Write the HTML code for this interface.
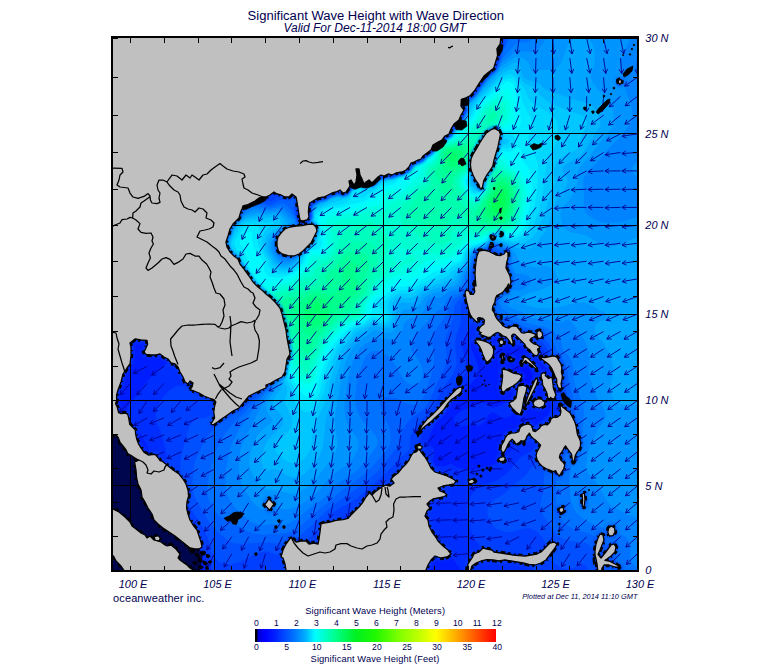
<!DOCTYPE html><html><head><meta charset="utf-8"><title>Significant Wave Height</title>
<style>html,body{margin:0;padding:0;background:#fff;}body{width:775px;height:665px;overflow:hidden;font-family:"Liberation Sans",sans-serif;}svg{display:block}text{font-family:"Liberation Sans",sans-serif;}</style></head><body>
<svg width="775" height="665" viewBox="0 0 775 665">
<rect width="775" height="665" fill="#fff"/>
<defs><clipPath id="mc"><rect x="113" y="38" width="524" height="532"/></clipPath>
<linearGradient id="cb" x1="0" x2="1" y1="0" y2="0">
<stop offset="0" stop-color="#000000"/>
<stop offset="0.008" stop-color="#000000"/>
<stop offset="0.012" stop-color="#0000d0"/>
<stop offset="0.04" stop-color="#0000ff"/>
<stop offset="0.083" stop-color="#0020ff"/>
<stop offset="0.166" stop-color="#0078ff"/>
<stop offset="0.21" stop-color="#00b0ff"/>
<stop offset="0.25" stop-color="#00ffff"/>
<stop offset="0.33" stop-color="#00ff90"/>
<stop offset="0.42" stop-color="#00f020"/>
<stop offset="0.5" stop-color="#20f800"/>
<stop offset="0.6" stop-color="#80ff00"/>
<stop offset="0.69" stop-color="#c8ff00"/>
<stop offset="0.75" stop-color="#ffff00"/>
<stop offset="0.83" stop-color="#ffb000"/>
<stop offset="0.92" stop-color="#ff5000"/>
<stop offset="1" stop-color="#ff0000"/>
</linearGradient><filter id="hb" x="-5%" y="-5%" width="110%" height="110%"><feGaussianBlur stdDeviation="1.4"/></filter></defs>
<g clip-path="url(#mc)">
<rect x="113" y="38" width="524" height="532" fill="#0a5cf0"/>
<rect x="112" y="37" width="526" height="534" fill="rgb(0, 0, 138)"/>
<path d="M108.0 32.0L112.0 32.0L116.0 32.0L120.0 32.0L124.0 32.0L128.0 32.0L132.0 32.0L136.0 32.0L140.0 32.0L144.0 32.0L148.0 32.0L152.0 32.0L156.0 32.0L160.0 32.0L164.0 32.0L168.0 32.0L172.0 32.0L176.0 32.0L180.0 32.0L184.0 32.0L188.0 32.0L192.0 32.0L196.0 32.0L200.0 32.0L204.0 32.0L208.0 32.0L212.0 32.0L216.0 32.0L220.0 32.0L224.0 32.0L228.0 32.0L232.0 32.0L236.0 32.0L240.0 32.0L244.0 32.0L248.0 32.0L252.0 32.0L256.0 32.0L260.0 32.0L264.0 32.0L268.0 32.0L272.0 32.0L276.0 32.0L280.0 32.0L284.0 32.0L288.0 32.0L292.0 32.0L296.0 32.0L300.0 32.0L304.0 32.0L308.0 32.0L312.0 32.0L316.0 32.0L320.0 32.0L324.0 32.0L328.0 32.0L332.0 32.0L336.0 32.0L340.0 32.0L344.0 32.0L348.0 32.0L352.0 32.0L356.0 32.0L360.0 32.0L364.0 32.0L368.0 32.0L372.0 32.0L376.0 32.0L380.0 32.0L384.0 32.0L388.0 32.0L392.0 32.0L396.0 32.0L400.0 32.0L404.0 32.0L408.0 32.0L412.0 32.0L416.0 32.0L420.0 32.0L424.0 32.0L428.0 32.0L432.0 32.0L436.0 32.0L440.0 32.0L444.0 32.0L448.0 32.0L452.0 32.0L456.0 32.0L460.0 32.0L464.0 32.0L468.0 32.0L472.0 32.0L476.0 32.0L480.0 32.0L484.0 32.0L488.0 32.0L492.0 32.0L496.0 32.0L500.0 32.0L504.0 32.0L508.0 32.0L512.0 32.0L516.0 32.0L520.0 32.0L524.0 32.0L528.0 32.0L532.0 32.0L536.0 32.0L540.0 32.0L544.0 32.0L548.0 32.0L552.0 32.0L556.0 32.0L560.0 32.0L564.0 32.0L568.0 32.0L572.0 32.0L576.0 32.0L580.0 32.0L584.0 32.0L588.0 32.0L592.0 32.0L596.0 32.0L600.0 32.0L604.0 32.0L608.0 32.0L612.0 32.0L616.0 32.0L620.0 32.0L624.0 32.0L628.0 32.0L632.0 32.0L636.0 32.0L640.0 32.0L644.0 32.0L644.0 36.0L644.0 40.0L644.0 44.0L644.0 48.0L644.0 52.0L644.0 56.0L644.0 60.0L644.0 64.0L644.0 68.0L644.0 72.0L644.0 76.0L644.0 80.0L644.0 84.0L644.0 88.0L644.0 92.0L644.0 96.0L644.0 100.0L644.0 104.0L644.0 108.0L644.0 112.0L644.0 116.0L644.0 120.0L644.0 124.0L644.0 128.0L644.0 132.0L644.0 136.0L644.0 140.0L644.0 144.0L644.0 148.0L644.0 152.0L644.0 156.0L644.0 160.0L644.0 164.0L644.0 168.0L644.0 172.0L644.0 176.0L644.0 180.0L644.0 184.0L644.0 188.0L644.0 192.0L644.0 196.0L644.0 200.0L644.0 204.0L644.0 208.0L644.0 212.0L644.0 216.0L644.0 220.0L644.0 224.0L644.0 228.0L644.0 232.0L644.0 236.0L644.0 240.0L644.0 244.0L644.0 248.0L644.0 252.0L644.0 256.0L644.0 260.0L644.0 264.0L644.0 268.0L644.0 272.0L644.0 276.0L644.0 280.0L644.0 284.0L644.0 288.0L644.0 292.0L644.0 296.0L644.0 300.0L644.0 304.0L644.0 308.0L644.0 312.0L644.0 316.0L644.0 320.0L644.0 324.0L644.0 328.0L644.0 332.0L644.0 336.0L644.0 340.0L644.0 344.0L644.0 348.0L644.0 352.0L644.0 356.0L644.0 360.0L644.0 364.0L644.0 368.0L644.0 372.0L644.0 376.0L644.0 380.0L644.0 384.0L644.0 388.0L644.0 392.0L644.0 396.0L644.0 400.0L644.0 404.0L644.0 408.0L644.0 412.0L644.0 416.0L644.0 420.0L644.0 424.0L644.0 428.0L644.0 432.0L644.0 436.0L644.0 440.0L644.0 444.0L644.0 448.0L644.0 452.0L644.0 456.0L644.0 460.0L644.0 464.0L644.0 468.0L644.0 472.0L644.0 476.0L644.0 480.0L644.0 484.0L644.0 488.0L644.0 492.0L644.0 496.0L644.0 500.0L644.0 504.0L644.0 508.0L644.0 512.0L644.0 516.0L644.0 520.0L644.0 524.0L644.0 528.0L644.0 532.0L644.0 536.0L644.0 540.0L644.0 544.0L644.0 548.0L644.0 552.0L644.0 556.0L644.0 560.0L644.0 564.0L644.0 568.0L644.0 572.0L644.0 576.0L640.0 576.0L636.0 576.0L632.0 576.0L628.0 576.0L624.0 576.0L620.0 576.0L616.0 576.0L612.0 576.0L608.0 576.0L604.0 576.0L600.0 576.0L596.0 576.0L592.0 576.0L588.0 576.0L584.0 576.0L580.0 576.0L576.0 576.0L572.0 576.0L568.0 576.0L564.0 576.0L560.0 576.0L556.0 576.0L552.0 576.0L548.0 576.0L544.0 576.0L540.0 576.0L536.0 576.0L532.0 576.0L528.0 576.0L524.0 576.0L520.0 576.0L516.0 576.0L512.0 576.0L508.0 576.0L504.0 576.0L500.0 576.0L496.0 576.0L492.0 576.0L488.0 576.0L484.0 576.0L480.0 576.0L476.0 576.0L472.0 576.0L468.0 576.0L464.0 576.0L460.0 576.0L456.0 576.0L452.0 576.0L448.0 576.0L444.0 576.0L440.0 576.0L436.0 576.0L432.0 576.0L428.0 576.0L424.0 576.0L420.0 576.0L416.0 576.0L412.0 576.0L408.0 576.0L404.0 576.0L400.0 576.0L396.0 576.0L392.0 576.0L388.0 576.0L384.0 576.0L380.0 576.0L376.0 576.0L372.0 576.0L368.0 576.0L364.0 576.0L360.0 576.0L356.0 576.0L352.0 576.0L348.0 576.0L344.0 576.0L340.0 576.0L336.0 576.0L332.0 576.0L328.0 576.0L324.0 576.0L320.0 576.0L316.0 576.0L312.0 576.0L308.0 576.0L304.0 576.0L300.0 576.0L296.0 576.0L292.0 576.0L288.0 576.0L284.0 576.0L280.0 576.0L276.0 576.0L272.0 576.0L268.0 576.0L264.0 576.0L260.0 576.0L256.0 576.0L252.0 576.0L248.0 576.0L244.0 576.0L240.0 576.0L236.0 576.0L232.0 576.0L228.0 576.0L224.0 576.0L220.0 576.0L216.0 576.0L212.0 576.0L208.0 576.0L204.0 576.0L200.0 576.0L196.7 576.0L197.2 572.0L197.3 568.0L196.8 564.0L196.0 561.7L195.1 560.0L192.0 556.2L191.8 556.0L188.0 552.7L187.1 552.0L184.0 549.2L182.7 548.0L180.0 545.2L178.8 544.0L176.0 540.9L175.2 540.0L172.0 536.8L171.0 536.0L168.0 533.4L166.3 532.0L164.0 530.0L161.7 528.0L160.0 526.3L157.6 524.0L156.0 522.4L153.7 520.0L152.0 518.2L149.8 516.0L148.0 513.8L146.4 512.0L144.0 508.7L143.5 508.0L140.8 504.0L140.0 502.6L138.4 500.0L136.3 496.0L136.0 495.4L134.2 492.0L132.4 488.0L132.0 486.7L131.0 484.0L129.9 480.0L129.4 476.0L129.0 472.0L128.7 468.0L128.1 464.0L128.0 463.5L126.9 460.0L125.0 456.0L124.0 454.2L122.7 452.0L120.0 448.2L119.8 448.0L116.0 444.3L115.5 444.0L112.0 441.6L108.4 440.0L108.0 439.8L108.0 436.0L108.0 432.0L108.0 428.0L108.0 424.0L108.0 420.0L108.0 416.0L108.0 412.0L108.0 408.0L108.0 404.0L108.0 400.0L108.0 396.0L108.0 392.0L108.0 388.0L108.0 384.0L108.0 380.0L108.0 376.0L108.0 372.0L108.0 368.0L108.0 364.0L108.0 360.0L108.0 356.0L108.0 352.0L108.0 348.0L108.0 344.0L108.0 340.0L108.0 336.0L108.0 332.0L108.0 328.0L108.0 324.0L108.0 320.0L108.0 316.0L108.0 312.0L108.0 308.0L108.0 304.0L108.0 300.0L108.0 296.0L108.0 292.0L108.0 288.0L108.0 284.0L108.0 280.0L108.0 276.0L108.0 272.0L108.0 268.0L108.0 264.0L108.0 260.0L108.0 256.0L108.0 252.0L108.0 248.0L108.0 244.0L108.0 240.0L108.0 236.0L108.0 232.0L108.0 228.0L108.0 224.0L108.0 220.0L108.0 216.0L108.0 212.0L108.0 208.0L108.0 204.0L108.0 200.0L108.0 196.0L108.0 192.0L108.0 188.0L108.0 184.0L108.0 180.0L108.0 176.0L108.0 172.0L108.0 168.0L108.0 164.0L108.0 160.0L108.0 156.0L108.0 152.0L108.0 148.0L108.0 144.0L108.0 140.0L108.0 136.0L108.0 132.0L108.0 128.0L108.0 124.0L108.0 120.0L108.0 116.0L108.0 112.0L108.0 108.0L108.0 104.0L108.0 100.0L108.0 96.0L108.0 92.0L108.0 88.0L108.0 84.0L108.0 80.0L108.0 76.0L108.0 72.0L108.0 68.0L108.0 64.0L108.0 60.0L108.0 56.0L108.0 52.0L108.0 48.0L108.0 44.0L108.0 40.0L108.0 36.0L108.0 32.0Z" fill="rgb(0,15,255)" fill-rule="evenodd"/>
<path d="M108.0 32.0L112.0 32.0L116.0 32.0L120.0 32.0L124.0 32.0L128.0 32.0L132.0 32.0L136.0 32.0L140.0 32.0L144.0 32.0L148.0 32.0L152.0 32.0L156.0 32.0L160.0 32.0L164.0 32.0L168.0 32.0L172.0 32.0L176.0 32.0L180.0 32.0L184.0 32.0L188.0 32.0L192.0 32.0L196.0 32.0L200.0 32.0L204.0 32.0L208.0 32.0L212.0 32.0L216.0 32.0L220.0 32.0L224.0 32.0L228.0 32.0L232.0 32.0L236.0 32.0L240.0 32.0L244.0 32.0L248.0 32.0L252.0 32.0L256.0 32.0L260.0 32.0L264.0 32.0L268.0 32.0L272.0 32.0L276.0 32.0L280.0 32.0L284.0 32.0L288.0 32.0L292.0 32.0L296.0 32.0L300.0 32.0L304.0 32.0L308.0 32.0L312.0 32.0L316.0 32.0L320.0 32.0L324.0 32.0L328.0 32.0L332.0 32.0L336.0 32.0L340.0 32.0L344.0 32.0L348.0 32.0L352.0 32.0L356.0 32.0L360.0 32.0L364.0 32.0L368.0 32.0L372.0 32.0L376.0 32.0L380.0 32.0L384.0 32.0L388.0 32.0L392.0 32.0L396.0 32.0L400.0 32.0L404.0 32.0L408.0 32.0L412.0 32.0L416.0 32.0L420.0 32.0L424.0 32.0L428.0 32.0L432.0 32.0L436.0 32.0L440.0 32.0L444.0 32.0L448.0 32.0L452.0 32.0L456.0 32.0L460.0 32.0L464.0 32.0L468.0 32.0L472.0 32.0L476.0 32.0L480.0 32.0L484.0 32.0L488.0 32.0L492.0 32.0L496.0 32.0L500.0 32.0L504.0 32.0L508.0 32.0L512.0 32.0L516.0 32.0L520.0 32.0L524.0 32.0L528.0 32.0L532.0 32.0L536.0 32.0L540.0 32.0L544.0 32.0L548.0 32.0L552.0 32.0L556.0 32.0L560.0 32.0L564.0 32.0L568.0 32.0L572.0 32.0L576.0 32.0L580.0 32.0L584.0 32.0L588.0 32.0L592.0 32.0L596.0 32.0L600.0 32.0L604.0 32.0L608.0 32.0L612.0 32.0L616.0 32.0L620.0 32.0L624.0 32.0L628.0 32.0L632.0 32.0L636.0 32.0L640.0 32.0L644.0 32.0L644.0 36.0L644.0 40.0L644.0 44.0L644.0 48.0L644.0 52.0L644.0 56.0L644.0 60.0L644.0 64.0L644.0 68.0L644.0 72.0L644.0 76.0L644.0 80.0L644.0 84.0L644.0 88.0L644.0 92.0L644.0 96.0L644.0 100.0L644.0 104.0L644.0 108.0L644.0 112.0L644.0 116.0L644.0 120.0L644.0 124.0L644.0 128.0L644.0 132.0L644.0 136.0L644.0 140.0L644.0 144.0L644.0 148.0L644.0 152.0L644.0 156.0L644.0 160.0L644.0 164.0L644.0 168.0L644.0 172.0L644.0 176.0L644.0 180.0L644.0 184.0L644.0 188.0L644.0 192.0L644.0 196.0L644.0 200.0L644.0 204.0L644.0 208.0L644.0 212.0L644.0 216.0L644.0 220.0L644.0 224.0L644.0 228.0L644.0 232.0L644.0 236.0L644.0 240.0L644.0 244.0L644.0 248.0L644.0 252.0L644.0 256.0L644.0 260.0L644.0 264.0L644.0 268.0L644.0 272.0L644.0 276.0L644.0 280.0L644.0 284.0L644.0 288.0L644.0 292.0L644.0 296.0L644.0 300.0L644.0 304.0L644.0 308.0L644.0 312.0L644.0 316.0L644.0 320.0L644.0 324.0L644.0 328.0L644.0 332.0L644.0 336.0L644.0 340.0L644.0 344.0L644.0 348.0L644.0 352.0L644.0 356.0L644.0 360.0L644.0 364.0L644.0 368.0L644.0 372.0L644.0 376.0L644.0 380.0L644.0 384.0L644.0 388.0L644.0 392.0L644.0 396.0L644.0 400.0L644.0 404.0L644.0 408.0L644.0 412.0L644.0 416.0L644.0 420.0L644.0 424.0L644.0 428.0L644.0 432.0L644.0 436.0L644.0 440.0L644.0 444.0L644.0 448.0L644.0 452.0L644.0 456.0L644.0 460.0L644.0 464.0L644.0 468.0L644.0 472.0L644.0 476.0L644.0 480.0L644.0 484.0L644.0 488.0L644.0 492.0L644.0 496.0L644.0 500.0L644.0 504.0L644.0 508.0L644.0 512.0L644.0 516.0L644.0 520.0L644.0 524.0L644.0 528.0L644.0 532.0L644.0 536.0L644.0 540.0L644.0 544.0L644.0 548.0L644.0 552.0L644.0 556.0L644.0 560.0L644.0 564.0L644.0 568.0L644.0 572.0L644.0 576.0L640.0 576.0L636.0 576.0L632.0 576.0L628.0 576.0L624.0 576.0L620.0 576.0L616.0 576.0L612.0 576.0L608.0 576.0L604.0 576.0L600.0 576.0L596.0 576.0L592.0 576.0L588.0 576.0L584.0 576.0L580.0 576.0L576.0 576.0L572.0 576.0L568.0 576.0L564.0 576.0L560.0 576.0L556.0 576.0L552.0 576.0L548.0 576.0L544.0 576.0L540.0 576.0L536.0 576.0L532.0 576.0L528.0 576.0L524.0 576.0L520.0 576.0L516.0 576.0L512.0 576.0L508.0 576.0L504.0 576.0L500.0 576.0L496.0 576.0L492.0 576.0L488.0 576.0L484.0 576.0L480.0 576.0L476.0 576.0L472.0 576.0L468.0 576.0L464.0 576.0L460.0 576.0L456.0 576.0L452.0 576.0L448.0 576.0L444.0 576.0L440.0 576.0L436.0 576.0L432.0 576.0L428.0 576.0L424.0 576.0L420.0 576.0L416.0 576.0L412.0 576.0L408.0 576.0L404.0 576.0L400.0 576.0L396.0 576.0L392.0 576.0L388.0 576.0L384.0 576.0L380.0 576.0L376.0 576.0L372.0 576.0L368.0 576.0L364.0 576.0L360.0 576.0L356.0 576.0L352.0 576.0L348.0 576.0L344.0 576.0L340.0 576.0L336.0 576.0L332.0 576.0L328.0 576.0L324.0 576.0L320.0 576.0L316.0 576.0L312.0 576.0L308.0 576.0L304.0 576.0L300.0 576.0L296.0 576.0L292.0 576.0L288.0 576.0L284.0 576.0L280.0 576.0L276.0 576.0L272.0 576.0L268.0 576.0L264.0 576.0L260.0 576.0L256.0 576.0L252.0 576.0L248.0 576.0L244.0 576.0L240.0 576.0L236.0 576.0L232.0 576.0L228.0 576.0L224.0 576.0L220.0 576.0L216.0 576.0L212.0 576.0L208.0 576.0L204.0 576.0L201.4 576.0L201.2 572.0L200.9 568.0L200.3 564.0L200.0 563.1L198.9 560.0L196.7 556.0L196.0 554.9L193.5 552.0L192.0 550.1L189.9 548.0L188.0 545.7L186.4 544.0L184.0 541.1L183.0 540.0L180.0 536.5L179.6 536.0L176.0 532.1L175.9 532.0L172.0 528.0L172.0 528.0L168.0 524.0L168.0 524.0L164.3 520.0L164.0 519.6L160.9 516.0L160.0 514.7L157.9 512.0L156.0 508.8L155.5 508.0L152.9 504.0L152.0 502.7L150.2 500.0L148.0 496.1L147.9 496.0L146.0 492.0L144.3 488.0L144.0 487.2L142.8 484.0L141.6 480.0L140.7 476.0L140.0 472.4L139.9 472.0L139.1 468.0L138.1 464.0L136.9 460.0L136.0 457.2L135.6 456.0L133.8 452.0L132.0 448.8L131.5 448.0L128.8 444.0L128.0 443.0L125.6 440.0L124.0 438.1L122.1 436.0L120.0 433.7L118.3 432.0L116.0 429.4L114.6 428.0L112.0 424.9L110.9 424.0L108.0 421.1L108.0 420.0L108.0 416.0L108.0 412.0L108.0 408.0L108.0 404.0L108.0 400.0L108.0 396.0L108.0 392.0L108.0 388.0L108.0 384.0L108.0 380.0L108.0 376.0L108.0 372.0L108.0 368.0L108.0 364.0L108.0 360.0L108.0 356.0L108.0 352.0L108.0 348.0L108.0 344.0L108.0 340.0L108.0 336.0L108.0 332.0L108.0 328.0L108.0 324.0L108.0 320.0L108.0 316.0L108.0 312.0L108.0 308.0L108.0 304.0L108.0 300.0L108.0 296.0L108.0 292.0L108.0 288.0L108.0 284.0L108.0 280.0L108.0 276.0L108.0 272.0L108.0 268.0L108.0 264.0L108.0 260.0L108.0 256.0L108.0 252.0L108.0 248.0L108.0 244.0L108.0 240.0L108.0 236.0L108.0 232.0L108.0 228.0L108.0 224.0L108.0 220.0L108.0 216.0L108.0 212.0L108.0 208.0L108.0 204.0L108.0 200.0L108.0 196.0L108.0 192.0L108.0 188.0L108.0 184.0L108.0 180.0L108.0 176.0L108.0 172.0L108.0 168.0L108.0 164.0L108.0 160.0L108.0 156.0L108.0 152.0L108.0 148.0L108.0 144.0L108.0 140.0L108.0 136.0L108.0 132.0L108.0 128.0L108.0 124.0L108.0 120.0L108.0 116.0L108.0 112.0L108.0 108.0L108.0 104.0L108.0 100.0L108.0 96.0L108.0 92.0L108.0 88.0L108.0 84.0L108.0 80.0L108.0 76.0L108.0 72.0L108.0 68.0L108.0 64.0L108.0 60.0L108.0 56.0L108.0 52.0L108.0 48.0L108.0 44.0L108.0 40.0L108.0 36.0L108.0 32.0ZM520.0 363.3L519.3 364.0L516.0 367.2L514.1 368.0L512.0 369.2L508.0 370.7L505.0 372.0L504.0 372.9L501.4 376.0L500.0 379.4L499.9 380.0L500.0 380.9L501.1 384.0L504.0 386.4L508.0 387.2L512.0 387.7L514.9 388.0L516.0 388.1L520.0 388.5L521.8 388.0L524.0 387.3L528.0 385.0L531.7 384.0L532.0 383.8L532.3 384.0L536.0 384.9L540.0 386.0L542.0 384.0L544.0 380.9L544.2 380.0L544.0 378.7L540.0 378.4L536.0 379.2L532.2 376.0L532.0 375.8L530.2 372.0L528.8 368.0L528.0 364.1L528.0 364.0L524.0 360.8L520.0 363.3Z" fill="rgb(0,29,255)" fill-rule="evenodd"/>
<path d="M108.0 32.0L112.0 32.0L116.0 32.0L120.0 32.0L124.0 32.0L128.0 32.0L128.6 32.0L130.6 36.0L132.0 37.6L134.0 40.0L136.0 42.1L137.8 44.0L140.0 46.3L141.6 48.0L144.0 50.8L144.6 52.0L147.1 56.0L148.0 56.9L150.6 60.0L152.0 61.4L154.5 64.0L156.0 65.6L158.5 68.0L160.0 69.6L162.8 72.0L164.0 73.4L165.5 76.0L168.0 79.2L168.5 80.0L172.0 83.7L172.2 84.0L174.6 88.0L176.0 89.8L177.2 92.0L179.9 96.0L180.0 96.1L182.6 100.0L184.0 101.4L186.2 104.0L188.0 106.5L188.8 108.0L192.0 111.9L192.0 112.0L195.6 116.0L196.0 116.5L198.0 120.0L200.0 122.6L201.0 124.0L203.5 128.0L204.0 128.5L207.3 132.0L208.0 132.7L210.9 136.0L212.0 137.5L214.2 140.0L216.0 141.8L218.4 144.0L220.0 145.7L222.4 148.0L224.0 149.6L226.9 152.0L228.0 153.0L232.0 155.9L232.2 156.0L236.0 157.6L239.4 156.0L240.0 155.5L243.4 156.0L244.0 156.1L247.8 160.0L248.0 160.1L251.8 164.0L252.0 164.2L255.5 168.0L256.0 168.6L259.1 172.0L260.0 172.8L264.0 175.1L264.5 172.0L264.0 168.0L264.0 168.0L263.7 164.0L262.0 160.0L260.5 156.0L260.0 154.8L258.1 152.0L256.0 148.1L255.9 148.0L253.5 144.0L252.1 140.0L252.0 139.6L250.0 136.0L248.7 132.0L248.0 130.1L246.5 128.0L244.9 124.0L244.0 121.4L243.0 120.0L240.9 116.0L240.0 114.6L237.5 112.0L236.0 109.1L235.2 108.0L233.0 104.0L232.0 102.8L229.2 100.0L228.0 98.8L225.5 96.0L224.0 93.3L223.1 92.0L221.1 88.0L220.0 86.5L218.2 84.0L216.0 81.3L214.9 80.0L212.5 76.0L212.0 74.7L210.4 72.0L208.5 68.0L208.0 66.7L206.4 64.0L204.5 60.0L204.0 58.7L202.5 56.0L200.6 52.0L200.0 48.0L200.0 47.8L198.5 44.0L196.5 40.0L196.0 38.6L194.5 36.0L192.7 32.0L196.0 32.0L200.0 32.0L204.0 32.0L208.0 32.0L212.0 32.0L216.0 32.0L220.0 32.0L224.0 32.0L228.0 32.0L232.0 32.0L236.0 32.0L240.0 32.0L244.0 32.0L248.0 32.0L252.0 32.0L256.0 32.0L260.0 32.0L264.0 32.0L268.0 32.0L272.0 32.0L276.0 32.0L280.0 32.0L284.0 32.0L288.0 32.0L292.0 32.0L296.0 32.0L300.0 32.0L304.0 32.0L308.0 32.0L312.0 32.0L316.0 32.0L320.0 32.0L324.0 32.0L328.0 32.0L332.0 32.0L336.0 32.0L340.0 32.0L344.0 32.0L348.0 32.0L352.0 32.0L356.0 32.0L360.0 32.0L364.0 32.0L368.0 32.0L372.0 32.0L376.0 32.0L380.0 32.0L384.0 32.0L388.0 32.0L392.0 32.0L396.0 32.0L400.0 32.0L404.0 32.0L408.0 32.0L412.0 32.0L416.0 32.0L420.0 32.0L424.0 32.0L428.0 32.0L432.0 32.0L436.0 32.0L440.0 32.0L444.0 32.0L448.0 32.0L452.0 32.0L456.0 32.0L460.0 32.0L464.0 32.0L468.0 32.0L472.0 32.0L476.0 32.0L480.0 32.0L484.0 32.0L488.0 32.0L492.0 32.0L496.0 32.0L500.0 32.0L504.0 32.0L508.0 32.0L512.0 32.0L516.0 32.0L520.0 32.0L524.0 32.0L528.0 32.0L532.0 32.0L536.0 32.0L540.0 32.0L544.0 32.0L548.0 32.0L552.0 32.0L556.0 32.0L560.0 32.0L564.0 32.0L568.0 32.0L572.0 32.0L576.0 32.0L580.0 32.0L584.0 32.0L588.0 32.0L592.0 32.0L596.0 32.0L600.0 32.0L604.0 32.0L608.0 32.0L612.0 32.0L616.0 32.0L620.0 32.0L624.0 32.0L628.0 32.0L632.0 32.0L636.0 32.0L640.0 32.0L644.0 32.0L644.0 36.0L644.0 40.0L644.0 44.0L644.0 48.0L644.0 52.0L644.0 56.0L644.0 60.0L644.0 64.0L644.0 68.0L644.0 72.0L644.0 76.0L644.0 80.0L644.0 84.0L644.0 88.0L644.0 92.0L644.0 96.0L644.0 100.0L644.0 104.0L644.0 108.0L644.0 112.0L644.0 116.0L644.0 120.0L644.0 124.0L644.0 128.0L644.0 132.0L644.0 136.0L644.0 140.0L644.0 144.0L644.0 148.0L644.0 152.0L644.0 156.0L644.0 160.0L644.0 164.0L644.0 168.0L644.0 172.0L644.0 176.0L644.0 180.0L644.0 184.0L644.0 188.0L644.0 192.0L644.0 196.0L644.0 200.0L644.0 204.0L644.0 208.0L644.0 212.0L644.0 216.0L644.0 220.0L644.0 224.0L644.0 228.0L644.0 232.0L644.0 236.0L644.0 240.0L644.0 244.0L644.0 248.0L644.0 252.0L644.0 256.0L644.0 260.0L644.0 264.0L644.0 268.0L644.0 272.0L644.0 276.0L644.0 280.0L644.0 284.0L644.0 288.0L644.0 292.0L644.0 296.0L644.0 300.0L644.0 304.0L644.0 308.0L644.0 312.0L644.0 316.0L644.0 320.0L644.0 324.0L644.0 328.0L644.0 332.0L644.0 336.0L644.0 340.0L644.0 344.0L644.0 348.0L644.0 352.0L644.0 356.0L644.0 360.0L644.0 364.0L644.0 368.0L644.0 372.0L644.0 376.0L644.0 380.0L644.0 384.0L644.0 388.0L644.0 392.0L644.0 396.0L644.0 400.0L644.0 404.0L644.0 408.0L644.0 412.0L644.0 416.0L644.0 420.0L644.0 424.0L644.0 428.0L644.0 432.0L644.0 436.0L644.0 440.0L644.0 444.0L644.0 448.0L644.0 452.0L644.0 456.0L644.0 460.0L644.0 464.0L644.0 468.0L644.0 472.0L644.0 476.0L644.0 480.0L644.0 484.0L644.0 488.0L644.0 492.0L644.0 496.0L644.0 500.0L644.0 504.0L644.0 508.0L644.0 512.0L644.0 516.0L644.0 520.0L644.0 524.0L644.0 528.0L644.0 532.0L644.0 536.0L644.0 540.0L644.0 544.0L644.0 548.0L644.0 552.0L644.0 556.0L644.0 560.0L644.0 564.0L644.0 568.0L644.0 572.0L644.0 576.0L640.0 576.0L636.0 576.0L632.0 576.0L628.0 576.0L624.0 576.0L620.0 576.0L616.0 576.0L612.0 576.0L608.0 576.0L604.0 576.0L600.0 576.0L596.0 576.0L592.0 576.0L588.0 576.0L584.0 576.0L580.0 576.0L576.0 576.0L572.0 576.0L568.0 576.0L564.0 576.0L560.0 576.0L556.0 576.0L552.0 576.0L548.0 576.0L544.0 576.0L540.0 576.0L536.0 576.0L532.0 576.0L528.0 576.0L524.0 576.0L520.0 576.0L516.0 576.0L512.0 576.0L508.0 576.0L504.0 576.0L500.0 576.0L496.0 576.0L492.0 576.0L488.0 576.0L484.0 576.0L480.0 576.0L476.0 576.0L472.0 576.0L468.0 576.0L466.6 576.0L464.0 573.0L463.3 572.0L460.0 568.5L459.6 568.0L456.6 564.0L456.0 563.1L453.9 560.0L452.0 557.2L451.2 556.0L448.3 552.0L448.0 551.5L445.2 548.0L444.0 546.5L440.0 544.7L436.0 544.9L432.0 545.9L428.0 547.6L427.3 548.0L424.0 549.9L420.0 551.1L416.0 551.9L415.8 552.0L412.0 555.0L410.8 556.0L408.0 559.8L407.9 560.0L407.0 564.0L407.7 568.0L408.0 569.1L408.8 572.0L409.2 576.0L408.0 576.0L404.0 576.0L400.0 576.0L396.0 576.0L392.0 576.0L388.3 576.0L388.3 572.0L388.6 568.0L389.9 564.0L389.0 560.0L388.0 558.6L385.3 556.0L384.0 554.1L382.4 552.0L381.7 548.0L381.7 544.0L382.2 540.0L382.2 536.0L382.8 532.0L382.5 528.0L380.0 524.6L376.0 525.6L372.0 527.6L370.5 528.0L368.0 528.7L364.0 530.8L362.2 532.0L360.0 533.7L357.1 536.0L356.0 537.4L354.4 540.0L352.4 544.0L352.0 544.6L348.8 548.0L348.0 548.4L344.0 550.9L342.9 552.0L340.8 556.0L340.7 560.0L341.8 564.0L341.9 568.0L340.1 572.0L340.0 572.3L338.4 576.0L336.0 576.0L332.0 576.0L328.0 576.0L324.0 576.0L320.0 576.0L316.0 576.0L312.0 576.0L308.0 576.0L304.0 576.0L300.0 576.0L296.0 576.0L292.0 576.0L288.0 576.0L284.0 576.0L280.0 576.0L276.0 576.0L272.0 576.0L268.0 576.0L264.0 576.0L260.0 576.0L256.0 576.0L252.0 576.0L248.0 576.0L244.0 576.0L240.0 576.0L236.0 576.0L232.0 576.0L228.0 576.0L224.0 576.0L220.0 576.0L216.0 576.0L212.0 576.0L208.0 576.0L207.8 576.0L206.7 572.0L205.7 568.0L204.8 564.0L204.0 561.5L203.6 560.0L201.9 556.0L200.0 552.1L199.9 552.0L197.6 548.0L196.0 545.2L195.1 544.0L192.5 540.0L192.0 539.2L189.7 536.0L188.0 533.6L186.7 532.0L184.0 528.4L183.7 528.0L180.4 524.0L180.0 523.5L177.1 520.0L176.0 518.5L174.0 516.0L172.0 513.1L171.3 512.0L168.7 508.0L168.0 506.6L166.6 504.0L164.7 500.0L164.0 498.7L162.6 496.0L160.6 492.0L160.0 490.7L158.8 488.0L157.6 484.0L156.7 480.0L156.0 476.1L156.0 476.0L155.1 472.0L154.1 468.0L153.0 464.0L152.0 460.4L151.9 460.0L150.7 456.0L149.3 452.0L148.0 448.5L147.8 448.0L146.0 444.0L144.0 440.0L144.0 439.9L141.8 436.0L140.0 433.2L139.1 432.0L136.1 428.0L136.0 427.9L133.1 424.0L132.0 422.5L130.2 420.0L128.1 416.0L128.0 415.8L127.3 412.0L127.7 408.0L128.0 407.2L129.5 404.0L132.0 400.8L132.7 400.0L136.0 396.3L136.3 396.0L139.3 392.0L140.0 391.0L142.2 388.0L144.0 385.5L145.1 384.0L148.0 380.2L148.2 380.0L152.0 376.0L152.0 376.0L156.0 372.6L156.8 372.0L160.0 369.5L161.8 368.0L164.0 365.9L166.0 364.0L168.0 362.1L170.4 360.0L172.0 358.5L175.0 356.0L176.0 355.1L179.9 352.0L180.0 351.9L184.0 348.7L184.9 348.0L188.0 345.3L188.8 344.0L188.4 340.0L188.0 339.5L185.2 336.0L184.0 335.4L180.0 332.4L179.6 332.0L176.0 330.8L172.0 329.7L169.9 328.0L168.0 326.9L165.2 324.0L164.0 322.8L161.5 320.0L160.0 318.4L157.8 316.0L156.0 314.4L152.0 312.5L150.6 312.0L148.0 311.5L144.0 309.6L141.4 308.0L140.0 307.4L136.0 305.4L133.7 304.0L132.0 303.3L128.0 301.2L125.3 300.0L124.0 299.7L120.0 299.0L116.0 296.9L113.7 296.0L112.0 295.6L108.0 295.5L108.0 292.0L108.0 288.0L108.0 284.0L108.0 280.0L108.0 276.0L108.0 272.0L108.0 268.0L108.0 264.0L108.0 260.0L108.0 256.0L108.0 252.0L108.0 248.0L108.0 244.0L108.0 240.0L108.0 236.0L108.0 232.0L108.0 228.0L108.0 224.0L108.0 220.0L108.0 216.0L108.0 212.0L108.0 211.5L112.0 211.5L116.0 211.3L120.0 211.8L121.4 208.0L120.0 205.5L119.3 204.0L116.3 200.0L116.0 199.6L112.9 196.0L112.0 195.0L109.3 192.0L108.0 190.9L108.0 188.0L108.0 184.0L108.0 180.0L108.0 176.0L108.0 172.0L108.0 168.0L108.0 164.0L108.0 160.0L108.0 156.0L108.0 152.0L108.0 148.0L108.0 144.0L108.0 140.0L108.0 136.0L108.0 132.0L108.0 128.0L108.0 124.0L108.0 120.0L108.0 116.0L108.0 112.0L108.0 108.0L108.0 104.0L108.0 100.0L108.0 96.0L108.0 92.0L108.0 88.0L108.0 84.0L108.0 80.0L108.0 76.0L108.0 72.0L108.0 68.0L108.0 64.0L108.0 60.0L108.0 56.0L108.0 52.0L108.0 48.0L108.0 44.0L108.0 40.0L108.0 36.0L108.0 32.0ZM380.0 43.4L378.8 44.0L380.0 44.7L380.9 44.0L380.0 43.4ZM476.0 338.5L473.6 340.0L472.0 341.6L470.8 344.0L470.9 348.0L472.0 350.6L472.7 352.0L474.9 356.0L476.0 358.8L476.5 360.0L477.6 364.0L478.4 368.0L478.8 372.0L477.8 376.0L476.0 377.9L474.6 380.0L472.0 382.8L470.7 384.0L468.0 386.1L465.2 388.0L464.0 388.9L460.2 392.0L460.0 392.2L456.7 396.0L456.0 396.8L453.2 400.0L452.0 401.2L449.9 404.0L448.0 406.9L447.4 408.0L445.7 412.0L444.0 414.9L443.2 416.0L440.0 418.6L438.6 420.0L436.0 422.7L435.0 424.0L432.9 428.0L432.0 430.2L431.3 432.0L429.7 436.0L428.3 440.0L428.6 444.0L432.0 447.3L433.1 448.0L435.0 452.0L433.7 456.0L432.8 460.0L434.2 464.0L436.0 465.9L440.0 466.6L444.0 466.4L448.0 464.7L452.0 464.3L456.0 466.5L460.0 467.9L460.2 468.0L464.0 469.1L468.0 469.7L472.0 469.7L476.0 469.3L480.0 468.3L481.1 468.0L484.0 467.1L488.0 465.9L492.0 465.0L496.0 464.0L496.1 464.0L500.0 462.3L502.9 460.0L504.0 458.8L506.2 456.0L508.0 453.8L509.5 452.0L512.0 449.1L513.0 448.0L516.0 444.6L516.6 444.0L519.7 440.0L520.0 439.2L521.8 436.0L524.0 432.6L524.8 432.0L528.0 429.9L531.3 428.0L532.0 427.7L536.0 425.1L537.3 424.0L540.0 421.8L542.8 420.0L544.0 417.9L546.9 416.0L548.0 414.9L549.5 412.0L550.4 408.0L550.7 404.0L550.5 400.0L550.2 396.0L550.4 392.0L551.0 388.0L551.7 384.0L552.0 382.0L552.2 380.0L552.0 376.6L552.0 376.0L550.2 372.0L548.0 369.0L546.7 368.0L544.0 365.0L543.0 364.0L541.3 360.0L540.7 356.0L540.0 353.3L539.7 352.0L536.9 348.0L536.0 347.3L532.0 345.9L528.0 345.8L524.0 346.2L520.0 346.1L516.0 345.0L514.3 344.0L512.0 342.9L508.0 340.4L507.4 340.0L504.0 338.4L500.0 337.2L496.0 337.1L492.0 337.7L488.0 338.0L484.0 338.0L480.0 338.0L476.0 338.5ZM476.6 404.0L480.0 402.0L484.0 402.2L487.1 404.0L488.0 404.8L492.0 407.4L496.0 406.9L500.0 405.3L502.6 404.0L504.0 403.3L508.0 402.7L511.1 404.0L512.0 405.1L513.9 408.0L513.6 412.0L512.0 414.4L510.6 416.0L508.0 417.5L504.0 417.9L500.0 416.7L499.0 416.0L496.0 413.7L492.0 412.1L488.0 415.4L487.8 416.0L485.6 420.0L484.0 422.4L482.1 424.0L480.0 425.4L476.0 425.4L472.0 424.8L468.0 425.1L464.0 426.2L460.0 426.7L456.0 424.7L455.4 424.0L453.5 420.0L455.2 416.0L456.0 415.4L460.0 412.0L460.0 412.0L464.0 409.6L468.0 408.3L468.7 408.0L472.0 406.7L476.0 404.3L476.6 404.0ZM447.9 452.0L448.0 451.9L448.1 452.0L448.0 452.2L447.9 452.0ZM367.7 560.0L368.0 559.8L372.0 559.5L374.1 560.0L375.5 564.0L375.0 568.0L372.6 572.0L372.0 572.6L371.9 572.0L368.0 568.5L367.7 568.0L366.4 564.0L367.7 560.0Z" fill="rgb(0,46,255)" fill-rule="evenodd"/>
<path d="M195.1 32.0L196.0 32.0L200.0 32.0L204.0 32.0L208.0 32.0L212.0 32.0L216.0 32.0L220.0 32.0L224.0 32.0L228.0 32.0L232.0 32.0L236.0 32.0L240.0 32.0L244.0 32.0L248.0 32.0L252.0 32.0L256.0 32.0L260.0 32.0L264.0 32.0L268.0 32.0L272.0 32.0L276.0 32.0L280.0 32.0L284.0 32.0L288.0 32.0L292.0 32.0L296.0 32.0L300.0 32.0L304.0 32.0L308.0 32.0L312.0 32.0L316.0 32.0L320.0 32.0L324.0 32.0L328.0 32.0L332.0 32.0L336.0 32.0L340.0 32.0L344.0 32.0L348.0 32.0L352.0 32.0L356.0 32.0L360.0 32.0L364.0 32.0L364.5 32.0L367.0 36.0L368.0 37.2L370.1 40.0L372.0 43.6L372.2 44.0L376.0 47.8L376.2 48.0L380.0 51.2L380.9 52.0L384.0 54.4L386.6 56.0L388.0 56.6L392.0 58.9L393.4 60.0L396.0 62.7L397.7 64.0L400.0 66.4L403.7 68.0L404.0 68.2L408.0 68.1L408.1 68.0L409.1 64.0L408.0 62.3L406.5 60.0L404.0 56.0L404.0 55.9L401.6 52.0L400.0 50.3L396.8 48.0L396.0 47.6L392.0 44.9L391.0 44.0L388.0 41.4L385.9 40.0L384.0 39.2L380.0 36.2L379.8 36.0L377.2 32.0L380.0 32.0L384.0 32.0L388.0 32.0L392.0 32.0L396.0 32.0L400.0 32.0L404.0 32.0L406.2 32.0L408.0 32.7L409.0 32.0L412.0 32.0L416.0 32.0L420.0 32.0L424.0 32.0L428.0 32.0L432.0 32.0L436.0 32.0L440.0 32.0L444.0 32.0L448.0 32.0L452.0 32.0L456.0 32.0L460.0 32.0L464.0 32.0L468.0 32.0L472.0 32.0L476.0 32.0L480.0 32.0L484.0 32.0L488.0 32.0L492.0 32.0L496.0 32.0L500.0 32.0L504.0 32.0L508.0 32.0L512.0 32.0L516.0 32.0L520.0 32.0L524.0 32.0L528.0 32.0L532.0 32.0L536.0 32.0L540.0 32.0L544.0 32.0L548.0 32.0L552.0 32.0L556.0 32.0L560.0 32.0L564.0 32.0L568.0 32.0L572.0 32.0L576.0 32.0L580.0 32.0L584.0 32.0L588.0 32.0L592.0 32.0L596.0 32.0L600.0 32.0L604.0 32.0L608.0 32.0L612.0 32.0L616.0 32.0L620.0 32.0L624.0 32.0L628.0 32.0L632.0 32.0L636.0 32.0L640.0 32.0L644.0 32.0L644.0 36.0L644.0 40.0L644.0 44.0L644.0 48.0L644.0 52.0L644.0 56.0L644.0 60.0L644.0 64.0L644.0 68.0L644.0 72.0L644.0 76.0L644.0 80.0L644.0 84.0L644.0 88.0L644.0 92.0L644.0 96.0L644.0 100.0L644.0 104.0L644.0 108.0L644.0 112.0L644.0 116.0L644.0 120.0L644.0 124.0L644.0 128.0L644.0 132.0L644.0 136.0L644.0 140.0L644.0 144.0L644.0 148.0L644.0 152.0L644.0 156.0L644.0 160.0L644.0 164.0L644.0 168.0L644.0 172.0L644.0 176.0L644.0 180.0L644.0 184.0L644.0 188.0L644.0 192.0L644.0 196.0L644.0 200.0L644.0 204.0L644.0 208.0L644.0 212.0L644.0 216.0L644.0 220.0L644.0 224.0L644.0 228.0L644.0 232.0L644.0 236.0L644.0 240.0L644.0 244.0L644.0 248.0L644.0 252.0L644.0 256.0L644.0 260.0L644.0 264.0L644.0 268.0L644.0 272.0L644.0 276.0L644.0 280.0L644.0 284.0L644.0 288.0L644.0 292.0L644.0 296.0L644.0 300.0L644.0 304.0L644.0 308.0L644.0 312.0L644.0 316.0L644.0 320.0L644.0 324.0L644.0 328.0L644.0 332.0L644.0 336.0L644.0 340.0L644.0 344.0L644.0 348.0L644.0 352.0L644.0 356.0L644.0 360.0L644.0 364.0L644.0 368.0L644.0 372.0L644.0 376.0L644.0 380.0L644.0 384.0L644.0 388.0L644.0 392.0L644.0 396.0L644.0 400.0L644.0 404.0L644.0 408.0L644.0 412.0L644.0 416.0L644.0 420.0L644.0 424.0L644.0 428.0L644.0 432.0L644.0 436.0L644.0 440.0L644.0 444.0L644.0 448.0L644.0 452.0L644.0 456.0L644.0 460.0L644.0 464.0L644.0 468.0L644.0 472.0L644.0 476.0L644.0 480.0L644.0 484.0L644.0 488.0L644.0 492.0L644.0 496.0L644.0 500.0L644.0 504.0L644.0 508.0L644.0 512.0L644.0 516.0L644.0 520.0L644.0 524.0L644.0 528.0L644.0 532.0L644.0 536.0L644.0 540.0L644.0 544.0L644.0 548.0L644.0 552.0L644.0 556.0L644.0 560.0L644.0 564.0L644.0 568.0L644.0 572.0L644.0 576.0L640.0 576.0L636.0 576.0L632.0 576.0L628.0 576.0L624.0 576.0L620.0 576.0L616.0 576.0L612.0 576.0L608.0 576.0L604.0 576.0L600.0 576.0L596.0 576.0L592.0 576.0L588.0 576.0L584.0 576.0L580.0 576.0L576.0 576.0L572.0 576.0L568.0 576.0L564.0 576.0L560.0 576.0L556.0 576.0L552.0 576.0L548.0 576.0L544.0 576.0L540.0 576.0L536.0 576.0L535.8 576.0L534.4 572.0L532.5 568.0L532.0 566.8L530.6 564.0L528.2 560.0L528.0 559.6L525.1 556.0L524.0 554.9L520.0 553.0L516.0 552.5L512.0 552.5L508.0 552.3L504.0 552.2L500.0 552.1L498.8 552.0L496.0 551.7L492.0 550.9L488.0 549.7L484.0 548.0L484.0 548.0L480.0 545.5L478.3 544.0L476.0 541.3L475.1 540.0L472.9 536.0L472.0 533.9L471.2 532.0L470.1 528.0L469.1 524.0L468.2 520.0L468.0 519.0L467.4 516.0L467.0 512.0L467.2 508.0L467.9 504.0L468.0 503.8L469.1 500.0L471.0 496.0L472.0 494.5L473.8 492.0L476.0 489.8L478.1 488.0L480.0 486.8L484.0 485.1L487.1 484.0L488.0 483.7L492.0 482.3L496.0 480.5L496.9 480.0L500.0 478.2L502.9 476.0L504.0 475.2L507.8 472.0L508.0 471.8L511.7 468.0L512.0 467.7L515.0 464.0L516.0 462.6L518.1 460.0L520.0 458.1L522.9 456.0L524.0 455.3L528.0 453.3L529.9 452.0L532.0 450.5L534.4 448.0L536.0 446.6L538.3 444.0L540.0 442.2L541.9 440.0L544.0 437.0L544.7 436.0L548.0 432.2L548.2 432.0L552.0 428.8L552.8 428.0L556.0 424.5L556.4 424.0L559.0 420.0L560.0 416.6L560.1 416.0L560.0 412.6L560.0 412.0L559.1 408.0L558.1 404.0L557.3 400.0L556.8 396.0L556.6 392.0L556.6 388.0L556.7 384.0L556.5 380.0L556.0 376.0L556.0 376.0L554.8 372.0L552.8 368.0L552.0 366.7L550.0 364.0L548.0 360.4L547.8 360.0L546.0 356.0L544.5 352.0L544.0 351.1L542.2 348.0L540.0 345.5L538.0 344.0L536.0 342.8L532.0 341.4L528.0 340.6L524.0 340.1L523.5 340.0L520.0 339.3L516.0 338.1L512.0 336.4L511.2 336.0L508.0 334.5L504.0 333.0L500.7 332.0L500.0 331.8L496.0 331.1L492.0 330.5L488.0 329.6L484.0 328.5L482.5 328.0L480.0 326.5L477.2 324.0L476.0 323.0L472.0 322.4L471.3 324.0L469.7 328.0L468.0 331.0L467.6 332.0L465.3 336.0L464.0 338.7L463.5 340.0L462.7 344.0L462.7 348.0L463.5 352.0L464.0 354.1L464.6 356.0L465.6 360.0L466.2 364.0L466.4 368.0L465.8 372.0L464.0 375.7L463.9 376.0L460.3 380.0L460.0 380.2L456.3 384.0L456.0 384.3L452.7 388.0L452.0 388.9L449.5 392.0L448.0 393.9L446.5 396.0L444.0 399.7L443.8 400.0L441.5 404.0L440.0 406.5L439.1 408.0L436.1 412.0L436.0 412.2L432.9 416.0L432.0 417.1L429.7 420.0L428.0 422.5L427.0 424.0L424.5 428.0L424.0 428.8L422.2 432.0L420.3 436.0L420.0 437.0L419.0 440.0L418.6 444.0L418.5 448.0L418.1 452.0L417.0 456.0L416.0 458.5L415.3 460.0L412.9 464.0L412.0 465.3L410.1 468.0L408.0 470.7L406.9 472.0L404.0 475.0L402.6 476.0L400.0 477.4L396.0 479.3L394.7 480.0L392.0 481.8L388.5 484.0L388.0 484.4L384.0 487.6L383.6 488.0L380.0 491.2L379.1 492.0L376.0 494.8L374.8 496.0L372.0 498.7L370.5 500.0L368.0 502.2L365.7 504.0L364.0 505.4L360.2 508.0L360.0 508.2L356.0 510.6L353.2 512.0L352.0 512.6L348.0 514.6L344.3 516.0L344.0 516.2L340.0 518.3L337.8 520.0L336.0 522.1L334.9 524.0L332.6 528.0L332.0 529.0L330.2 532.0L328.0 534.9L327.0 536.0L324.0 539.5L323.5 540.0L320.9 544.0L320.0 545.5L318.2 548.0L316.0 550.8L315.1 552.0L312.0 556.0L312.0 556.0L308.7 560.0L308.0 560.7L304.2 564.0L304.0 564.2L300.5 568.0L300.0 568.9L297.5 572.0L296.0 573.8L292.3 576.0L292.0 576.0L288.0 576.0L284.0 576.0L280.0 576.0L276.0 576.0L272.0 576.0L268.0 576.0L264.0 576.0L260.0 576.0L256.0 576.0L252.0 576.0L248.0 576.0L244.0 576.0L240.0 576.0L236.0 576.0L232.0 576.0L228.0 576.0L224.0 576.0L220.0 576.0L217.4 576.0L216.0 574.7L214.1 572.0L212.0 569.5L211.3 568.0L209.9 564.0L208.5 560.0L208.0 559.0L206.9 556.0L205.2 552.0L204.0 548.7L203.7 548.0L202.1 544.0L200.3 540.0L200.0 539.3L198.3 536.0L196.0 532.0L196.0 532.0L193.5 528.0L192.0 525.7L190.8 524.0L188.0 520.0L188.0 520.0L185.1 516.0L184.0 514.3L182.5 512.0L180.2 508.0L180.0 507.7L178.1 504.0L176.2 500.0L176.0 499.5L174.4 496.0L172.9 492.0L172.0 489.4L171.5 488.0L170.4 484.0L169.6 480.0L169.0 476.0L168.4 472.0L168.0 468.9L167.9 468.0L167.3 464.0L166.9 460.0L166.6 456.0L166.2 452.0L165.5 448.0L164.4 444.0L164.0 442.8L163.1 440.0L161.9 436.0L160.6 432.0L160.0 430.5L159.1 428.0L157.3 424.0L156.1 420.0L156.0 419.4L155.7 416.0L156.0 413.4L156.2 412.0L157.3 408.0L159.2 404.0L160.0 402.5L161.4 400.0L164.0 396.1L164.1 396.0L167.7 392.0L168.0 391.6L172.0 388.4L172.7 388.0L176.0 386.3L180.0 385.5L184.0 386.3L186.5 388.0L188.0 389.1L190.7 392.0L192.0 392.9L196.0 395.2L198.6 396.0L200.0 396.4L204.0 397.1L208.0 397.1L212.0 396.3L215.0 396.0L216.0 395.9L216.4 396.0L220.0 396.6L224.0 397.1L228.0 397.1L232.0 396.7L233.6 396.0L236.0 394.3L238.1 392.0L240.0 388.0L240.0 384.0L238.4 380.0L236.7 376.0L236.0 374.0L234.8 372.0L232.4 368.0L232.0 367.5L228.0 364.8L226.8 364.0L224.0 361.8L222.4 360.0L220.0 356.5L219.0 356.0L216.0 355.0L212.0 355.6L210.9 352.0L210.8 348.0L210.3 344.0L208.0 342.6L204.0 341.1L200.0 340.3L199.2 340.0L196.0 339.4L192.0 336.4L191.7 336.0L188.0 332.8L186.8 332.0L184.0 330.7L180.0 328.1L179.9 328.0L176.0 326.8L172.0 325.7L169.8 324.0L168.0 322.4L165.6 320.0L164.0 318.3L161.9 316.0L160.0 313.9L157.9 312.0L156.0 310.6L152.0 309.5L148.0 308.3L147.6 308.0L144.0 305.8L140.0 304.1L139.8 304.0L136.0 301.6L132.5 300.0L132.0 299.7L128.0 297.3L124.0 296.6L121.6 296.0L120.0 295.3L116.0 293.2L112.0 292.6L108.0 292.6L108.0 292.0L108.0 288.0L108.0 284.0L108.0 280.0L108.0 276.0L108.0 272.0L108.0 268.0L108.0 264.0L108.0 260.0L108.0 256.0L108.0 252.6L112.0 253.7L116.0 253.8L120.0 253.1L122.4 252.0L124.0 251.0L128.0 249.8L132.0 248.4L132.8 248.0L135.0 244.0L135.5 240.0L136.0 236.8L136.1 236.0L137.5 232.0L140.0 229.0L140.2 228.0L140.0 226.5L139.4 224.0L136.8 220.0L136.0 218.9L133.7 216.0L132.0 214.0L130.4 212.0L128.0 209.2L127.0 208.0L124.0 204.5L123.6 204.0L120.2 200.0L120.0 199.8L116.6 196.0L116.0 195.4L112.9 192.0L112.0 191.0L108.5 188.0L108.0 187.6L108.0 184.0L108.0 180.0L108.0 176.0L108.0 172.0L108.0 168.0L108.0 164.0L108.0 160.0L108.0 156.0L108.0 152.0L108.0 148.0L108.0 144.0L108.0 140.0L108.0 136.0L108.0 133.6L112.0 134.8L114.9 136.0L116.0 136.4L120.0 138.0L124.0 139.7L124.8 140.0L128.0 141.2L132.0 142.7L135.0 144.0L136.0 144.4L140.0 145.7L144.0 146.5L148.0 147.4L149.1 148.0L152.0 148.6L154.0 148.0L156.0 147.4L160.0 147.6L161.0 148.0L164.0 149.4L168.0 150.9L171.0 152.0L172.0 152.4L176.0 153.7L180.0 154.7L184.0 155.1L188.0 155.3L189.7 156.0L192.0 156.8L196.0 158.8L198.1 160.0L200.0 161.0L204.0 163.2L205.4 164.0L208.0 165.4L212.0 167.6L212.7 168.0L216.0 169.7L220.0 171.7L220.6 172.0L224.0 173.5L228.0 175.5L228.9 176.0L232.0 177.5L236.0 179.5L237.1 180.0L240.0 181.1L244.0 182.3L248.0 183.3L249.5 184.0L252.0 185.0L256.0 187.4L256.8 188.0L260.0 190.1L262.5 192.0L264.0 193.0L268.0 194.6L272.0 193.0L272.8 192.0L275.0 188.0L275.6 184.0L274.7 180.0L273.9 176.0L272.0 172.7L271.6 172.0L268.5 168.0L268.0 166.1L267.5 164.0L266.3 160.0L264.3 156.0L264.0 155.4L262.2 152.0L260.0 148.9L259.3 148.0L257.1 144.0L256.0 141.5L255.1 140.0L253.3 136.0L252.0 132.0L252.0 131.9L249.7 128.0L248.2 124.0L248.0 123.5L246.0 120.0L244.4 116.0L244.0 115.3L241.5 112.0L240.0 109.9L238.6 108.0L237.0 104.0L236.0 102.6L233.7 100.0L232.0 98.3L229.7 96.0L228.0 94.0L226.5 92.0L224.9 88.0L224.0 86.8L221.8 84.0L220.0 82.1L218.2 80.0L216.0 77.3L215.1 76.0L213.5 72.0L212.0 69.6L211.0 68.0L209.4 64.0L208.0 61.7L207.0 60.0L205.4 56.0L204.0 53.7L203.0 52.0L202.1 48.0L201.3 44.0L200.0 41.8L198.9 40.0L197.4 36.0L196.0 33.6L195.1 32.0ZM472.0 302.8L471.2 304.0L470.7 308.0L472.0 310.0L472.9 308.0L472.9 304.0L472.0 302.8ZM480.0 275.3L479.5 276.0L478.4 280.0L480.0 283.0L482.4 280.0L482.3 276.0L480.0 275.3Z" fill="rgb(0,63,255)" fill-rule="evenodd"/>
<path d="M198.0 32.0L200.0 32.0L204.0 32.0L208.0 32.0L212.0 32.0L216.0 32.0L220.0 32.0L224.0 32.0L228.0 32.0L232.0 32.0L236.0 32.0L240.0 32.0L244.0 32.0L248.0 32.0L252.0 32.0L256.0 32.0L260.0 32.0L264.0 32.0L268.0 32.0L272.0 32.0L276.0 32.0L280.0 32.0L284.0 32.0L288.0 32.0L292.0 32.0L296.0 32.0L300.0 32.0L304.0 32.0L308.0 32.0L312.0 32.0L316.0 32.0L320.0 32.0L324.0 32.0L328.0 32.0L332.0 32.0L336.0 32.0L340.0 32.0L344.0 32.0L348.0 32.0L352.0 32.0L356.0 32.0L360.0 32.0L361.0 32.0L363.4 36.0L364.0 36.6L366.7 40.0L368.0 41.7L369.3 44.0L372.0 47.1L372.8 48.0L376.0 51.0L377.2 52.0L380.0 54.7L381.6 56.0L384.0 57.7L388.0 59.4L388.9 60.0L392.0 62.7L393.3 64.0L395.9 68.0L396.0 68.2L399.1 72.0L400.0 73.6L402.1 76.0L404.0 78.6L405.6 80.0L408.0 82.9L410.4 84.0L412.0 84.6L416.0 84.5L418.3 84.0L419.7 80.0L417.7 76.0L416.1 72.0L416.0 71.7L414.8 68.0L413.9 64.0L412.0 61.2L411.2 60.0L408.0 56.1L407.9 56.0L406.5 52.0L404.0 48.4L403.6 48.0L400.0 45.3L396.8 44.0L396.0 43.6L392.0 40.3L391.7 40.0L388.0 37.3L384.9 36.0L384.0 35.4L380.9 32.0L384.0 32.0L388.0 32.0L392.0 32.0L396.0 32.0L398.8 32.0L400.0 34.0L401.6 36.0L404.0 38.6L405.5 40.0L408.0 42.4L409.8 44.0L412.0 46.0L414.2 48.0L416.0 50.2L417.0 52.0L417.8 56.0L420.0 59.7L420.3 60.0L424.0 63.2L425.3 64.0L428.0 66.3L429.8 68.0L432.0 72.0L432.0 72.0L436.0 73.1L438.6 72.0L440.0 70.2L443.8 68.0L444.0 67.9L448.0 65.8L449.6 64.0L450.0 60.0L450.9 56.0L452.0 55.0L454.7 52.0L456.0 49.3L456.4 48.0L456.0 45.6L455.7 44.0L455.2 40.0L456.0 39.4L460.0 37.2L460.5 36.0L460.2 32.0L464.0 32.0L468.0 32.0L472.0 32.0L476.0 32.0L480.0 32.0L484.0 32.0L488.0 32.0L492.0 32.0L496.0 32.0L500.0 32.0L504.0 32.0L508.0 32.0L512.0 32.0L516.0 32.0L520.0 32.0L524.0 32.0L528.0 32.0L532.0 32.0L536.0 32.0L540.0 32.0L544.0 32.0L548.0 32.0L552.0 32.0L556.0 32.0L560.0 32.0L564.0 32.0L568.0 32.0L572.0 32.0L576.0 32.0L580.0 32.0L584.0 32.0L588.0 32.0L592.0 32.0L596.0 32.0L600.0 32.0L604.0 32.0L608.0 32.0L612.0 32.0L616.0 32.0L620.0 32.0L624.0 32.0L628.0 32.0L632.0 32.0L636.0 32.0L640.0 32.0L644.0 32.0L644.0 36.0L644.0 40.0L644.0 44.0L644.0 48.0L644.0 52.0L644.0 56.0L644.0 60.0L644.0 64.0L644.0 68.0L644.0 72.0L644.0 76.0L644.0 80.0L644.0 84.0L644.0 88.0L644.0 92.0L644.0 96.0L644.0 100.0L644.0 104.0L644.0 108.0L644.0 112.0L644.0 116.0L644.0 120.0L644.0 124.0L644.0 128.0L644.0 132.0L644.0 136.0L644.0 140.0L644.0 144.0L644.0 148.0L644.0 152.0L644.0 156.0L644.0 160.0L644.0 164.0L644.0 168.0L644.0 172.0L644.0 176.0L644.0 180.0L644.0 184.0L644.0 188.0L644.0 192.0L644.0 196.0L644.0 200.0L644.0 204.0L644.0 208.0L644.0 212.0L644.0 216.0L644.0 220.0L644.0 224.0L644.0 228.0L644.0 232.0L644.0 236.0L644.0 240.0L644.0 244.0L644.0 248.0L644.0 252.0L644.0 256.0L644.0 260.0L644.0 264.0L644.0 268.0L644.0 272.0L644.0 276.0L644.0 280.0L644.0 284.0L644.0 288.0L644.0 292.0L644.0 296.0L644.0 300.0L644.0 304.0L644.0 308.0L644.0 312.0L644.0 316.0L644.0 320.0L644.0 324.0L644.0 328.0L644.0 332.0L644.0 336.0L644.0 340.0L644.0 344.0L644.0 348.0L644.0 352.0L644.0 356.0L644.0 360.0L644.0 364.0L644.0 368.0L644.0 372.0L644.0 376.0L644.0 380.0L644.0 384.0L644.0 388.0L644.0 392.0L644.0 396.0L644.0 400.0L644.0 404.0L644.0 408.0L644.0 412.0L644.0 416.0L644.0 420.0L644.0 424.0L644.0 428.0L644.0 432.0L644.0 436.0L644.0 440.0L644.0 444.0L644.0 448.0L644.0 452.0L644.0 456.0L644.0 460.0L644.0 464.0L644.0 468.0L644.0 472.0L644.0 476.0L644.0 480.0L644.0 484.0L644.0 488.0L644.0 492.0L644.0 496.0L644.0 500.0L644.0 504.0L644.0 508.0L644.0 512.0L644.0 516.0L644.0 520.0L644.0 524.0L644.0 528.0L644.0 532.0L644.0 536.0L644.0 540.0L644.0 544.0L644.0 548.0L644.0 552.0L644.0 556.0L644.0 560.0L644.0 564.0L644.0 568.0L644.0 572.0L644.0 576.0L640.0 576.0L636.0 576.0L632.0 576.0L628.0 576.0L624.0 576.0L620.0 576.0L616.0 576.0L612.0 576.0L608.0 576.0L604.0 576.0L600.0 576.0L596.0 576.0L592.0 576.0L588.0 576.0L587.0 576.0L587.9 572.0L587.4 568.0L584.0 564.6L580.0 564.7L576.0 566.7L572.8 568.0L572.0 568.3L568.0 569.0L564.0 568.7L562.1 568.0L560.0 567.2L556.0 564.5L555.5 564.0L552.0 560.2L551.9 560.0L549.3 556.0L548.0 553.4L547.4 552.0L546.4 548.0L545.4 544.0L544.0 540.0L544.0 540.0L541.5 536.0L540.0 534.4L537.2 532.0L536.0 531.1L532.0 529.1L528.0 528.3L524.0 528.6L520.0 529.5L516.0 530.7L512.0 531.9L510.7 532.0L508.0 532.3L506.2 532.0L504.0 531.6L500.0 530.2L496.0 528.2L495.7 528.0L492.0 524.0L492.0 524.0L489.6 520.0L488.0 516.0L488.0 516.0L487.4 512.0L487.8 508.0L488.0 507.5L489.7 504.0L492.0 501.5L493.8 500.0L496.0 498.7L500.0 496.5L500.8 496.0L504.0 494.1L506.3 492.0L508.0 490.3L510.2 488.0L512.0 486.2L514.8 484.0L516.0 483.0L520.0 480.1L520.1 480.0L524.0 477.0L524.9 476.0L528.0 472.2L528.1 472.0L531.0 468.0L532.0 466.9L534.3 464.0L536.0 462.4L538.6 460.0L540.0 458.4L541.9 456.0L544.0 452.5L544.2 452.0L546.5 448.0L548.0 446.0L549.4 444.0L552.0 440.5L552.3 440.0L555.7 436.0L556.0 435.7L559.0 432.0L560.0 430.6L561.4 428.0L563.3 424.0L564.0 421.8L564.5 420.0L564.9 416.0L564.8 412.0L564.2 408.0L564.0 406.4L563.6 404.0L562.8 400.0L562.2 396.0L561.7 392.0L561.3 388.0L561.0 384.0L560.5 380.0L560.0 376.9L559.9 376.0L558.8 372.0L557.2 368.0L556.0 365.7L555.0 364.0L552.6 360.0L552.0 358.8L550.6 356.0L548.8 352.0L548.0 350.3L546.7 348.0L544.0 344.3L543.7 344.0L540.0 340.8L538.7 340.0L536.0 338.6L532.0 337.3L528.0 336.2L527.0 336.0L524.0 335.2L520.0 334.0L516.0 332.5L514.7 332.0L512.0 330.9L508.0 329.3L504.4 328.0L504.0 327.9L500.0 326.5L496.0 325.4L492.2 324.0L492.0 323.9L488.0 321.1L486.7 320.0L484.0 316.9L483.1 316.0L480.1 312.0L480.0 311.6L479.7 308.0L479.5 304.0L479.5 300.0L480.0 297.6L480.4 296.0L482.3 292.0L483.3 288.0L484.0 286.5L485.0 284.0L486.7 280.0L487.1 276.0L486.8 272.0L488.0 268.4L488.1 268.0L488.0 264.0L488.0 264.0L484.0 263.9L483.8 264.0L480.0 266.3L478.9 268.0L476.0 272.0L476.0 272.0L474.3 276.0L473.3 280.0L472.7 284.0L472.2 288.0L472.0 288.8L471.3 292.0L468.5 296.0L468.0 296.5L464.2 300.0L464.0 300.3L461.7 304.0L460.7 308.0L460.6 312.0L460.9 316.0L460.9 320.0L460.1 324.0L460.0 324.4L458.9 328.0L457.5 332.0L456.1 336.0L456.0 336.4L455.3 340.0L455.1 344.0L455.3 348.0L455.8 352.0L456.0 353.8L456.3 356.0L456.6 360.0L456.4 364.0L456.0 366.1L455.6 368.0L454.1 372.0L452.0 375.7L451.9 376.0L449.1 380.0L448.0 381.5L446.2 384.0L444.0 387.0L443.4 388.0L441.0 392.0L440.0 393.7L438.8 396.0L436.7 400.0L436.0 401.2L434.5 404.0L432.0 407.7L431.8 408.0L428.7 412.0L428.0 412.9L425.4 416.0L424.0 417.7L421.9 420.0L420.0 422.4L418.5 424.0L416.0 427.3L415.5 428.0L412.8 432.0L412.0 433.7L410.8 436.0L410.0 440.0L410.2 444.0L409.7 448.0L408.0 451.2L407.4 452.0L404.0 455.1L402.5 456.0L400.0 458.0L397.9 460.0L396.0 462.3L394.9 464.0L392.0 466.8L390.9 468.0L388.0 470.5L386.6 472.0L384.0 474.4L382.4 476.0L380.0 478.2L378.1 480.0L376.0 481.9L373.6 484.0L372.0 485.4L369.1 488.0L368.0 489.0L364.7 492.0L364.0 492.6L360.0 495.8L359.7 496.0L356.0 498.7L354.0 500.0L352.0 501.4L348.0 503.8L347.7 504.0L344.0 506.2L340.5 508.0L340.0 508.2L336.0 510.4L333.7 512.0L332.0 513.4L329.4 516.0L328.0 517.8L326.2 520.0L324.0 522.9L323.1 524.0L320.0 527.3L319.3 528.0L316.0 530.9L314.8 532.0L312.0 534.9L311.0 536.0L308.0 539.7L307.8 540.0L304.3 544.0L304.0 544.3L300.1 548.0L300.0 548.1L296.0 550.7L293.0 552.0L292.0 552.5L288.0 553.8L284.0 554.7L280.0 554.9L276.0 554.4L272.0 553.0L269.3 552.0L268.0 551.6L264.0 551.4L261.1 552.0L260.0 552.3L256.0 554.0L252.0 555.7L251.2 556.0L248.0 557.7L244.0 559.7L243.4 560.0L240.0 561.7L236.0 563.3L232.3 564.0L232.0 564.0L228.0 564.2L225.4 564.0L224.0 563.9L220.0 562.4L217.2 560.0L216.0 559.1L213.9 556.0L212.0 553.3L211.4 552.0L210.4 548.0L209.7 544.0L208.5 540.0L208.0 538.8L206.9 536.0L205.1 532.0L204.0 530.1L202.9 528.0L200.6 524.0L200.0 522.9L198.2 520.0L196.0 516.7L195.5 516.0L192.8 512.0L192.0 510.7L190.3 508.0L188.2 504.0L188.0 503.6L186.3 500.0L184.6 496.0L184.0 494.0L183.3 492.0L182.4 488.0L181.7 484.0L181.3 480.0L181.0 476.0L180.6 472.0L180.4 468.0L180.3 464.0L180.6 460.0L181.4 456.0L182.3 452.0L183.4 448.0L184.0 445.7L184.5 444.0L185.5 440.0L186.6 436.0L187.6 432.0L188.0 430.5L188.8 428.0L191.0 424.0L192.0 423.0L195.5 420.0L196.0 419.7L200.0 418.6L204.0 417.9L208.0 416.6L209.2 416.0L212.0 414.9L216.0 413.1L219.0 412.0L220.0 411.6L224.0 410.2L228.0 409.0L231.9 408.0L232.0 408.0L236.0 406.8L240.0 404.9L241.1 404.0L244.0 401.3L245.6 400.0L248.0 397.6L249.6 396.0L252.0 392.1L252.1 392.0L252.0 390.1L251.9 388.0L249.7 384.0L248.0 381.6L247.2 380.0L244.0 376.2L243.9 376.0L241.2 372.0L240.0 370.3L238.3 368.0L236.0 364.8L235.3 364.0L232.0 360.9L230.8 360.0L228.0 358.2L225.6 356.0L224.0 354.7L221.5 352.0L220.0 350.5L217.4 348.0L216.0 344.9L215.5 344.0L212.0 340.1L211.8 340.0L208.0 339.0L204.0 338.4L200.0 337.9L196.0 336.7L195.1 336.0L192.0 333.2L190.6 332.0L188.0 329.9L184.0 328.0L184.0 328.0L180.0 325.4L176.0 324.3L175.1 324.0L172.0 322.3L169.3 320.0L168.0 318.7L165.5 316.0L164.0 314.3L162.0 312.0L160.0 309.9L156.8 308.0L156.0 307.3L152.0 305.5L148.1 304.0L148.0 303.8L144.0 300.8L142.1 300.0L140.0 296.1L139.9 296.0L140.0 295.7L141.2 292.0L140.0 290.1L138.9 288.0L136.0 284.7L135.4 284.0L132.0 280.4L131.6 280.0L128.1 276.0L128.0 275.9L124.6 272.0L124.0 270.8L122.2 268.0L124.0 267.3L128.0 267.4L131.5 268.0L132.0 268.2L136.0 268.7L140.0 269.2L143.7 268.0L144.0 267.8L148.0 265.0L149.9 264.0L152.0 262.4L153.6 260.0L154.5 256.0L155.2 252.0L156.0 248.2L156.0 248.0L156.0 247.4L155.8 244.0L152.5 240.0L152.0 239.6L149.2 236.0L148.0 234.4L146.4 232.0L144.8 228.0L144.0 225.2L143.5 224.0L140.8 220.0L140.0 219.0L137.4 216.0L136.0 214.4L133.8 212.0L132.0 210.1L130.1 208.0L128.0 205.7L126.5 204.0L124.0 201.2L122.9 200.0L120.0 196.8L119.3 196.0L116.0 192.4L115.6 192.0L112.0 188.1L111.9 188.0L108.0 185.1L108.0 184.0L108.0 180.0L108.0 176.0L108.0 172.0L108.0 169.4L112.0 169.9L116.0 171.6L116.9 172.0L120.0 172.8L124.0 174.1L128.0 175.6L129.7 176.0L132.0 176.5L136.0 177.4L140.0 178.3L144.0 179.1L148.0 179.8L148.8 180.0L152.0 180.6L156.0 181.3L160.0 182.0L164.0 182.7L168.0 183.4L171.1 184.0L172.0 184.2L176.0 184.8L180.0 185.5L184.0 186.2L188.0 186.8L192.0 187.4L195.5 188.0L196.0 188.1L200.0 188.6L204.0 189.1L208.0 189.5L212.0 189.7L216.0 189.6L220.0 189.9L224.0 190.6L228.0 191.4L231.2 192.0L232.0 192.1L236.0 192.5L240.0 192.7L244.0 192.8L248.0 193.0L252.0 193.7L256.0 195.4L257.0 196.0L260.0 197.6L264.0 200.0L264.0 200.0L268.0 201.1L272.0 200.9L273.5 200.0L276.0 197.6L278.4 196.0L280.0 194.3L282.3 192.0L282.0 188.0L281.2 184.0L280.0 181.3L279.5 180.0L278.5 176.0L277.0 172.0L276.0 171.1L272.0 168.2L271.9 168.0L270.4 164.0L269.3 160.0L268.0 157.9L267.0 156.0L265.2 152.0L264.0 150.4L262.2 148.0L260.0 145.0L259.4 144.0L257.7 140.0L256.0 137.1L255.4 136.0L254.1 132.0L252.0 128.2L251.9 128.0L250.2 124.0L248.4 120.0L248.0 119.3L246.6 116.0L244.2 112.0L244.0 111.6L241.7 108.0L240.0 104.6L239.7 104.0L237.3 100.0L236.0 98.3L233.8 96.0L232.0 94.1L230.2 92.0L228.0 88.4L227.8 88.0L225.5 84.0L224.0 82.4L221.8 80.0L220.0 78.1L218.4 76.0L216.0 72.0L216.0 72.0L214.2 68.0L212.0 64.2L211.9 64.0L210.1 60.0L208.0 56.4L207.9 56.0L206.1 52.0L204.5 48.0L204.0 46.2L203.7 44.0L201.9 40.0L200.0 36.7L199.7 36.0L198.0 32.0Z" fill="rgb(0,80,255)" fill-rule="evenodd"/>
<path d="M207.7 32.0L208.0 32.0L212.0 32.0L216.0 32.0L220.0 32.0L224.0 32.0L228.0 32.0L232.0 32.0L236.0 32.0L240.0 32.0L244.0 32.0L248.0 32.0L252.0 32.0L256.0 32.0L260.0 32.0L264.0 32.0L268.0 32.0L272.0 32.0L276.0 32.0L280.0 32.0L284.0 32.0L288.0 32.0L292.0 32.0L296.0 32.0L300.0 32.0L304.0 32.0L308.0 32.0L312.0 32.0L316.0 32.0L320.0 32.0L324.0 32.0L328.0 32.0L332.0 32.0L336.0 32.0L340.0 32.0L344.0 32.0L347.7 32.0L348.0 33.9L352.0 33.7L356.0 35.2L356.5 36.0L360.0 38.5L361.5 40.0L364.0 42.4L365.0 44.0L368.0 47.3L368.5 48.0L372.0 51.3L372.7 52.0L376.0 55.1L376.9 56.0L380.0 58.8L382.2 60.0L384.0 61.3L388.0 63.3L388.8 64.0L391.9 68.0L392.0 68.1L394.4 72.0L396.0 73.9L397.2 76.0L400.0 79.4L400.5 80.0L403.3 84.0L404.0 84.8L407.4 88.0L408.0 88.6L412.0 91.3L413.6 92.0L416.0 93.8L420.0 95.2L424.0 95.3L428.0 93.7L429.0 92.0L429.1 88.0L428.6 84.0L428.0 82.4L426.8 80.0L425.6 76.0L428.0 75.0L429.4 76.0L432.0 77.0L436.0 77.9L440.0 78.3L443.9 80.0L444.0 80.1L447.1 80.0L448.0 80.0L452.0 78.3L456.0 76.9L457.9 76.0L460.0 74.1L461.8 72.0L464.0 68.4L464.2 68.0L465.7 64.0L468.0 61.0L469.5 60.0L472.0 58.3L474.0 56.0L476.0 52.9L476.5 52.0L476.8 48.0L477.1 44.0L480.0 40.7L484.0 40.1L484.9 40.0L488.0 39.7L492.0 36.6L492.3 36.0L493.4 32.0L496.0 32.0L500.0 32.0L504.0 32.0L508.0 32.0L512.0 32.0L516.0 32.0L520.0 32.0L524.0 32.0L528.0 32.0L532.0 32.0L536.0 32.0L540.0 32.0L544.0 32.0L548.0 32.0L552.0 32.0L556.0 32.0L560.0 32.0L564.0 32.0L568.0 32.0L572.0 32.0L576.0 32.0L580.0 32.0L584.0 32.0L588.0 32.0L592.0 32.0L596.0 32.0L600.0 32.0L604.0 32.0L608.0 32.0L612.0 32.0L616.0 32.0L620.0 32.0L624.0 32.0L628.0 32.0L632.0 32.0L636.0 32.0L640.0 32.0L644.0 32.0L644.0 36.0L644.0 40.0L644.0 44.0L644.0 48.0L644.0 52.0L644.0 56.0L644.0 60.0L644.0 64.0L644.0 68.0L644.0 72.0L644.0 76.0L644.0 80.0L644.0 84.0L644.0 88.0L644.0 92.0L644.0 96.0L644.0 100.0L644.0 104.0L644.0 108.0L644.0 112.0L644.0 116.0L644.0 120.0L644.0 124.0L644.0 128.0L644.0 132.0L644.0 136.0L644.0 140.0L644.0 144.0L644.0 148.0L644.0 152.0L644.0 156.0L644.0 160.0L644.0 164.0L644.0 168.0L644.0 172.0L644.0 176.0L644.0 180.0L644.0 184.0L644.0 188.0L644.0 192.0L644.0 196.0L644.0 200.0L644.0 204.0L644.0 208.0L644.0 212.0L644.0 216.0L644.0 220.0L644.0 224.0L644.0 228.0L644.0 232.0L644.0 236.0L644.0 240.0L644.0 244.0L644.0 248.0L644.0 252.0L644.0 256.0L644.0 260.0L644.0 264.0L644.0 268.0L644.0 272.0L644.0 276.0L644.0 280.0L644.0 284.0L644.0 288.0L644.0 292.0L644.0 296.0L644.0 300.0L644.0 304.0L644.0 308.0L644.0 312.0L644.0 316.0L644.0 320.0L644.0 324.0L644.0 328.0L644.0 332.0L644.0 336.0L644.0 340.0L644.0 344.0L644.0 348.0L644.0 352.0L644.0 356.0L644.0 360.0L644.0 364.0L644.0 368.0L644.0 372.0L644.0 376.0L644.0 380.0L644.0 384.0L644.0 388.0L644.0 392.0L644.0 396.0L644.0 400.0L644.0 404.0L644.0 408.0L644.0 412.0L644.0 416.0L644.0 420.0L644.0 424.0L644.0 428.0L644.0 432.0L644.0 436.0L644.0 440.0L644.0 444.0L644.0 448.0L644.0 452.0L644.0 456.0L644.0 460.0L644.0 464.0L644.0 468.0L644.0 472.0L644.0 476.0L644.0 480.0L644.0 484.0L644.0 488.0L644.0 492.0L644.0 496.0L644.0 500.0L644.0 504.0L644.0 508.0L644.0 512.0L644.0 516.0L644.0 520.0L644.0 524.0L644.0 528.0L644.0 532.0L644.0 536.0L644.0 540.0L644.0 544.0L644.0 548.0L644.0 552.0L644.0 556.0L644.0 560.0L644.0 564.0L644.0 568.0L644.0 572.0L644.0 576.0L640.0 576.0L636.0 576.0L632.0 576.0L628.0 576.0L624.0 576.0L620.0 576.0L616.0 576.0L612.0 576.0L608.0 576.0L605.2 576.0L604.7 572.0L604.0 569.2L603.7 568.0L602.5 564.0L600.8 560.0L600.0 558.4L598.6 556.0L596.0 552.2L595.8 552.0L592.4 548.0L592.0 547.7L588.0 544.2L587.7 544.0L584.0 542.5L580.0 541.9L576.0 541.6L572.0 541.1L568.0 540.3L567.0 540.0L564.0 539.3L560.0 537.1L558.9 536.0L556.0 533.2L555.1 532.0L552.1 528.0L552.0 527.9L549.1 524.0L548.0 522.3L546.2 520.0L544.0 516.4L543.7 516.0L541.7 512.0L540.7 508.0L540.4 504.0L541.0 500.0L542.0 496.0L543.2 492.0L543.8 488.0L543.9 484.0L543.8 480.0L543.9 476.0L544.0 475.5L544.5 472.0L546.5 468.0L548.0 466.4L550.3 464.0L552.0 461.7L553.0 460.0L554.9 456.0L556.0 453.3L556.5 452.0L558.2 448.0L560.0 444.3L560.1 444.0L562.5 440.0L564.0 437.8L565.1 436.0L567.0 432.0L568.0 429.3L568.4 428.0L569.3 424.0L569.8 420.0L569.8 416.0L569.5 412.0L569.0 408.0L568.6 404.0L568.0 400.2L568.0 400.0L567.2 396.0L566.5 392.0L565.8 388.0L565.2 384.0L564.5 380.0L564.0 377.0L563.8 376.0L563.0 372.0L561.7 368.0L560.0 364.6L559.7 364.0L557.4 360.0L556.0 357.8L555.0 356.0L553.0 352.0L552.0 349.7L551.2 348.0L548.9 344.0L548.0 342.8L545.5 340.0L544.0 338.7L540.0 336.1L539.7 336.0L536.0 334.5L532.0 333.2L528.0 332.0L527.9 332.0L524.0 330.8L520.0 329.2L517.1 328.0L516.0 327.5L512.0 325.8L508.0 324.2L507.5 324.0L504.0 322.5L500.0 320.9L498.1 320.0L496.0 318.7L493.2 316.0L492.0 314.5L490.0 312.0L488.0 309.3L486.9 308.0L485.0 304.0L484.8 300.0L485.8 296.0L487.0 292.0L488.0 288.0L488.0 287.9L489.0 284.0L489.9 280.0L490.3 276.0L491.1 272.0L492.0 270.3L493.6 268.0L495.5 264.0L495.4 260.0L493.4 256.0L492.0 255.4L489.8 256.0L488.0 256.4L484.0 258.2L480.0 259.9L479.8 260.0L476.0 264.0L476.0 264.0L474.5 268.0L472.6 272.0L472.0 273.2L471.1 276.0L470.1 280.0L469.4 284.0L468.9 288.0L468.0 290.7L467.5 292.0L464.0 295.8L463.7 296.0L460.0 299.3L458.9 300.0L456.0 303.4L455.5 304.0L454.3 308.0L453.6 312.0L453.1 316.0L452.3 320.0L452.0 321.1L451.1 324.0L449.5 328.0L448.0 331.4L447.7 332.0L446.2 336.0L445.3 340.0L445.4 344.0L446.0 348.0L446.5 352.0L446.9 356.0L446.7 360.0L445.8 364.0L444.5 368.0L444.0 369.1L442.8 372.0L440.9 376.0L440.0 377.6L438.7 380.0L436.8 384.0L436.0 385.7L435.1 388.0L433.5 392.0L432.0 395.6L431.8 396.0L430.0 400.0L428.0 403.6L427.7 404.0L424.5 408.0L424.0 408.6L420.0 412.0L420.0 412.0L416.0 414.8L414.1 416.0L412.0 417.8L409.8 420.0L408.0 422.2L406.6 424.0L404.0 427.7L403.8 428.0L401.9 432.0L400.7 436.0L400.0 439.7L399.9 440.0L399.4 444.0L397.1 448.0L396.0 449.0L393.3 452.0L392.0 453.4L389.9 456.0L388.0 458.6L386.9 460.0L384.0 463.9L383.9 464.0L380.8 468.0L380.0 469.0L377.1 472.0L376.0 473.1L372.6 476.0L372.0 476.5L368.0 479.7L367.7 480.0L364.0 483.0L362.7 484.0L360.0 486.2L357.8 488.0L356.0 489.4L352.3 492.0L352.0 492.2L348.0 495.0L346.6 496.0L344.0 497.8L340.9 500.0L340.0 500.6L336.0 503.4L335.3 504.0L332.0 506.4L329.8 508.0L328.0 509.5L325.0 512.0L324.0 513.0L320.9 516.0L320.0 516.9L316.9 520.0L316.0 521.0L312.9 524.0L312.0 524.9L308.6 528.0L308.0 528.5L304.2 532.0L304.0 532.2L300.0 535.5L299.3 536.0L296.0 538.3L292.4 540.0L292.0 540.2L288.0 541.6L284.0 542.6L280.0 543.1L276.0 543.2L272.0 542.9L268.0 542.6L264.0 542.6L260.0 542.7L256.0 542.9L252.0 543.2L248.0 543.5L244.0 543.8L240.0 543.8L236.0 543.5L232.0 542.8L228.0 540.7L227.2 540.0L224.0 537.2L223.0 536.0L220.0 534.0L218.1 532.0L216.0 530.4L214.0 528.0L212.0 526.0L210.6 524.0L208.0 520.2L207.9 520.0L205.6 516.0L204.0 513.2L203.3 512.0L200.9 508.0L200.0 506.5L198.6 504.0L196.4 500.0L196.0 499.1L194.6 496.0L193.2 492.0L192.7 488.0L192.6 484.0L192.8 480.0L193.1 476.0L193.4 472.0L193.7 468.0L194.4 464.0L195.6 460.0L196.0 459.1L197.3 456.0L199.1 452.0L200.0 450.2L201.0 448.0L202.8 444.0L204.0 441.9L205.2 440.0L208.0 436.3L208.2 436.0L211.4 432.0L212.0 431.4L215.1 428.0L216.0 427.2L219.5 424.0L220.0 423.6L224.0 420.6L224.7 420.0L228.0 417.7L230.4 416.0L232.0 415.1L236.0 413.1L237.9 412.0L240.0 410.9L243.5 408.0L244.0 407.6L247.9 404.0L248.0 403.9L252.0 400.6L252.7 400.0L256.0 396.4L256.2 396.0L257.9 392.0L258.7 388.0L258.0 384.0L256.0 381.4L254.8 380.0L252.0 377.7L250.0 376.0L248.0 374.8L245.1 372.0L244.0 371.0L241.7 368.0L240.0 365.9L238.6 364.0L236.0 361.3L234.7 360.0L232.0 357.9L229.5 356.0L228.0 355.0L224.6 352.0L224.0 351.5L220.5 348.0L220.0 347.3L217.8 344.0L216.0 340.2L215.8 340.0L212.0 338.0L208.0 337.0L204.0 336.3L201.9 336.0L200.0 335.5L196.0 333.5L194.3 332.0L192.0 329.7L189.5 328.0L188.0 326.7L184.0 324.4L183.2 324.0L180.0 321.5L176.0 320.1L175.8 320.0L172.0 316.3L171.7 316.0L168.7 312.0L168.0 310.6L166.6 308.0L167.1 304.0L167.8 300.0L166.2 296.0L164.3 292.0L164.0 291.5L162.2 288.0L160.5 284.0L160.0 282.4L159.1 280.0L159.4 276.0L160.0 275.4L164.0 273.3L166.0 272.0L168.0 269.7L168.8 268.0L168.6 264.0L168.0 262.2L167.2 260.0L165.8 256.0L164.7 252.0L164.0 249.8L163.2 248.0L161.9 244.0L160.0 241.1L158.8 240.0L156.0 238.4L153.3 236.0L152.0 234.6L149.9 232.0L148.0 229.1L147.4 228.0L146.3 224.0L144.0 220.2L143.9 220.0L140.7 216.0L140.0 215.2L137.2 212.0L136.0 210.7L133.4 208.0L132.0 206.4L129.9 204.0L128.0 201.7L126.5 200.0L124.0 197.1L123.1 196.0L120.0 192.5L119.6 192.0L116.3 188.0L116.0 187.4L113.6 184.0L116.0 181.8L120.0 182.9L123.1 184.0L124.0 184.4L128.0 186.0L132.0 187.5L133.5 188.0L136.0 189.0L140.0 190.7L144.0 191.9L144.1 192.0L148.0 193.8L152.0 194.9L154.4 196.0L156.0 196.7L160.0 197.8L164.0 199.2L167.1 200.0L168.0 200.2L172.0 200.6L176.0 201.5L180.0 202.3L184.0 203.1L188.0 203.4L192.0 203.5L196.0 203.4L200.0 203.2L204.0 203.0L208.0 202.9L212.0 202.7L216.0 202.5L220.0 202.4L224.0 202.2L228.0 202.1L232.0 202.3L236.0 202.5L240.0 201.9L244.0 200.3L244.7 200.0L248.0 199.0L252.0 198.9L255.5 200.0L256.0 200.1L260.0 201.8L264.0 203.4L265.8 204.0L268.0 204.5L272.0 204.5L273.2 204.0L276.0 202.3L280.0 200.1L281.2 200.0L284.0 199.5L285.9 200.0L288.0 200.6L292.0 200.0L292.0 200.0L292.0 199.9L291.9 196.0L290.7 192.0L288.4 188.0L288.0 187.1L286.8 184.0L284.9 180.0L284.0 178.1L283.2 176.0L281.8 172.0L280.0 169.3L278.6 168.0L276.0 165.8L274.5 164.0L272.8 160.0L272.0 158.8L270.8 156.0L268.2 152.0L268.0 151.8L265.9 148.0L264.0 146.0L262.6 144.0L260.1 140.0L260.0 139.8L258.3 136.0L256.4 132.0L256.0 131.4L254.6 128.0L252.5 124.0L252.0 123.2L250.8 120.0L249.1 116.0L248.0 114.3L246.9 112.0L244.9 108.0L244.0 105.5L243.4 104.0L241.3 100.0L240.0 96.9L239.4 96.0L237.5 92.0L236.0 88.5L235.7 88.0L233.4 84.0L232.0 81.1L231.3 80.0L229.8 76.0L228.4 72.0L228.0 71.1L225.9 68.0L224.9 64.0L224.0 61.3L223.0 60.0L220.8 56.0L220.0 52.0L220.0 51.9L217.0 48.0L216.0 45.1L215.1 44.0L212.7 40.0L212.0 38.6L209.8 36.0L208.0 32.7L207.7 32.0ZM391.5 32.0L392.0 32.0L392.3 32.0L392.0 32.3L391.5 32.0ZM108.0 180.0L108.0 179.6L112.0 180.0L112.1 180.0L112.0 180.2L108.0 180.2L108.0 180.0Z" fill="rgb(0,97,255)" fill-rule="evenodd"/>
<path d="M221.1 32.0L224.0 32.0L228.0 32.0L232.0 32.0L236.0 32.0L240.0 32.0L244.0 32.0L248.0 32.0L252.0 32.0L256.0 32.0L260.0 32.0L264.0 32.0L268.0 32.0L272.0 32.0L276.0 32.0L280.0 32.0L284.0 32.0L288.0 32.0L292.0 32.0L296.0 32.0L300.0 32.0L304.0 32.0L308.0 32.0L312.0 32.0L316.0 32.0L320.0 32.0L324.0 32.0L328.0 32.0L332.0 32.0L336.0 32.0L340.0 32.0L341.8 32.0L343.7 36.0L344.0 36.9L346.0 40.0L348.0 43.7L348.3 44.0L351.0 48.0L352.0 49.9L354.6 52.0L356.0 53.4L359.6 56.0L360.0 56.4L363.9 60.0L364.0 60.1L368.0 62.5L372.0 62.9L375.6 64.0L376.0 64.1L380.0 66.4L381.9 68.0L384.0 70.0L386.2 72.0L388.0 73.5L391.5 76.0L392.0 76.3L396.0 80.0L396.0 80.0L399.6 84.0L400.0 84.5L403.0 88.0L404.0 89.0L407.3 92.0L408.0 92.7L411.0 96.0L412.0 97.1L414.7 100.0L416.0 101.9L418.3 104.0L420.0 105.7L424.0 107.2L428.0 106.8L432.0 105.0L432.5 104.0L433.6 100.0L434.6 96.0L435.6 92.0L435.4 88.0L435.2 84.0L436.0 83.4L437.7 84.0L440.0 85.4L443.0 88.0L444.0 88.8L447.8 92.0L448.0 92.1L448.7 92.0L452.0 89.3L452.3 88.0L455.2 84.0L456.0 83.6L460.0 82.3L464.0 80.8L465.5 80.0L468.0 78.1L470.2 76.0L472.0 73.5L473.3 72.0L476.0 69.6L478.1 68.0L480.0 66.3L481.8 64.0L484.0 61.0L485.0 60.0L488.0 57.6L492.0 56.5L496.0 56.0L496.0 56.0L500.0 54.0L501.9 52.0L504.0 48.8L504.5 48.0L506.9 44.0L508.0 41.8L508.9 40.0L510.4 36.0L511.4 32.0L512.0 32.0L516.0 32.0L520.0 32.0L524.0 32.0L528.0 32.0L532.0 32.0L536.0 32.0L540.0 32.0L544.0 32.0L548.0 32.0L552.0 32.0L556.0 32.0L560.0 32.0L564.0 32.0L568.0 32.0L572.0 32.0L576.0 32.0L580.0 32.0L584.0 32.0L588.0 32.0L592.0 32.0L596.0 32.0L600.0 32.0L604.0 32.0L608.0 32.0L612.0 32.0L616.0 32.0L620.0 32.0L624.0 32.0L628.0 32.0L632.0 32.0L636.0 32.0L640.0 32.0L644.0 32.0L644.0 36.0L644.0 40.0L644.0 44.0L644.0 48.0L644.0 52.0L644.0 56.0L644.0 60.0L644.0 64.0L644.0 68.0L644.0 72.0L644.0 76.0L644.0 80.0L644.0 84.0L644.0 88.0L644.0 92.0L644.0 96.0L644.0 100.0L644.0 104.0L644.0 108.0L644.0 112.0L644.0 116.0L644.0 120.0L644.0 124.0L644.0 128.0L644.0 132.0L644.0 136.0L644.0 140.0L644.0 144.0L644.0 148.0L644.0 152.0L644.0 156.0L644.0 160.0L644.0 164.0L644.0 168.0L644.0 172.0L644.0 176.0L644.0 180.0L644.0 184.0L644.0 188.0L644.0 192.0L644.0 196.0L644.0 200.0L644.0 204.0L644.0 208.0L644.0 212.0L644.0 216.0L644.0 220.0L644.0 224.0L644.0 228.0L644.0 232.0L644.0 236.0L644.0 240.0L644.0 244.0L644.0 248.0L644.0 252.0L644.0 256.0L644.0 260.0L644.0 264.0L644.0 268.0L644.0 272.0L644.0 276.0L644.0 280.0L644.0 284.0L644.0 288.0L644.0 292.0L644.0 296.0L644.0 300.0L644.0 304.0L644.0 308.0L644.0 312.0L644.0 316.0L644.0 320.0L644.0 324.0L644.0 328.0L644.0 332.0L644.0 336.0L644.0 340.0L644.0 344.0L644.0 348.0L644.0 352.0L644.0 356.0L644.0 360.0L644.0 364.0L644.0 368.0L644.0 372.0L644.0 376.0L644.0 380.0L644.0 384.0L644.0 388.0L644.0 392.0L644.0 396.0L644.0 400.0L644.0 404.0L644.0 408.0L644.0 412.0L644.0 416.0L644.0 420.0L644.0 424.0L644.0 428.0L644.0 432.0L644.0 436.0L644.0 440.0L644.0 444.0L644.0 448.0L644.0 452.0L644.0 456.0L644.0 460.0L644.0 464.0L644.0 468.0L644.0 472.0L644.0 476.0L644.0 480.0L644.0 484.0L644.0 488.0L644.0 492.0L644.0 496.0L644.0 500.0L644.0 504.0L644.0 508.0L644.0 512.0L644.0 516.0L644.0 520.0L644.0 524.0L644.0 528.0L644.0 532.0L644.0 536.0L644.0 540.0L644.0 544.0L644.0 548.0L644.0 552.0L644.0 556.0L644.0 560.0L644.0 564.0L644.0 568.0L644.0 572.0L644.0 576.0L640.0 576.0L636.0 576.0L632.0 576.0L628.0 576.0L624.0 576.0L621.4 576.0L620.1 572.0L620.0 571.7L618.6 568.0L617.1 564.0L616.0 560.6L615.8 560.0L614.4 556.0L612.6 552.0L612.0 551.0L610.1 548.0L608.0 545.8L606.3 544.0L604.0 542.2L601.2 540.0L600.0 539.3L596.0 536.9L594.3 536.0L592.0 534.9L588.0 533.3L584.0 532.0L584.0 532.0L580.0 530.9L576.0 529.7L572.0 528.2L571.7 528.0L568.0 525.8L565.6 524.0L564.0 522.4L562.0 520.0L560.0 516.5L559.7 516.0L558.2 512.0L556.9 508.0L556.1 504.0L556.0 502.8L555.8 500.0L555.8 496.0L555.9 492.0L556.0 488.9L556.0 488.0L556.2 484.0L556.4 480.0L556.6 476.0L557.8 472.0L560.0 468.7L560.4 468.0L562.3 464.0L564.0 460.0L564.0 459.9L565.5 456.0L566.8 452.0L567.9 448.0L568.0 447.8L569.5 444.0L571.5 440.0L572.0 438.8L573.2 436.0L574.5 432.0L575.3 428.0L575.7 424.0L575.8 420.0L575.5 416.0L574.9 412.0L574.5 408.0L574.1 404.0L573.5 400.0L572.6 396.0L572.0 394.0L571.5 392.0L570.5 388.0L569.5 384.0L568.7 380.0L568.2 376.0L568.0 374.8L567.6 372.0L566.7 368.0L565.2 364.0L564.0 362.0L562.8 360.0L560.0 356.2L559.9 356.0L557.6 352.0L556.0 348.6L555.8 348.0L554.3 344.0L552.2 340.0L552.0 339.8L548.6 336.0L548.0 335.5L544.0 332.9L541.9 332.0L540.0 331.2L536.0 330.1L532.0 329.1L528.5 328.0L528.0 327.9L524.0 326.2L520.0 324.4L519.1 324.0L516.0 322.4L512.0 320.6L510.6 320.0L508.0 318.8L504.0 316.8L502.6 316.0L500.0 314.2L497.6 312.0L496.0 309.9L494.7 308.0L492.8 304.0L492.0 300.7L491.8 300.0L492.0 296.4L492.0 296.0L492.4 292.0L493.0 288.0L493.6 284.0L493.9 280.0L494.2 276.0L495.7 272.0L496.0 271.6L499.5 268.0L500.0 267.0L501.3 264.0L501.5 260.0L501.3 256.0L500.4 252.0L500.0 251.3L496.5 248.0L496.0 247.8L495.3 248.0L492.0 249.6L488.5 252.0L488.0 252.3L484.0 254.8L481.0 256.0L480.0 256.5L476.0 259.0L475.1 260.0L473.3 264.0L472.0 267.1L471.7 268.0L470.1 272.0L468.5 276.0L468.0 277.8L467.4 280.0L466.6 284.0L466.0 288.0L464.3 292.0L464.0 292.3L460.0 295.8L459.5 296.0L456.0 297.8L452.2 300.0L452.0 300.2L450.1 304.0L448.8 308.0L448.0 310.0L447.0 312.0L444.9 316.0L444.0 317.9L442.6 320.0L440.0 324.0L440.0 324.0L437.3 328.0L436.0 330.2L434.9 332.0L433.3 336.0L432.5 340.0L432.5 344.0L433.0 348.0L433.7 352.0L434.0 356.0L434.0 360.0L433.6 364.0L433.0 368.0L432.1 372.0L432.0 372.3L431.0 376.0L429.6 380.0L428.3 384.0L428.0 384.8L426.8 388.0L425.4 392.0L424.1 396.0L424.0 396.1L421.9 400.0L420.0 402.3L416.7 404.0L416.0 404.3L412.0 404.6L408.0 404.0L407.9 404.0L404.0 402.3L400.3 400.0L400.0 399.8L396.0 398.2L392.0 397.7L388.0 397.3L384.0 397.1L380.0 399.6L379.8 400.0L379.8 404.0L380.0 404.7L380.9 408.0L382.5 412.0L384.0 415.1L384.4 416.0L386.1 420.0L387.9 424.0L388.0 424.3L389.3 428.0L390.1 432.0L390.5 436.0L390.7 440.0L390.2 444.0L388.4 448.0L388.0 448.5L385.0 452.0L384.0 453.2L381.3 456.0L380.0 457.6L378.0 460.0L376.0 462.5L374.8 464.0L372.0 467.0L371.0 468.0L368.0 470.7L366.6 472.0L364.0 474.2L361.8 476.0L360.0 477.4L356.6 480.0L356.0 480.5L352.0 483.4L351.2 484.0L348.0 486.2L345.4 488.0L344.0 489.0L340.0 492.0L340.0 492.0L336.0 495.5L335.5 496.0L332.0 499.3L331.2 500.0L328.0 502.7L326.3 504.0L324.0 505.7L320.9 508.0L320.0 508.7L316.0 511.9L315.9 512.0L312.0 515.5L311.5 516.0L308.0 519.4L307.3 520.0L304.0 522.9L302.7 524.0L300.0 526.1L297.2 528.0L296.0 528.8L292.0 530.9L289.1 532.0L288.0 532.4L284.0 533.3L280.0 533.6L276.0 533.5L272.0 533.7L268.0 534.4L264.0 534.7L260.0 534.5L256.0 533.8L252.0 532.9L249.4 532.0L248.0 531.5L244.0 529.6L241.4 528.0L240.0 527.1L236.0 524.4L235.4 524.0L232.0 521.9L228.0 520.1L227.8 520.0L224.0 518.4L220.0 516.3L219.6 516.0L216.0 512.1L215.9 512.0L213.4 508.0L212.0 506.1L210.8 504.0L208.7 500.0L208.0 497.4L207.6 496.0L207.2 492.0L207.2 488.0L207.4 484.0L208.0 480.4L208.1 480.0L209.0 476.0L209.8 472.0L210.5 468.0L211.2 464.0L212.0 461.4L212.4 460.0L213.7 456.0L215.2 452.0L216.0 450.4L217.1 448.0L219.1 444.0L220.0 442.3L221.2 440.0L223.6 436.0L224.0 435.4L226.3 432.0L228.0 429.9L229.4 428.0L232.0 425.0L232.8 424.0L236.0 420.6L236.5 420.0L240.0 417.2L241.1 416.0L244.0 413.4L245.1 412.0L248.0 408.9L248.8 408.0L252.0 405.2L253.3 404.0L256.0 401.5L257.2 400.0L260.0 396.0L260.0 395.9L261.9 392.0L264.0 388.1L264.1 388.0L264.5 384.0L264.0 383.1L261.8 380.0L260.0 378.7L256.3 376.0L256.0 375.8L252.0 373.1L250.2 372.0L248.0 370.5L245.3 368.0L244.0 366.8L241.8 364.0L240.0 362.0L238.2 360.0L236.0 358.1L233.3 356.0L232.0 355.1L228.0 352.6L227.3 352.0L224.0 349.1L222.9 348.0L220.0 344.4L219.8 344.0L217.9 340.0L216.0 337.8L212.0 336.0L211.9 336.0L208.0 334.4L204.0 333.1L200.5 332.0L200.0 331.6L196.0 328.1L195.9 328.0L193.0 324.0L192.0 322.6L189.9 320.0L188.0 317.5L186.7 316.0L184.3 312.0L184.6 308.0L184.0 304.4L183.9 304.0L182.1 300.0L180.4 296.0L180.0 295.0L178.7 292.0L177.1 288.0L176.0 284.7L175.8 284.0L175.2 280.0L176.0 277.9L176.4 276.0L177.1 272.0L176.6 268.0L176.0 266.8L174.2 264.0L172.0 260.7L171.6 260.0L169.4 256.0L168.0 252.0L168.0 252.0L165.9 248.0L165.0 244.0L164.0 241.8L162.8 240.0L160.0 237.3L157.7 236.0L156.0 234.6L153.6 232.0L152.0 229.7L151.0 228.0L150.2 224.0L149.4 220.0L148.0 216.9L147.6 216.0L145.4 212.0L148.0 210.0L152.0 210.1L156.0 210.3L160.0 210.9L162.4 212.0L161.7 216.0L164.0 216.9L168.0 217.3L172.0 217.1L176.0 217.1L180.0 217.7L184.0 217.6L188.0 217.3L192.0 217.3L196.0 216.9L200.0 216.0L200.1 216.0L204.0 215.0L208.0 214.0L212.0 212.9L215.5 212.0L216.0 211.9L220.0 210.9L224.0 210.0L228.0 209.4L232.0 209.1L236.0 209.1L240.0 209.1L243.1 208.0L244.0 207.5L248.0 204.1L248.3 204.0L252.0 203.0L256.0 203.6L256.9 204.0L260.0 204.9L264.0 206.0L268.0 206.7L272.0 206.6L276.0 205.3L279.3 204.0L280.0 203.6L284.0 203.8L284.3 204.0L288.0 207.1L289.0 208.0L292.0 210.8L296.0 210.5L297.6 208.0L299.2 204.0L299.7 200.0L299.2 196.0L298.0 192.0L296.2 188.0L296.0 187.5L294.5 184.0L293.0 180.0L292.0 177.7L291.1 176.0L288.3 172.0L288.0 171.6L286.3 168.0L284.0 164.0L284.0 164.0L282.0 160.0L280.0 156.1L279.9 156.0L278.2 152.0L276.1 148.0L276.0 147.9L272.0 144.0L272.0 144.0L268.0 140.7L267.3 140.0L264.2 136.0L264.0 135.6L262.1 132.0L260.0 128.2L259.9 128.0L257.6 124.0L256.0 121.8L255.4 120.0L253.5 116.0L252.0 114.0L251.3 112.0L249.6 108.0L248.1 104.0L248.0 103.8L246.6 100.0L244.6 96.0L244.0 94.5L243.4 92.0L242.0 88.0L240.6 84.0L240.0 82.6L239.0 80.0L237.4 76.0L236.0 72.3L235.9 72.0L234.3 68.0L233.0 64.0L232.0 60.5L231.9 60.0L230.0 56.0L228.3 52.0L228.0 50.9L227.4 48.0L225.5 44.0L224.0 40.6L223.8 40.0L223.0 36.0L221.1 32.0Z" fill="rgb(0,114,255)" fill-rule="evenodd"/>
<path d="M244.7 32.0L248.0 32.0L252.0 32.0L256.0 32.0L260.0 32.0L264.0 32.0L268.0 32.0L272.0 32.0L276.0 32.0L280.0 32.0L284.0 32.0L288.0 32.0L292.0 32.0L296.0 32.0L300.0 32.0L304.0 32.0L308.0 32.0L312.0 32.0L316.0 32.0L320.0 32.0L324.0 32.0L328.0 32.0L332.0 32.0L336.0 32.0L339.0 32.0L340.0 33.6L341.5 36.0L343.2 40.0L344.0 41.8L345.4 44.0L347.7 48.0L348.0 48.8L349.9 52.0L352.0 55.2L352.8 56.0L356.0 59.9L356.1 60.0L359.7 64.0L360.0 64.3L363.4 68.0L364.0 68.8L368.0 71.6L372.0 69.7L376.0 69.7L379.1 72.0L380.0 72.7L383.4 76.0L384.0 76.5L388.0 79.5L388.9 80.0L392.0 82.4L393.5 84.0L396.0 86.6L397.4 88.0L400.0 90.5L401.5 92.0L404.0 94.6L405.4 96.0L408.0 97.9L409.9 100.0L412.0 102.4L413.2 104.0L416.0 107.3L416.7 108.0L420.0 112.0L420.0 112.0L424.0 113.9L428.0 114.2L432.0 114.3L436.0 113.2L437.2 112.0L438.0 108.0L438.6 104.0L440.0 100.8L441.6 100.0L444.0 99.2L448.0 99.9L448.3 100.0L452.0 101.4L456.0 100.6L456.6 100.0L458.9 96.0L460.0 93.2L460.7 92.0L464.0 88.0L464.0 88.0L468.0 85.6L470.3 84.0L472.0 83.0L475.7 80.0L476.0 79.7L480.0 76.2L480.3 76.0L484.0 72.5L484.4 72.0L487.0 68.0L488.0 66.7L490.7 64.0L492.0 63.1L496.0 61.3L498.8 60.0L500.0 59.5L504.0 56.6L504.7 56.0L508.0 52.3L508.3 52.0L511.9 48.0L512.0 47.9L515.7 44.0L516.0 43.6L520.0 42.0L524.0 42.3L528.0 42.8L531.9 40.0L532.0 39.9L533.4 36.0L534.3 32.0L536.0 32.0L540.0 32.0L544.0 32.0L548.0 32.0L552.0 32.0L556.0 32.0L560.0 32.0L564.0 32.0L568.0 32.0L572.0 32.0L576.0 32.0L580.0 32.0L584.0 32.0L588.0 32.0L592.0 32.0L596.0 32.0L600.0 32.0L604.0 32.0L608.0 32.0L612.0 32.0L616.0 32.0L620.0 32.0L624.0 32.0L628.0 32.0L632.0 32.0L636.0 32.0L640.0 32.0L644.0 32.0L644.0 36.0L644.0 40.0L644.0 44.0L644.0 48.0L644.0 52.0L644.0 56.0L644.0 60.0L644.0 64.0L644.0 68.0L644.0 72.0L644.0 76.0L644.0 80.0L644.0 84.0L644.0 88.0L644.0 92.0L644.0 96.0L644.0 100.0L644.0 104.0L644.0 108.0L644.0 112.0L644.0 116.0L644.0 120.0L644.0 124.0L644.0 128.0L644.0 132.0L644.0 136.0L644.0 140.0L644.0 144.0L644.0 148.0L644.0 152.0L644.0 156.0L644.0 160.0L644.0 164.0L644.0 168.0L644.0 172.0L644.0 176.0L644.0 180.0L644.0 184.0L644.0 188.0L644.0 192.0L644.0 196.0L644.0 200.0L644.0 204.0L644.0 208.0L644.0 212.0L644.0 216.0L644.0 220.0L644.0 224.0L644.0 228.0L644.0 232.0L644.0 236.0L644.0 240.0L644.0 244.0L644.0 248.0L644.0 252.0L644.0 256.0L644.0 260.0L644.0 264.0L644.0 268.0L644.0 272.0L644.0 276.0L644.0 280.0L644.0 284.0L644.0 288.0L644.0 292.0L644.0 296.0L644.0 300.0L644.0 304.0L644.0 308.0L644.0 312.0L644.0 316.0L644.0 320.0L644.0 324.0L644.0 328.0L644.0 332.0L644.0 336.0L644.0 340.0L644.0 344.0L644.0 348.0L644.0 352.0L644.0 356.0L644.0 360.0L644.0 364.0L644.0 368.0L644.0 372.0L644.0 376.0L644.0 380.0L644.0 384.0L644.0 388.0L644.0 392.0L644.0 396.0L644.0 400.0L644.0 404.0L644.0 408.0L644.0 412.0L644.0 416.0L644.0 420.0L644.0 424.0L644.0 428.0L644.0 432.0L644.0 436.0L644.0 440.0L644.0 444.0L644.0 448.0L644.0 452.0L644.0 456.0L644.0 460.0L644.0 464.0L644.0 468.0L644.0 472.0L644.0 476.0L644.0 480.0L644.0 484.0L644.0 488.0L644.0 492.0L644.0 496.0L644.0 500.0L644.0 504.0L644.0 508.0L644.0 512.0L644.0 516.0L644.0 520.0L644.0 524.0L644.0 528.0L644.0 532.0L644.0 536.0L644.0 540.0L644.0 544.0L644.0 548.0L644.0 552.0L644.0 556.0L644.0 560.0L644.0 564.0L644.0 568.0L644.0 571.6L640.0 569.7L637.7 568.0L636.0 566.9L633.0 564.0L632.0 562.7L630.7 560.0L630.1 556.0L630.3 552.0L630.4 548.0L630.0 544.0L628.4 540.0L628.0 539.5L624.1 536.0L624.0 536.0L620.0 534.1L616.0 532.4L615.0 532.0L612.0 530.8L608.0 529.2L604.1 528.0L604.0 528.0L600.0 526.8L596.0 525.6L592.0 524.0L591.9 524.0L588.0 521.6L585.1 520.0L584.0 519.1L580.0 516.2L579.8 516.0L576.1 512.0L576.0 511.8L573.8 508.0L572.0 504.1L571.9 504.0L570.7 500.0L570.1 496.0L569.9 492.0L569.7 488.0L569.5 484.0L569.4 480.0L569.5 476.0L570.0 472.0L571.5 468.0L572.0 467.1L573.3 464.0L574.6 460.0L575.7 456.0L576.0 454.8L576.7 452.0L577.7 448.0L579.0 444.0L580.0 441.1L580.4 440.0L581.7 436.0L582.6 432.0L583.1 428.0L583.3 424.0L583.5 420.0L583.8 416.0L584.0 412.0L583.5 408.0L582.7 404.0L581.6 400.0L580.0 396.4L579.9 396.0L578.2 392.0L576.4 388.0L576.0 387.1L574.9 384.0L573.9 380.0L573.6 376.0L573.6 372.0L573.4 368.0L572.7 364.0L572.0 361.9L571.3 360.0L568.7 356.0L568.0 355.3L564.6 352.0L564.0 351.4L562.3 348.0L561.6 344.0L560.7 340.0L560.0 338.8L558.5 336.0L556.0 333.6L554.2 332.0L552.0 330.5L548.0 328.3L547.3 328.0L544.0 326.7L540.0 325.8L536.0 325.2L532.0 324.6L530.2 324.0L528.0 323.1L524.0 320.9L522.2 320.0L520.0 318.7L516.0 316.7L514.4 316.0L512.0 314.9L508.0 312.8L506.7 312.0L504.0 309.9L502.1 308.0L500.0 305.0L499.4 304.0L498.0 300.0L497.7 296.0L498.0 292.0L498.8 288.0L499.7 284.0L500.0 281.8L500.4 280.0L501.1 276.0L504.0 272.3L504.2 272.0L505.7 268.0L506.4 264.0L506.6 260.0L506.0 256.0L504.8 252.0L504.0 251.0L502.0 248.0L500.0 246.7L496.0 245.6L492.0 246.7L489.9 248.0L488.0 249.5L484.2 252.0L484.0 252.1L480.0 254.2L476.0 255.8L475.6 256.0L472.2 260.0L472.0 260.6L471.2 264.0L469.8 268.0L468.0 271.6L467.8 272.0L466.1 276.0L464.9 280.0L464.0 284.0L464.0 284.1L463.0 288.0L460.5 292.0L460.0 292.4L456.0 293.9L452.0 294.9L450.2 296.0L448.0 298.2L446.8 300.0L445.2 304.0L444.0 306.3L442.1 308.0L440.0 309.8L436.0 311.8L435.8 312.0L432.2 316.0L432.0 316.3L429.0 320.0L428.0 321.1L425.3 324.0L424.0 325.6L421.6 328.0L420.0 330.1L418.1 332.0L416.0 334.8L415.2 336.0L413.5 340.0L412.4 344.0L412.0 345.3L411.1 348.0L411.5 352.0L412.0 352.4L416.0 355.9L416.0 356.0L418.3 360.0L420.0 362.5L420.6 364.0L422.2 368.0L422.9 372.0L422.7 376.0L421.0 380.0L420.0 381.5L416.6 384.0L416.0 384.5L412.0 385.1L409.0 384.0L408.0 383.6L404.0 380.0L404.0 380.0L401.5 376.0L400.0 373.0L399.3 372.0L397.0 368.0L396.0 366.3L394.3 364.0L392.0 360.7L391.6 360.0L388.0 356.3L387.7 356.0L384.0 353.4L381.8 352.0L380.0 351.2L376.0 350.8L372.0 351.6L371.1 352.0L368.0 353.9L366.4 356.0L364.2 360.0L364.0 360.4L362.6 364.0L360.8 368.0L360.0 369.6L359.1 372.0L357.7 376.0L356.9 380.0L356.6 384.0L356.3 388.0L356.0 390.5L355.9 392.0L355.4 396.0L355.1 400.0L355.3 404.0L356.0 407.3L356.2 408.0L357.8 412.0L359.8 416.0L360.0 416.4L362.2 420.0L364.0 422.5L365.3 424.0L368.0 426.8L369.1 428.0L372.0 431.2L372.8 432.0L375.8 436.0L376.0 436.4L377.4 440.0L377.5 444.0L376.0 447.0L375.5 448.0L372.7 452.0L372.0 452.9L369.6 456.0L368.0 458.0L366.4 460.0L364.0 462.7L362.9 464.0L360.0 467.4L359.5 468.0L356.0 471.2L355.0 472.0L352.0 474.1L349.1 476.0L348.0 476.7L344.0 479.4L343.1 480.0L340.0 482.1L337.6 484.0L336.0 485.2L333.1 488.0L332.0 489.2L329.5 492.0L328.0 493.7L325.9 496.0L324.0 497.7L321.1 500.0L320.0 500.8L316.0 503.5L315.3 504.0L312.0 506.4L309.9 508.0L308.0 509.6L304.9 512.0L304.0 512.8L300.0 516.0L300.0 516.0L296.0 519.1L294.7 520.0L292.0 521.7L288.0 524.0L287.8 524.0L284.0 524.8L280.0 524.6L276.0 524.2L272.0 524.2L268.0 524.8L264.0 525.2L260.0 524.8L256.6 524.0L256.0 523.8L252.0 522.3L248.1 520.0L248.0 519.9L244.0 516.3L243.7 516.0L240.0 512.4L239.6 512.0L236.0 508.4L235.6 508.0L232.3 504.0L232.0 503.6L229.8 500.0L228.0 496.4L227.8 496.0L226.3 492.0L225.6 488.0L225.5 484.0L225.6 480.0L225.8 476.0L226.0 472.0L226.3 468.0L226.8 464.0L227.6 460.0L228.0 458.1L228.4 456.0L229.1 452.0L230.1 448.0L231.5 444.0L232.0 443.1L233.6 440.0L235.8 436.0L236.0 435.6L237.7 432.0L240.0 428.2L240.1 428.0L242.8 424.0L244.0 422.4L245.5 420.0L248.0 416.0L248.0 416.0L250.7 412.0L252.0 410.6L254.4 408.0L256.0 406.6L258.0 404.0L260.0 401.4L260.8 400.0L263.0 396.0L264.0 394.3L265.8 392.0L268.0 389.4L269.1 388.0L269.7 384.0L268.0 381.1L267.3 380.0L264.0 377.0L262.6 376.0L260.0 374.0L257.3 372.0L256.0 371.0L252.0 368.3L251.5 368.0L248.0 365.5L246.3 364.0L244.0 362.1L242.2 360.0L240.0 357.9L237.7 356.0L236.0 354.9L232.0 352.4L231.4 352.0L228.0 350.0L225.7 348.0L224.0 346.5L222.1 344.0L220.0 340.4L219.8 340.0L216.6 336.0L216.0 335.5L212.0 333.3L209.2 332.0L208.0 330.6L205.5 328.0L204.0 325.4L202.9 324.0L200.8 320.0L200.0 317.8L199.0 316.0L197.4 312.0L196.4 308.0L196.0 307.1L194.7 304.0L192.8 300.0L192.0 298.4L190.7 296.0L188.5 292.0L188.0 289.3L187.7 288.0L186.3 284.0L184.5 280.0L184.0 279.1L182.1 276.0L180.8 272.0L180.0 268.6L179.8 268.0L177.5 264.0L176.0 261.8L174.6 260.0L172.0 256.0L172.0 255.9L170.6 252.0L168.4 248.0L168.0 246.8L167.4 244.0L167.0 240.0L166.3 236.0L168.0 233.8L172.0 232.6L174.5 232.0L176.0 231.6L180.0 230.6L184.0 229.7L188.0 228.7L190.7 228.0L192.0 227.7L196.0 227.0L200.0 226.4L204.0 225.6L208.0 224.4L209.1 224.0L212.0 222.8L216.0 220.8L217.3 220.0L220.0 218.6L224.0 216.6L225.2 216.0L228.0 214.9L232.0 213.7L236.0 213.1L240.0 212.8L243.9 212.0L244.0 211.9L248.0 208.9L249.7 208.0L252.0 206.8L256.0 206.9L260.0 207.7L261.5 208.0L264.0 208.4L268.0 208.8L272.0 208.7L275.0 208.0L276.0 207.7L280.0 206.6L284.0 207.7L284.4 208.0L288.0 211.8L288.2 212.0L292.0 215.6L295.6 216.0L296.0 216.0L296.1 216.0L299.7 212.0L300.0 211.6L301.8 208.0L303.8 204.0L304.0 203.3L305.3 200.0L305.2 196.0L304.3 192.0L304.0 190.8L303.0 188.0L301.6 184.0L300.2 180.0L300.0 179.6L298.7 176.0L297.4 172.0L296.2 168.0L296.0 166.9L295.1 164.0L293.9 160.0L292.0 156.1L291.9 156.0L289.1 152.0L288.0 150.2L286.8 148.0L284.8 144.0L284.0 141.6L283.2 140.0L280.3 136.0L280.0 135.7L276.0 133.0L275.2 132.0L273.3 128.0L272.0 124.6L271.8 124.0L270.2 120.0L268.3 116.0L268.0 115.4L266.8 112.0L265.5 108.0L264.1 104.0L264.0 103.7L262.3 100.0L260.6 96.0L260.0 93.9L259.6 92.0L259.2 88.0L258.7 84.0L258.2 80.0L257.6 76.0L256.0 73.0L255.3 72.0L252.4 68.0L252.0 66.0L251.3 64.0L250.8 60.0L250.3 56.0L249.7 52.0L248.5 48.0L248.0 46.8L246.2 44.0L245.4 40.0L245.0 36.0L244.7 32.0ZM640.0 150.7L639.0 152.0L640.0 152.4L641.7 152.0L640.0 150.7ZM284.0 251.7L283.4 252.0L283.6 256.0L284.0 256.4L285.5 256.0L284.5 252.0L284.0 251.7Z" fill="rgb(0,131,255)" fill-rule="evenodd"/>
<path d="M252.6 32.0L256.0 32.0L260.0 32.0L264.0 32.0L268.0 32.0L272.0 32.0L276.0 32.0L280.0 32.0L284.0 32.0L288.0 32.0L292.0 32.0L296.0 32.0L300.0 32.0L304.0 32.0L308.0 32.0L312.0 32.0L316.0 32.0L320.0 32.0L324.0 32.0L328.0 32.0L332.0 32.0L336.0 32.0L336.9 32.0L339.3 36.0L340.0 37.1L341.4 40.0L343.1 44.0L344.0 45.4L345.7 48.0L347.3 52.0L348.0 53.3L349.9 56.0L352.0 59.3L352.6 60.0L355.8 64.0L356.0 64.3L359.1 68.0L360.0 69.6L361.8 72.0L363.4 76.0L364.0 77.7L365.7 80.0L367.8 84.0L368.0 84.2L371.3 88.0L372.0 89.3L374.4 92.0L376.0 93.9L377.6 96.0L380.0 98.0L382.2 100.0L384.0 101.8L386.9 104.0L388.0 104.6L392.0 105.5L396.0 104.9L400.0 104.4L402.9 104.0L404.0 103.8L404.5 104.0L408.0 105.5L410.3 108.0L412.0 109.7L413.6 112.0L416.0 114.5L417.3 116.0L420.0 118.1L423.4 120.0L424.0 120.4L428.0 121.4L432.0 121.3L436.0 120.5L437.3 120.0L440.0 118.7L442.3 116.0L444.0 112.5L444.6 112.0L448.0 109.5L452.0 109.4L456.0 108.5L456.5 108.0L460.0 105.0L460.6 104.0L463.3 100.0L464.0 98.8L466.4 96.0L468.0 94.2L469.8 92.0L472.0 89.6L473.4 88.0L476.0 85.8L478.3 84.0L480.0 82.6L483.8 80.0L484.0 79.9L487.6 76.0L488.0 75.5L490.1 72.0L492.0 69.4L493.2 68.0L496.0 65.9L498.8 64.0L500.0 63.3L504.0 60.8L505.0 60.0L508.0 57.4L509.9 56.0L512.0 54.2L516.0 52.0L516.1 52.0L520.0 51.0L524.0 51.2L528.0 51.8L532.0 51.9L536.0 51.0L539.8 48.0L540.0 47.8L542.7 44.0L544.0 41.8L545.4 40.0L548.0 36.2L548.2 36.0L550.6 32.0L552.0 32.0L556.0 32.0L560.0 32.0L564.0 32.0L568.0 32.0L572.0 32.0L576.0 32.0L580.0 32.0L584.0 32.0L588.0 32.0L592.0 32.0L596.0 32.0L600.0 32.0L604.0 32.0L608.0 32.0L612.0 32.0L616.0 32.0L620.0 32.0L624.0 32.0L628.0 32.0L632.0 32.0L632.5 32.0L632.0 33.4L631.2 36.0L629.5 40.0L628.0 43.1L627.6 44.0L625.9 48.0L624.0 51.8L623.9 52.0L622.3 56.0L621.0 60.0L620.5 64.0L620.9 68.0L621.6 72.0L622.4 76.0L623.2 80.0L624.0 83.5L624.1 84.0L625.2 88.0L626.3 92.0L627.7 96.0L628.0 96.8L629.4 100.0L630.7 104.0L631.5 108.0L632.0 112.0L631.9 116.0L631.3 120.0L629.7 124.0L628.0 126.3L627.1 128.0L624.0 132.0L624.0 132.0L620.8 136.0L620.0 136.8L617.3 140.0L616.0 141.2L613.2 144.0L612.0 145.1L608.9 148.0L608.0 148.9L605.3 152.0L604.0 153.7L602.3 156.0L600.0 158.9L599.1 160.0L596.0 163.5L595.6 164.0L592.0 167.3L591.3 168.0L588.0 170.9L587.1 172.0L584.3 176.0L584.0 176.7L583.3 180.0L583.2 184.0L583.6 188.0L583.8 192.0L584.0 195.8L584.0 196.0L584.0 196.3L583.9 200.0L583.6 204.0L583.9 208.0L584.0 208.2L585.5 212.0L588.0 215.0L588.9 216.0L592.0 218.1L595.8 220.0L596.0 220.1L600.0 221.5L604.0 222.5L608.0 223.0L612.0 222.9L616.0 222.6L620.0 222.1L624.0 221.2L627.7 220.0L628.0 219.9L632.0 218.7L636.0 217.7L640.0 216.8L644.0 216.1L644.0 220.0L644.0 224.0L644.0 228.0L644.0 232.0L644.0 236.0L644.0 240.0L644.0 244.0L644.0 248.0L644.0 252.0L644.0 256.0L644.0 260.0L644.0 264.0L644.0 268.0L644.0 272.0L644.0 276.0L644.0 280.0L644.0 284.0L644.0 288.0L644.0 292.0L644.0 296.0L644.0 300.0L644.0 304.0L644.0 308.0L644.0 312.0L644.0 316.0L644.0 320.0L644.0 324.0L644.0 328.0L644.0 332.0L644.0 336.0L644.0 340.0L644.0 344.0L644.0 348.0L644.0 352.0L644.0 356.0L644.0 360.0L644.0 364.0L644.0 368.0L644.0 372.0L644.0 376.0L644.0 380.0L644.0 384.0L644.0 388.0L644.0 392.0L644.0 396.0L644.0 400.0L644.0 404.0L644.0 408.0L644.0 412.0L644.0 416.0L644.0 420.0L644.0 424.0L644.0 428.0L644.0 432.0L644.0 436.0L644.0 440.0L644.0 444.0L644.0 448.0L644.0 452.0L644.0 456.0L644.0 460.0L644.0 464.0L644.0 468.0L644.0 472.0L644.0 476.0L644.0 480.0L644.0 484.0L644.0 488.0L644.0 492.0L644.0 496.0L644.0 500.0L644.0 504.0L644.0 508.0L644.0 512.0L644.0 516.0L644.0 520.0L644.0 520.8L641.6 520.0L640.0 519.4L636.0 517.7L632.0 516.3L631.2 516.0L628.0 514.7L624.0 512.6L622.8 512.0L620.0 510.4L616.0 508.4L615.1 508.0L612.0 506.1L609.3 504.0L608.0 502.4L606.4 500.0L604.2 496.0L604.0 495.7L602.0 492.0L600.0 488.6L599.7 488.0L597.2 484.0L596.0 482.4L594.1 480.0L592.0 477.8L590.3 476.0L588.0 473.3L587.3 472.0L586.1 468.0L586.0 464.0L586.7 460.0L587.5 456.0L588.0 453.1L588.2 452.0L589.3 448.0L590.9 444.0L592.0 441.5L592.8 440.0L594.7 436.0L596.0 432.7L596.4 432.0L598.5 428.0L600.0 425.9L601.7 424.0L604.0 420.7L604.5 420.0L605.7 416.0L605.0 412.0L604.0 409.7L603.4 408.0L600.9 404.0L600.0 402.6L598.1 400.0L596.3 396.0L596.0 395.0L594.9 392.0L593.4 388.0L592.3 384.0L592.0 382.8L590.9 380.0L589.2 376.0L588.2 372.0L589.1 368.0L589.5 364.0L589.5 360.0L589.3 356.0L588.7 352.0L588.0 349.0L587.8 348.0L586.3 344.0L584.3 340.0L584.0 339.4L581.8 336.0L580.0 332.9L579.2 332.0L576.4 328.0L576.0 327.4L573.1 324.0L572.0 322.4L569.4 320.0L568.0 319.0L565.7 320.0L564.0 321.1L560.0 323.0L556.0 322.1L552.0 320.8L548.3 320.0L548.0 319.9L544.0 319.5L540.0 319.2L536.0 318.8L532.0 317.8L528.6 316.0L528.0 315.7L524.0 313.0L521.6 312.0L520.0 311.4L516.0 310.0L512.0 308.4L511.3 308.0L508.0 305.7L506.4 304.0L504.3 300.0L504.4 296.0L507.1 292.0L508.0 291.0L512.0 289.3L516.0 290.4L520.0 290.8L524.0 289.1L525.8 288.0L528.0 285.8L530.1 284.0L531.3 280.0L528.5 276.0L528.0 275.7L524.0 274.2L520.0 273.7L516.0 273.2L514.7 272.0L512.7 268.0L512.0 264.0L512.0 264.0L511.6 260.0L510.8 256.0L508.9 252.0L508.0 251.1L505.7 248.0L504.0 246.9L500.0 244.4L498.7 244.0L496.0 243.6L494.1 244.0L492.0 244.7L488.0 247.3L486.9 248.0L484.0 250.1L480.0 252.0L480.0 252.0L476.0 253.7L472.0 255.9L471.9 256.0L470.6 260.0L469.5 264.0L468.0 267.6L467.8 268.0L465.5 272.0L464.0 275.3L463.6 276.0L462.3 280.0L461.0 284.0L460.0 286.6L458.7 288.0L456.0 289.7L452.0 290.5L448.1 292.0L448.0 292.0L444.0 295.2L442.5 296.0L440.0 298.3L436.0 297.8L432.0 297.7L428.0 299.8L427.8 300.0L425.8 304.0L424.7 308.0L424.0 310.0L423.0 312.0L420.0 315.3L418.6 316.0L416.0 317.3L412.0 318.0L408.0 319.2L407.0 320.0L404.0 323.7L403.9 324.0L403.0 328.0L401.6 332.0L400.0 334.8L399.0 336.0L396.0 338.6L392.0 339.6L388.0 339.4L384.0 339.0L380.0 338.6L376.0 338.8L372.5 340.0L372.0 340.1L368.0 342.2L365.2 344.0L364.0 344.9L360.6 348.0L360.0 348.8L357.8 352.0L356.0 355.0L355.5 356.0L353.6 360.0L352.0 363.9L352.0 364.0L351.0 368.0L349.8 372.0L348.6 376.0L348.0 378.6L347.7 380.0L347.2 384.0L346.7 388.0L346.1 392.0L345.5 396.0L344.9 400.0L344.5 404.0L344.4 408.0L344.6 412.0L345.0 416.0L345.9 420.0L347.3 424.0L348.0 425.4L349.6 428.0L352.0 431.3L352.6 432.0L355.7 436.0L356.0 436.5L357.9 440.0L358.8 444.0L358.3 448.0L356.8 452.0L356.0 453.5L354.6 456.0L352.0 459.7L351.8 460.0L348.0 463.8L347.8 464.0L344.0 466.9L342.5 468.0L340.0 469.5L336.7 472.0L336.0 472.5L332.0 476.0L332.0 476.0L328.0 480.0L328.0 480.0L324.5 484.0L324.0 484.6L321.3 488.0L320.0 489.4L317.5 492.0L316.0 493.4L312.8 496.0L312.0 496.6L308.0 499.5L307.4 500.0L304.0 502.4L301.7 504.0L300.0 505.1L296.0 507.2L293.3 508.0L292.0 508.5L288.0 509.4L284.0 509.3L280.0 508.3L276.0 508.0L272.0 509.1L268.0 510.1L264.0 509.9L260.0 508.4L259.4 508.0L256.0 505.5L254.7 504.0L252.0 500.9L251.3 500.0L248.5 496.0L248.0 495.3L245.8 492.0L244.0 489.0L243.4 488.0L241.5 484.0L240.4 480.0L240.0 477.4L239.8 476.0L239.4 472.0L239.0 468.0L238.8 464.0L238.9 460.0L239.3 456.0L240.0 452.0L240.0 452.0L241.0 448.0L242.5 444.0L244.0 440.5L244.2 440.0L245.9 436.0L248.0 432.1L248.0 432.0L250.5 428.0L252.0 424.9L252.4 424.0L254.3 420.0L256.0 416.1L256.1 416.0L258.3 412.0L260.0 408.9L260.4 408.0L262.1 404.0L263.9 400.0L264.0 399.9L266.4 396.0L268.0 394.2L269.9 392.0L272.0 389.3L273.0 388.0L274.0 384.0L272.3 380.0L272.0 379.7L268.5 376.0L268.0 375.5L264.0 372.2L263.7 372.0L260.0 368.7L259.1 368.0L256.0 365.8L253.6 364.0L252.0 363.0L248.0 360.4L247.5 360.0L244.0 357.5L242.4 356.0L240.0 354.1L236.8 352.0L236.0 351.4L232.0 348.9L230.1 348.0L228.0 346.9L224.7 344.0L224.0 343.2L222.4 340.0L220.0 336.4L219.7 336.0L216.0 332.6L214.9 332.0L212.0 329.3L210.8 328.0L208.4 324.0L208.0 322.8L206.9 320.0L206.2 316.0L205.0 312.0L204.0 308.9L203.6 308.0L201.3 304.0L200.0 300.6L199.6 300.0L197.6 296.0L196.0 294.2L194.1 292.0L192.0 288.6L191.7 288.0L190.2 284.0L188.0 280.0L188.0 280.0L185.4 276.0L184.0 273.7L183.1 272.0L182.2 268.0L180.5 264.0L180.0 263.0L178.3 260.0L176.0 256.3L175.8 256.0L174.8 252.0L172.0 248.1L171.9 248.0L172.0 244.0L172.0 244.0L176.0 242.5L180.0 240.8L182.2 240.0L184.0 239.5L188.0 238.9L192.0 238.2L196.0 237.0L198.1 236.0L200.0 235.2L204.0 233.9L208.0 232.7L209.8 232.0L212.0 231.2L216.0 229.3L218.4 228.0L220.0 226.9L223.1 224.0L224.0 223.3L228.0 220.1L228.1 220.0L232.0 217.7L236.0 216.2L236.8 216.0L240.0 215.3L244.0 214.3L248.0 212.5L249.2 212.0L252.0 210.4L256.0 209.9L260.0 210.3L264.0 210.7L268.0 210.8L272.0 210.5L276.0 209.9L280.0 209.6L284.0 211.6L284.4 212.0L288.0 215.7L288.3 216.0L292.0 218.9L296.0 219.5L300.0 216.7L300.5 216.0L302.9 212.0L304.0 210.0L305.3 208.0L308.0 204.5L308.7 204.0L311.6 200.0L310.5 196.0L309.0 192.0L308.0 188.5L307.9 188.0L306.9 184.0L305.7 180.0L304.1 176.0L304.0 175.8L302.6 172.0L301.4 168.0L300.7 164.0L300.5 160.0L300.2 156.0L300.0 154.1L299.6 152.0L298.5 148.0L297.6 144.0L296.8 140.0L296.0 137.3L295.3 136.0L292.7 132.0L292.0 130.9L290.3 128.0L289.0 124.0L288.0 121.7L287.1 120.0L285.3 116.0L284.7 112.0L284.0 109.3L283.3 108.0L281.3 104.0L280.8 100.0L280.4 96.0L280.2 92.0L280.0 88.9L279.9 88.0L278.8 84.0L277.3 80.0L276.7 76.0L276.0 72.0L276.0 72.0L272.8 68.0L272.0 66.7L268.0 66.9L264.0 65.4L263.4 64.0L262.6 60.0L260.0 57.4L259.0 56.0L257.7 52.0L256.5 48.0L256.0 47.1L254.7 44.0L253.4 40.0L252.9 36.0L252.6 32.0ZM276.0 243.7L275.8 244.0L274.5 248.0L275.3 252.0L276.0 253.3L277.8 256.0L280.0 258.8L281.3 260.0L284.0 261.4L288.0 261.1L289.8 260.0L292.0 256.8L292.4 256.0L292.2 252.0L292.0 251.3L290.1 248.0L288.0 245.6L285.4 244.0L284.0 243.1L280.0 242.3L276.0 243.7ZM634.3 164.0L636.0 163.1L640.0 162.0L644.0 162.2L644.0 164.0L644.0 168.0L644.0 172.0L644.0 176.0L644.0 179.8L640.0 178.7L636.0 176.6L635.3 176.0L632.5 172.0L632.1 168.0L634.3 164.0Z" fill="rgb(0,148,255)" fill-rule="evenodd"/>
<path d="M261.6 32.0L264.0 32.0L268.0 32.0L272.0 32.0L276.0 32.0L280.0 32.0L284.0 32.0L288.0 32.0L292.0 32.0L296.0 32.0L300.0 32.0L304.0 32.0L308.0 32.0L312.0 32.0L316.0 32.0L320.0 32.0L324.0 32.0L328.0 32.0L332.0 32.0L334.7 32.0L336.0 34.1L337.1 36.0L339.5 40.0L340.0 41.1L341.2 44.0L343.7 48.0L344.0 48.7L345.4 52.0L347.4 56.0L348.0 56.9L350.0 60.0L352.0 63.0L352.8 64.0L355.7 68.0L356.0 68.5L358.4 72.0L359.7 76.0L360.0 76.7L362.0 80.0L363.7 84.0L364.0 84.5L366.7 88.0L368.0 90.4L369.1 92.0L371.2 96.0L372.0 97.7L374.1 100.0L376.0 102.7L377.2 104.0L379.0 108.0L380.0 110.3L384.0 110.6L388.0 111.7L389.0 112.0L392.0 112.8L396.0 112.4L400.0 112.6L404.0 114.2L406.6 116.0L408.0 116.9L412.0 119.4L412.9 120.0L416.0 121.7L419.6 124.0L420.0 124.2L424.0 126.1L428.0 127.5L432.0 127.9L436.0 127.6L440.0 126.7L444.0 124.7L444.9 124.0L448.0 121.1L449.7 120.0L452.0 118.6L456.0 116.9L457.6 116.0L460.0 113.7L460.9 112.0L463.0 108.0L464.0 106.4L465.4 104.0L468.0 101.0L469.0 100.0L472.0 96.8L472.6 96.0L475.5 92.0L476.0 91.4L479.2 88.0L480.0 87.3L484.0 84.4L484.5 84.0L488.0 81.1L489.0 80.0L491.9 76.0L492.0 75.9L494.8 72.0L496.0 70.7L499.0 68.0L500.0 67.3L504.0 64.5L504.8 64.0L508.0 61.6L510.3 60.0L512.0 58.8L516.0 57.1L520.0 57.1L524.0 58.7L526.1 60.0L528.0 62.8L529.0 64.0L530.1 68.0L532.0 71.8L536.0 70.7L540.0 70.2L544.0 70.1L548.0 69.9L552.0 69.2L555.6 68.0L556.0 67.8L560.0 64.6L560.5 64.0L562.3 60.0L563.8 56.0L564.0 55.5L565.3 52.0L566.7 48.0L568.0 45.1L568.5 44.0L571.7 40.0L572.0 39.7L576.0 37.5L580.0 36.9L584.0 37.3L588.0 38.6L589.6 40.0L592.0 43.2L592.5 44.0L593.9 48.0L594.6 52.0L594.9 56.0L594.9 60.0L594.5 64.0L593.3 68.0L592.0 71.2L591.6 72.0L590.6 76.0L591.6 80.0L592.0 80.5L593.8 84.0L596.0 86.5L596.9 88.0L600.0 91.8L600.1 92.0L603.4 96.0L604.0 96.6L606.9 100.0L608.0 101.4L609.7 104.0L611.6 108.0L612.0 109.1L613.0 112.0L613.6 116.0L613.6 120.0L613.0 124.0L612.0 126.8L611.6 128.0L609.1 132.0L608.0 133.3L605.8 136.0L604.0 138.1L602.4 140.0L600.0 142.5L598.7 144.0L596.0 147.2L595.4 148.0L592.7 152.0L592.0 153.0L589.9 156.0L588.0 158.3L586.4 160.0L584.0 162.6L582.5 164.0L580.0 167.1L579.2 168.0L577.7 172.0L577.7 176.0L577.8 180.0L577.2 184.0L576.0 187.5L575.8 188.0L573.8 192.0L572.0 195.6L571.8 196.0L569.0 200.0L568.0 201.2L565.5 204.0L564.0 205.6L562.2 208.0L560.5 212.0L560.4 216.0L561.1 220.0L562.3 224.0L564.0 227.6L564.3 228.0L568.0 231.0L570.7 232.0L572.0 232.4L576.0 233.2L580.0 233.9L584.0 235.0L586.5 236.0L588.0 236.7L592.0 239.0L593.7 240.0L596.0 241.8L599.8 244.0L600.0 244.1L604.0 245.8L608.0 246.6L612.0 246.5L616.0 246.1L620.0 245.1L622.7 244.0L624.0 243.6L628.0 241.6L630.5 240.0L632.0 239.3L636.0 237.4L640.0 236.2L643.6 236.0L644.0 236.0L644.0 236.0L644.0 240.0L644.0 244.0L644.0 248.0L644.0 252.0L644.0 256.0L644.0 260.0L644.0 264.0L644.0 268.0L644.0 272.0L644.0 276.0L644.0 280.0L644.0 284.0L644.0 288.0L644.0 292.0L644.0 296.0L644.0 300.0L644.0 304.0L644.0 308.0L644.0 312.0L644.0 316.0L644.0 320.0L644.0 324.0L644.0 328.0L644.0 332.0L644.0 336.0L644.0 340.0L644.0 344.0L644.0 348.0L644.0 352.0L644.0 356.0L644.0 360.0L644.0 364.0L644.0 368.0L644.0 372.0L644.0 376.0L644.0 380.0L644.0 384.0L644.0 388.0L644.0 392.0L644.0 396.0L644.0 400.0L644.0 404.0L644.0 405.7L640.0 405.0L636.0 404.5L632.0 404.3L628.0 404.4L624.0 404.8L620.0 404.6L618.6 404.0L616.0 402.4L613.9 400.0L612.0 396.0L612.0 396.0L611.1 392.0L610.8 388.0L611.1 384.0L611.7 380.0L612.0 378.4L612.6 376.0L613.3 372.0L613.1 368.0L612.3 364.0L612.0 362.8L611.3 360.0L610.1 356.0L608.6 352.0L608.0 350.8L606.7 348.0L604.0 344.0L604.0 344.0L600.5 340.0L600.0 339.5L597.4 336.0L596.0 333.7L595.2 332.0L594.8 328.0L596.0 324.2L596.2 324.0L600.0 320.9L604.0 320.2L604.6 320.0L608.0 316.1L608.0 316.0L608.0 316.0L604.3 312.0L604.0 311.8L600.0 310.3L596.0 308.1L595.8 308.0L592.0 305.8L588.6 304.0L588.0 303.7L584.0 302.4L580.0 302.2L576.0 302.9L572.0 303.9L571.8 304.0L568.0 304.8L564.0 305.8L560.0 306.8L556.0 307.4L552.0 308.0L552.0 308.0L548.0 308.5L544.0 308.6L540.0 308.2L536.7 308.0L536.0 308.0L532.0 307.1L528.0 305.8L524.0 304.1L523.8 304.0L520.0 300.4L519.5 300.0L520.0 299.7L522.8 296.0L524.0 295.4L528.0 293.5L532.0 292.2L533.0 292.0L536.0 291.2L540.0 289.9L544.0 288.3L544.8 288.0L548.0 286.7L552.0 284.2L552.3 284.0L555.4 280.0L556.0 277.4L556.4 276.0L556.0 274.5L555.2 272.0L552.0 268.5L551.2 268.0L548.0 266.4L544.0 266.0L540.0 266.6L536.0 267.3L532.0 267.0L528.0 265.7L524.0 264.3L523.4 264.0L520.0 261.5L519.1 260.0L517.2 256.0L516.0 254.5L514.5 252.0L512.0 250.1L509.9 248.0L508.0 247.0L504.0 244.4L503.4 244.0L500.0 242.9L496.0 242.5L492.0 243.2L490.2 244.0L488.0 245.5L484.3 248.0L484.0 248.2L480.0 250.3L476.0 251.7L475.1 252.0L472.0 253.6L470.1 256.0L469.0 260.0L468.0 263.5L467.8 264.0L465.8 268.0L464.0 270.9L463.1 272.0L461.0 276.0L460.0 278.8L459.4 280.0L457.0 284.0L456.0 285.0L452.0 286.6L448.0 287.9L447.6 288.0L444.0 289.8L440.0 291.5L438.0 292.0L436.0 292.6L432.0 293.5L428.0 295.2L426.7 296.0L424.0 298.5L422.5 300.0L420.0 303.5L419.5 304.0L416.0 307.7L415.1 308.0L412.0 309.2L408.0 309.1L404.0 309.5L401.7 312.0L400.0 315.2L399.8 316.0L398.7 320.0L397.7 324.0L396.1 328.0L396.0 328.2L392.0 331.9L391.7 332.0L388.0 332.8L384.0 332.5L382.5 332.0L380.0 331.3L376.0 329.8L372.0 331.7L371.6 332.0L368.0 334.7L366.0 336.0L364.0 337.4L360.7 340.0L360.0 340.5L356.4 344.0L356.0 344.5L353.1 348.0L352.0 349.5L350.3 352.0L348.1 356.0L348.0 356.2L346.5 360.0L345.3 364.0L344.4 368.0L344.0 369.1L343.2 372.0L341.9 376.0L341.0 380.0L340.2 384.0L340.0 385.4L339.6 388.0L339.1 392.0L338.5 396.0L337.7 400.0L336.9 404.0L336.1 408.0L336.0 408.8L335.5 412.0L334.9 416.0L334.5 420.0L334.6 424.0L335.1 428.0L335.7 432.0L336.0 433.7L336.5 436.0L337.2 440.0L337.4 444.0L336.8 448.0L336.0 450.6L335.6 452.0L333.6 456.0L332.0 458.2L330.9 460.0L328.0 463.5L327.7 464.0L324.5 468.0L324.0 468.5L321.3 472.0L320.0 473.7L318.1 476.0L316.0 478.5L314.7 480.0L312.0 482.8L310.5 484.0L308.0 486.1L305.3 488.0L304.0 489.0L300.0 491.8L299.6 492.0L296.0 493.7L292.0 494.1L288.0 493.3L284.0 492.1L283.7 492.0L280.0 490.8L276.0 490.2L272.0 490.3L268.0 490.2L264.0 488.6L263.4 488.0L260.0 484.9L259.3 484.0L256.0 480.0L256.0 480.0L253.4 476.0L252.0 473.1L251.5 472.0L250.2 468.0L249.3 464.0L249.2 460.0L249.8 456.0L250.8 452.0L252.0 448.0L252.0 447.9L253.5 444.0L255.1 440.0L256.0 437.9L257.0 436.0L260.0 432.1L260.1 432.0L264.0 428.2L264.3 428.0L268.0 424.9L269.7 424.0L272.0 421.5L272.9 420.0L272.0 418.9L269.7 416.0L268.0 414.0L267.2 412.0L266.3 408.0L266.5 404.0L267.8 400.0L268.0 399.6L270.4 396.0L272.0 394.2L273.7 392.0L276.0 388.9L276.8 388.0L278.0 384.0L276.7 380.0L276.0 379.0L273.6 376.0L272.0 374.2L269.7 372.0L268.0 370.3L265.4 368.0L264.0 366.8L260.4 364.0L260.0 363.8L256.0 361.4L253.9 360.0L252.0 358.8L248.0 356.6L247.2 356.0L244.0 353.3L242.3 352.0L240.0 350.2L237.0 348.0L236.0 347.1L232.0 344.4L231.0 344.0L228.0 342.0L226.3 340.0L224.0 336.7L223.7 336.0L220.2 332.0L220.0 331.8L216.0 328.0L216.0 328.0L213.1 324.0L212.0 321.7L211.3 320.0L210.3 316.0L208.9 312.0L208.0 310.2L206.9 308.0L204.6 304.0L204.0 302.7L202.3 300.0L201.1 296.0L200.0 293.7L198.4 292.0L196.0 290.1L194.3 288.0L192.9 284.0L192.0 282.2L190.7 280.0L188.1 276.0L188.0 275.8L186.2 272.0L185.2 268.0L184.7 264.0L188.0 260.1L188.3 260.0L192.0 257.7L194.5 256.0L196.0 254.1L197.9 252.0L199.7 248.0L200.0 247.8L204.0 244.7L204.9 244.0L208.0 242.3L211.8 240.0L212.0 239.9L216.0 237.6L218.4 236.0L220.0 235.1L224.0 232.2L224.2 232.0L227.1 228.0L228.0 226.9L229.8 224.0L232.0 222.0L234.3 220.0L236.0 219.1L240.0 217.6L244.0 216.6L245.7 216.0L248.0 215.1L252.0 213.5L256.0 212.8L260.0 212.9L264.0 212.9L268.0 212.8L272.0 212.5L276.0 212.2L280.0 212.6L284.0 215.2L284.8 216.0L288.0 219.3L289.0 220.0L292.0 222.5L296.0 222.9L300.0 220.8L300.7 220.0L303.6 216.0L304.0 215.3L305.7 212.0L308.0 208.8L308.9 208.0L312.0 205.5L314.9 204.0L316.0 202.4L317.3 200.0L316.0 197.1L315.5 196.0L313.1 192.0L312.0 189.1L311.6 188.0L310.8 184.0L310.0 180.0L308.8 176.0L308.0 173.7L307.3 172.0L305.8 168.0L305.3 164.0L305.2 160.0L305.4 156.0L305.5 152.0L305.2 148.0L304.4 144.0L304.0 141.7L303.7 140.0L302.4 136.0L301.0 132.0L300.0 129.9L298.7 128.0L296.0 124.0L296.0 124.0L294.1 120.0L292.0 118.4L290.4 116.0L289.4 112.0L288.5 108.0L288.0 107.4L286.1 104.0L285.1 100.0L284.6 96.0L284.0 92.8L283.8 92.0L283.4 88.0L282.9 84.0L281.6 80.0L280.3 76.0L280.0 74.6L279.4 72.0L277.6 68.0L276.0 65.5L275.1 64.0L272.1 60.0L272.0 59.6L271.2 56.0L270.5 52.0L268.0 48.4L267.5 48.0L265.0 44.0L264.0 42.2L262.7 40.0L261.9 36.0L261.6 32.0ZM276.0 237.8L272.9 240.0L272.0 241.2L271.0 244.0L270.8 248.0L271.9 252.0L272.0 252.2L274.4 256.0L276.0 258.3L277.4 260.0L280.0 262.5L283.0 264.0L284.0 264.4L288.0 264.1L288.2 264.0L292.0 261.6L293.8 260.0L295.8 256.0L295.8 252.0L294.8 248.0L292.7 244.0L292.0 243.0L288.9 240.0L288.0 239.3L284.0 237.0L280.0 236.5L276.0 237.8Z" fill="rgb(0,165,255)" fill-rule="evenodd"/>
<path d="M266.7 32.0L268.0 32.0L272.0 32.0L276.0 32.0L280.0 32.0L284.0 32.0L288.0 32.0L292.0 32.0L296.0 32.0L300.0 32.0L304.0 32.0L308.0 32.0L312.0 32.0L316.0 32.0L320.0 32.0L324.0 32.0L328.0 32.0L332.0 32.0L332.5 32.0L334.8 36.0L336.0 37.9L337.2 40.0L339.1 44.0L340.0 45.4L341.6 48.0L343.5 52.0L344.0 53.2L345.3 56.0L347.7 60.0L348.0 60.5L350.3 64.0L352.0 66.5L353.1 68.0L355.8 72.0L356.0 72.4L357.7 76.0L359.5 80.0L360.0 81.2L361.4 84.0L364.0 87.9L364.1 88.0L366.4 92.0L368.0 95.5L368.3 96.0L369.6 100.0L371.7 104.0L371.8 108.0L372.0 109.3L372.5 112.0L374.9 116.0L376.0 117.9L377.8 120.0L380.0 123.0L381.4 124.0L383.5 128.0L384.0 128.8L388.0 128.8L388.3 128.0L388.5 124.0L392.0 120.9L396.0 120.2L400.0 121.8L404.0 123.8L404.7 124.0L408.0 124.7L412.0 126.1L416.0 127.5L417.4 128.0L420.0 128.7L424.0 130.1L428.0 131.8L429.5 132.0L432.0 132.3L436.0 132.2L440.0 132.1L440.6 132.0L444.0 131.0L447.3 128.0L448.0 127.4L451.9 124.0L452.0 123.9L456.0 121.7L459.4 120.0L460.0 119.6L463.0 116.0L464.0 114.3L464.9 112.0L466.8 108.0L468.0 106.2L469.5 104.0L472.0 101.4L473.3 100.0L476.0 96.7L476.5 96.0L479.6 92.0L480.0 91.6L484.0 88.0L484.0 88.0L488.0 84.8L488.9 84.0L492.0 80.6L492.6 80.0L495.6 76.0L496.0 75.5L499.4 72.0L500.0 71.5L504.0 68.5L504.8 68.0L508.0 65.9L511.1 64.0L512.0 63.4L516.0 62.3L519.6 64.0L520.0 64.7L521.0 68.0L521.6 72.0L522.9 76.0L524.0 77.4L527.9 80.0L528.0 80.1L532.0 80.9L536.0 81.9L539.6 84.0L540.0 84.3L543.9 88.0L544.0 88.2L548.0 90.7L551.2 92.0L552.0 92.3L556.0 93.4L560.0 94.6L563.8 96.0L564.0 96.1L568.0 97.4L572.0 98.7L576.0 99.8L576.7 100.0L580.0 100.8L584.0 102.0L588.0 103.4L589.1 104.0L592.0 106.0L594.1 108.0L596.0 110.3L597.2 112.0L599.3 116.0L600.0 118.4L600.4 120.0L600.5 124.0L600.0 125.2L599.0 128.0L596.5 132.0L596.0 132.7L593.9 136.0L592.0 138.6L591.2 140.0L588.7 144.0L588.0 145.2L586.5 148.0L584.0 151.8L583.9 152.0L580.0 156.0L580.0 156.0L576.0 158.9L573.9 160.0L572.0 161.1L568.0 162.9L566.2 164.0L564.0 165.9L562.6 168.0L562.6 172.0L564.0 174.6L565.1 176.0L567.6 180.0L567.3 184.0L565.2 188.0L564.0 189.7L562.5 192.0L560.0 195.4L559.6 196.0L557.2 200.0L556.0 201.9L555.0 204.0L553.2 208.0L552.0 211.4L551.8 212.0L550.9 216.0L549.9 220.0L548.5 224.0L548.0 225.1L546.8 228.0L544.5 232.0L544.0 232.6L541.6 236.0L540.0 238.0L538.5 240.0L536.0 243.2L535.2 244.0L532.0 247.0L530.0 248.0L528.0 249.2L524.0 249.6L520.0 248.9L517.6 248.0L516.0 247.7L512.0 246.2L508.0 244.3L507.6 244.0L504.0 242.6L500.0 241.6L496.0 241.3L492.0 241.9L488.0 243.8L487.6 244.0L484.0 246.6L481.2 248.0L480.0 248.6L476.0 250.0L472.0 251.4L471.2 252.0L468.2 256.0L468.0 257.0L467.5 260.0L466.2 264.0L464.0 267.6L463.6 268.0L460.4 272.0L460.0 272.7L457.9 276.0L456.0 279.9L455.9 280.0L452.0 282.8L448.8 284.0L448.0 284.3L444.0 285.7L440.0 287.2L437.8 288.0L436.0 288.6L432.0 289.9L428.0 291.6L427.2 292.0L424.0 294.0L421.3 296.0L420.0 297.3L416.6 300.0L416.0 300.6L412.0 302.7L408.0 303.0L404.0 302.6L400.0 302.7L397.7 304.0L396.1 308.0L396.1 312.0L396.0 312.7L395.8 316.0L395.0 320.0L393.5 324.0L392.0 326.2L388.8 328.0L388.0 328.3L384.0 328.4L383.1 328.0L380.0 327.0L376.0 325.1L372.0 326.3L369.7 328.0L368.0 329.4L364.0 331.9L363.8 332.0L360.0 334.5L358.1 336.0L356.0 338.0L354.2 340.0L352.0 342.4L350.6 344.0L348.0 347.2L347.4 348.0L344.7 352.0L344.0 353.3L342.7 356.0L341.2 360.0L340.0 363.9L340.0 364.0L338.9 368.0L337.7 372.0L336.4 376.0L336.0 377.3L335.3 380.0L334.5 384.0L334.0 388.0L333.5 392.0L332.7 396.0L332.0 398.5L331.6 400.0L330.3 404.0L329.1 408.0L328.0 411.6L327.9 412.0L326.8 416.0L325.9 420.0L325.5 424.0L325.1 428.0L324.7 432.0L324.1 436.0L324.0 437.0L323.7 440.0L323.3 444.0L322.4 448.0L321.0 452.0L320.0 454.0L319.1 456.0L316.7 460.0L316.0 460.9L313.7 464.0L312.0 466.1L310.4 468.0L308.0 470.6L306.5 472.0L304.0 474.0L300.7 476.0L300.0 476.4L296.0 477.5L292.0 477.3L288.0 476.1L287.9 476.0L284.0 473.8L281.5 472.0L280.0 471.0L276.0 469.3L272.0 469.6L268.0 470.5L264.0 468.6L263.5 468.0L262.1 464.0L261.6 460.0L262.0 456.0L262.8 452.0L264.0 448.2L264.1 448.0L265.6 444.0L268.0 440.0L268.0 440.0L271.7 436.0L272.0 435.7L276.0 432.3L276.3 432.0L280.0 428.4L280.3 428.0L282.6 424.0L283.1 420.0L281.9 416.0L280.0 413.4L278.7 412.0L276.0 409.2L274.9 408.0L273.0 404.0L273.3 400.0L275.0 396.0L276.0 394.7L278.6 392.0L280.0 390.4L281.7 388.0L281.9 384.0L280.4 380.0L280.0 379.3L277.8 376.0L276.0 373.7L274.5 372.0L272.0 369.0L271.0 368.0L268.0 365.1L266.7 364.0L264.0 362.1L260.4 360.0L260.0 359.7L256.0 357.3L253.8 356.0L252.0 354.9L248.0 352.0L247.9 352.0L244.0 348.7L243.1 348.0L240.0 345.1L238.8 344.0L236.0 341.4L234.1 340.0L232.0 338.4L229.7 336.0L228.0 334.1L226.2 332.0L224.0 329.9L221.8 328.0L220.0 326.5L217.9 324.0L216.0 321.3L215.2 320.0L213.3 316.0L212.1 312.0L212.0 311.9L209.4 308.0L208.0 306.1L206.6 304.0L204.5 300.0L204.0 298.0L203.3 296.0L201.5 292.0L200.0 290.1L197.3 288.0L196.0 286.0L195.3 284.0L194.0 280.0L192.3 276.0L192.4 272.0L196.0 268.6L196.7 268.0L200.0 265.4L201.7 264.0L204.0 262.2L206.5 260.0L208.0 258.8L211.0 256.0L212.0 255.0L214.2 252.0L216.0 249.4L216.9 248.0L220.0 244.4L220.2 244.0L224.0 240.0L224.0 240.0L228.0 236.0L228.0 236.0L230.1 232.0L232.0 228.0L232.0 228.0L234.4 224.0L236.0 222.6L239.8 220.0L240.0 219.9L244.0 218.7L248.0 217.4L252.0 216.2L253.2 216.0L256.0 215.6L260.0 215.5L264.0 215.3L268.0 214.9L272.0 214.6L276.0 214.6L280.0 215.8L280.3 216.0L284.0 219.2L284.8 220.0L288.0 224.0L288.0 224.1L292.0 228.0L296.0 227.5L300.0 225.0L300.9 224.0L304.0 220.5L304.3 220.0L306.3 216.0L308.0 212.9L308.5 212.0L312.0 208.6L312.9 208.0L316.0 206.1L319.2 204.0L320.0 202.6L321.8 200.0L320.0 197.1L319.5 196.0L316.8 192.0L316.0 190.2L315.1 188.0L314.2 184.0L313.5 180.0L312.4 176.0L312.0 174.6L311.2 172.0L309.7 168.0L308.9 164.0L309.0 160.0L309.9 156.0L310.4 152.0L310.4 148.0L310.1 144.0L309.8 140.0L309.0 136.0L308.0 132.0L308.7 128.0L309.8 124.0L310.4 120.0L310.9 116.0L311.1 112.0L309.8 108.0L308.0 104.0L307.9 104.0L304.0 103.2L301.8 100.0L300.0 96.9L297.1 96.0L296.0 95.8L295.9 96.0L294.2 100.0L292.0 102.6L288.2 100.0L288.0 99.7L287.5 96.0L286.9 92.0L286.7 88.0L286.4 84.0L285.4 80.0L284.0 77.4L283.4 76.0L282.6 72.0L281.8 68.0L280.3 64.0L280.0 63.6L277.3 60.0L276.0 57.2L275.6 56.0L274.5 52.0L272.5 48.0L272.0 46.9L270.5 44.0L269.4 40.0L268.1 36.0L268.0 35.6L266.7 32.0ZM284.0 231.7L281.6 232.0L280.0 232.1L276.0 233.5L272.0 235.6L271.6 236.0L268.6 240.0L268.0 242.8L267.8 244.0L268.0 246.6L268.1 248.0L269.4 252.0L271.6 256.0L272.0 256.7L274.3 260.0L276.0 262.2L277.9 264.0L280.0 265.5L284.0 266.7L288.0 266.3L292.0 264.5L292.7 264.0L296.0 260.9L296.8 260.0L298.4 256.0L298.6 252.0L298.3 248.0L297.6 244.0L296.1 240.0L296.0 239.8L293.3 236.0L292.0 234.5L288.0 232.6L285.5 232.0L284.0 231.7Z" fill="rgb(0,182,255)" fill-rule="evenodd"/>
<path d="M270.8 32.0L272.0 32.0L276.0 32.0L280.0 32.0L284.0 32.0L288.0 32.0L292.0 32.0L296.0 32.0L300.0 32.0L304.0 32.0L308.0 32.0L312.0 32.0L316.0 32.0L320.0 32.0L324.0 32.0L328.0 32.0L330.1 32.0L332.0 35.6L332.2 36.0L334.9 40.0L336.0 42.3L336.8 44.0L339.4 48.0L340.0 49.2L341.4 52.0L343.1 56.0L344.0 57.4L345.6 60.0L347.9 64.0L348.0 64.1L350.6 68.0L352.0 69.6L353.8 72.0L355.7 76.0L356.0 76.7L357.6 80.0L359.0 84.0L360.0 85.8L361.3 88.0L364.0 91.7L364.2 92.0L365.5 96.0L365.7 100.0L366.9 104.0L367.9 108.0L368.0 108.2L369.0 112.0L371.3 116.0L372.0 116.9L373.9 120.0L376.0 123.1L376.7 124.0L379.2 128.0L380.0 129.0L382.2 132.0L384.0 134.5L386.2 136.0L388.0 136.9L392.0 137.2L395.0 136.0L396.0 135.0L400.0 134.5L404.0 134.1L408.0 132.2L412.0 132.3L416.0 132.7L420.0 133.1L424.0 134.5L428.0 136.0L428.0 136.0L428.1 136.0L432.0 135.8L436.0 135.2L440.0 135.3L444.0 135.2L448.0 132.3L448.3 132.0L451.9 128.0L452.0 127.9L456.0 125.0L457.6 124.0L460.0 122.5L463.2 120.0L464.0 119.1L466.0 116.0L467.9 112.0L468.0 111.8L469.8 108.0L472.0 105.2L472.8 104.0L476.0 100.5L476.4 100.0L479.6 96.0L480.0 95.5L483.3 92.0L484.0 91.4L487.8 88.0L488.0 87.9L492.0 84.1L492.1 84.0L495.7 80.0L496.0 79.6L499.5 76.0L500.0 75.5L504.0 72.4L504.9 72.0L508.0 70.3L512.0 69.3L516.0 71.3L516.4 72.0L518.7 76.0L520.0 77.8L521.7 80.0L524.0 82.5L526.6 84.0L528.0 85.1L532.0 86.6L534.5 88.0L536.0 89.6L537.9 92.0L540.0 94.9L541.1 96.0L544.0 98.5L546.0 100.0L548.0 101.5L552.0 103.6L552.9 104.0L556.0 105.3L560.0 107.0L562.2 108.0L564.0 109.0L568.0 111.0L571.8 112.0L572.0 112.1L576.0 112.9L580.0 114.2L583.5 116.0L584.0 116.5L586.3 120.0L586.4 124.0L585.3 128.0L584.0 131.3L583.7 132.0L581.9 136.0L580.8 140.0L580.0 143.1L579.8 144.0L577.9 148.0L576.0 150.0L572.7 152.0L572.0 152.4L568.0 153.7L564.0 155.6L563.4 156.0L560.0 158.4L558.5 160.0L556.0 163.5L555.7 164.0L554.2 168.0L553.9 172.0L554.3 176.0L554.9 180.0L554.4 184.0L553.1 188.0L552.0 190.9L551.7 192.0L550.2 196.0L548.8 200.0L548.0 202.2L547.4 204.0L546.1 208.0L545.0 212.0L544.0 215.0L543.6 216.0L541.9 220.0L540.1 224.0L540.0 224.2L538.7 228.0L536.7 232.0L536.0 232.9L533.7 236.0L532.0 237.7L528.9 240.0L528.0 240.6L524.0 242.7L520.0 243.8L516.0 243.9L512.0 243.3L508.0 242.2L504.0 241.0L500.0 240.3L496.0 240.1L492.0 240.7L488.0 242.4L485.5 244.0L484.0 245.1L480.0 247.1L477.1 248.0L476.0 248.4L472.0 249.7L468.7 252.0L468.0 252.9L466.8 256.0L466.1 260.0L464.5 264.0L464.0 264.8L460.7 268.0L460.0 268.8L456.6 272.0L456.0 273.0L453.7 276.0L452.0 278.0L449.0 280.0L448.0 280.4L444.0 281.9L440.0 283.4L438.4 284.0L436.0 284.9L432.0 286.4L428.2 288.0L428.0 288.1L424.0 290.1L421.0 292.0L420.0 292.7L416.0 295.5L414.9 296.0L412.0 297.5L408.0 298.2L404.0 297.9L400.0 297.7L396.0 298.6L394.3 300.0L392.1 304.0L392.0 305.3L391.8 308.0L392.0 309.2L392.4 312.0L392.7 316.0L392.0 319.4L391.9 320.0L389.1 324.0L388.0 324.8L384.0 325.6L380.0 324.2L379.7 324.0L376.0 322.4L372.0 323.0L370.5 324.0L368.0 325.9L364.5 328.0L364.0 328.3L360.0 330.3L356.9 332.0L356.0 332.7L352.8 336.0L352.0 336.9L349.4 340.0L348.0 341.6L346.0 344.0L344.0 346.4L342.7 348.0L340.2 352.0L340.0 352.3L338.2 356.0L336.7 360.0L336.0 362.0L335.4 364.0L334.4 368.0L333.0 372.0L332.0 374.7L331.5 376.0L330.3 380.0L329.6 384.0L329.2 388.0L328.6 392.0L328.0 394.3L327.5 396.0L326.0 400.0L324.2 404.0L324.0 404.5L322.3 408.0L320.4 412.0L320.0 412.9L318.4 416.0L316.9 420.0L316.0 422.9L315.6 424.0L314.3 428.0L313.1 432.0L312.2 436.0L312.0 437.6L311.8 440.0L311.6 444.0L310.7 448.0L309.0 452.0L308.0 453.8L306.5 456.0L304.0 458.8L302.5 460.0L300.0 461.9L296.0 463.4L292.0 463.2L288.0 461.7L284.8 460.0L284.0 459.5L280.0 456.6L279.3 456.0L276.0 452.1L276.0 452.0L275.3 448.0L276.0 445.7L276.7 444.0L280.0 440.3L280.3 440.0L284.0 436.4L284.4 436.0L288.0 432.0L288.0 432.0L291.2 428.0L292.0 425.2L292.4 424.0L292.4 420.0L292.0 418.5L291.4 416.0L289.5 412.0L288.0 409.1L287.3 408.0L285.3 404.0L284.7 400.0L286.1 396.0L287.4 392.0L286.7 388.0L285.5 384.0L284.0 380.8L283.6 380.0L281.2 376.0L280.0 374.1L278.5 372.0L276.0 368.6L275.5 368.0L272.1 364.0L272.0 363.9L268.0 360.5L267.3 360.0L264.0 357.5L261.7 356.0L260.0 354.8L256.0 352.5L255.2 352.0L252.0 349.6L250.1 348.0L248.0 346.0L245.6 344.0L244.0 341.7L242.8 340.0L240.0 338.2L236.0 336.0L236.0 336.0L232.0 333.2L230.9 332.0L228.0 329.3L226.7 328.0L224.0 326.0L221.7 324.0L220.0 322.5L217.9 320.0L216.0 316.3L215.9 316.0L214.3 312.0L212.0 308.5L211.7 308.0L208.6 304.0L208.0 303.2L206.0 300.0L205.0 296.0L204.0 292.3L203.9 292.0L201.9 288.0L200.0 284.9L199.5 284.0L200.0 281.0L200.6 280.0L204.0 277.2L205.3 276.0L208.0 273.6L209.2 272.0L212.0 268.8L212.7 268.0L216.0 264.6L216.6 264.0L220.0 260.3L220.2 260.0L223.0 256.0L224.0 253.7L224.6 252.0L225.4 248.0L226.6 244.0L228.0 241.9L228.8 240.0L231.7 236.0L232.0 235.4L233.7 232.0L235.6 228.0L236.0 227.4L238.6 224.0L240.0 223.0L244.0 221.0L246.7 220.0L248.0 219.6L252.0 218.7L256.0 218.4L260.0 218.4L264.0 218.3L268.0 217.6L272.0 217.0L276.0 217.7L280.0 220.0L280.0 220.0L281.8 224.0L280.0 226.6L278.7 228.0L276.0 229.3L272.0 231.4L271.1 232.0L268.0 234.4L266.8 236.0L265.2 240.0L264.9 244.0L265.5 248.0L266.9 252.0L268.0 253.9L269.1 256.0L271.5 260.0L272.0 260.9L274.3 264.0L276.0 265.8L279.4 268.0L280.0 268.3L284.0 269.1L288.0 268.6L289.4 268.0L292.0 266.9L295.9 264.0L296.0 263.9L299.3 260.0L300.0 258.3L300.7 256.0L301.0 252.0L301.4 248.0L302.1 244.0L302.1 240.0L302.2 236.0L301.9 232.0L302.5 228.0L304.0 226.2L305.2 224.0L307.3 220.0L308.0 218.5L309.0 216.0L311.4 212.0L312.0 211.4L316.0 208.7L317.1 208.0L320.0 206.1L323.6 204.0L324.0 203.5L328.0 200.7L329.2 200.0L328.0 199.1L324.0 196.2L323.9 196.0L320.3 192.0L320.0 191.3L318.6 188.0L318.0 184.0L317.7 180.0L317.2 176.0L316.5 172.0L316.0 170.6L315.2 168.0L314.0 164.0L315.2 160.0L316.0 159.0L320.0 158.7L323.4 156.0L324.0 155.0L324.7 152.0L325.1 148.0L324.9 144.0L324.8 140.0L325.3 136.0L326.0 132.0L326.3 128.0L326.6 124.0L326.8 120.0L326.4 116.0L325.6 112.0L324.7 108.0L324.0 106.3L322.4 104.0L321.3 100.0L320.0 96.5L319.1 96.0L316.0 93.7L315.1 92.0L312.0 88.8L311.4 88.0L308.9 84.0L308.0 82.8L306.4 80.0L305.0 76.0L304.0 74.3L302.3 72.0L300.6 68.0L300.0 67.1L296.0 65.3L294.0 68.0L293.3 72.0L292.6 76.0L292.0 77.5L289.4 76.0L288.0 74.9L287.3 72.0L286.4 68.0L285.0 64.0L284.0 62.0L282.9 60.0L280.8 56.0L280.0 53.8L279.4 52.0L277.1 48.0L276.0 46.6L274.6 44.0L273.8 40.0L272.9 36.0L272.0 34.3L270.8 32.0ZM472.0 178.4L470.4 180.0L470.7 184.0L472.0 186.1L476.0 187.6L477.3 184.0L476.9 180.0L476.0 179.0L472.0 178.4ZM319.4 140.0L320.0 138.7L320.4 140.0L320.0 140.7L319.4 140.0Z" fill="rgb(0,199,255)" fill-rule="evenodd"/>
<path d="M280.0 36.0L280.0 35.8L281.7 32.0L284.0 32.0L288.0 32.0L292.0 32.0L296.0 32.0L300.0 32.0L304.0 32.0L308.0 32.0L312.0 32.0L316.0 32.0L320.0 32.0L324.0 32.0L327.6 32.0L328.0 32.7L329.7 36.0L332.0 39.2L332.6 40.0L334.4 44.0L336.0 46.4L337.0 48.0L339.1 52.0L340.0 54.0L340.8 56.0L343.4 60.0L344.0 60.8L345.9 64.0L348.0 67.6L348.3 68.0L351.7 72.0L352.0 72.4L353.9 76.0L355.6 80.0L356.0 81.9L356.5 84.0L357.6 88.0L358.9 92.0L360.0 96.0L360.0 96.1L361.7 100.0L362.8 104.0L363.9 108.0L364.0 108.2L365.8 112.0L367.5 116.0L368.0 116.5L370.6 120.0L372.0 122.1L373.3 124.0L376.0 127.8L376.1 128.0L379.0 132.0L380.0 133.3L381.7 136.0L384.0 138.3L387.7 140.0L388.0 140.2L392.0 141.7L396.0 141.6L400.0 142.5L404.0 144.0L404.0 144.0L404.5 144.0L408.0 143.8L412.0 142.6L416.0 142.6L420.0 143.0L424.0 142.6L428.0 141.3L429.4 140.0L432.0 138.9L436.0 137.5L440.0 137.3L444.0 137.4L447.7 136.0L448.0 135.7L451.6 132.0L452.0 131.6L456.0 128.0L456.0 128.0L460.0 125.2L461.4 124.0L464.0 121.9L465.8 120.0L468.0 116.8L468.5 116.0L470.4 112.0L472.0 109.1L472.5 108.0L475.5 104.0L476.0 103.4L478.9 100.0L480.0 98.7L482.6 96.0L484.0 94.5L486.7 92.0L488.0 90.9L491.0 88.0L492.0 87.1L495.2 84.0L496.0 83.1L499.2 80.0L500.0 79.2L504.0 76.1L504.3 76.0L508.0 74.3L512.0 74.4L514.1 76.0L516.0 77.6L517.8 80.0L520.0 83.0L520.9 84.0L523.8 88.0L524.0 88.7L526.1 92.0L527.2 96.0L528.0 97.6L530.1 100.0L532.0 101.9L534.6 104.0L536.0 105.2L540.0 108.0L540.0 108.0L544.0 110.1L547.3 112.0L548.0 112.5L552.0 115.4L552.9 116.0L556.0 119.6L556.3 120.0L557.7 124.0L557.8 128.0L557.0 132.0L557.4 136.0L557.0 140.0L556.0 142.7L555.6 144.0L553.6 148.0L552.0 150.3L550.9 152.0L548.5 156.0L548.0 157.5L547.4 160.0L546.7 164.0L546.1 168.0L545.4 172.0L544.7 176.0L544.0 180.0L544.0 180.5L543.8 184.0L543.5 188.0L543.0 192.0L542.0 196.0L541.1 200.0L540.5 204.0L540.0 206.8L539.8 208.0L538.6 212.0L536.9 216.0L536.0 218.2L535.3 220.0L534.4 224.0L533.1 228.0L532.0 229.8L530.6 232.0L528.0 234.7L526.6 236.0L524.0 237.8L520.0 239.9L519.6 240.0L516.0 241.0L512.0 241.0L508.0 240.3L506.8 240.0L504.0 239.5L500.0 239.0L496.0 238.9L492.0 239.4L490.5 240.0L488.0 241.0L484.0 243.5L483.1 244.0L480.0 245.6L476.0 246.8L472.2 248.0L472.0 248.1L468.0 250.5L466.8 252.0L465.5 256.0L464.7 260.0L464.0 261.7L461.9 264.0L460.0 265.8L456.0 267.9L455.9 268.0L452.0 271.4L451.4 272.0L448.0 275.5L447.2 276.0L444.0 277.7L440.0 279.3L438.5 280.0L436.0 281.0L432.0 282.7L429.2 284.0L428.0 284.5L424.0 286.4L420.9 288.0L420.0 288.6L416.0 291.1L414.1 292.0L412.0 293.1L408.0 294.0L404.0 294.1L400.0 294.1L396.0 294.9L394.1 296.0L392.0 297.8L390.1 300.0L388.1 304.0L388.0 306.3L387.9 308.0L388.0 308.2L389.1 312.0L389.7 316.0L388.8 320.0L388.0 321.0L384.0 323.0L380.0 321.9L376.0 320.3L372.0 320.6L368.0 323.1L366.7 324.0L364.0 325.8L360.0 327.3L357.6 328.0L356.0 328.8L352.3 332.0L352.0 332.4L348.7 336.0L348.0 336.9L345.2 340.0L344.0 341.4L341.8 344.0L340.0 346.2L338.6 348.0L336.1 352.0L336.0 352.2L334.2 356.0L332.7 360.0L332.0 362.4L331.6 364.0L330.4 368.0L328.7 372.0L328.0 373.6L327.0 376.0L325.9 380.0L325.4 384.0L325.0 388.0L324.1 392.0L324.0 392.4L322.7 396.0L320.7 400.0L320.0 401.2L317.9 404.0L316.0 406.6L314.3 408.0L312.0 410.2L308.0 411.9L304.0 411.7L300.0 409.2L298.9 408.0L296.0 404.5L295.7 404.0L294.0 400.0L293.2 396.0L292.4 392.0L292.0 391.0L290.8 388.0L288.8 384.0L288.0 382.5L286.7 380.0L284.4 376.0L284.0 375.4L281.9 372.0L280.0 369.0L279.3 368.0L276.4 364.0L276.0 363.5L272.6 360.0L272.0 359.4L268.3 356.0L268.0 355.7L264.0 352.4L263.4 352.0L260.0 349.5L257.9 348.0L256.0 346.1L253.9 344.0L252.0 340.3L251.8 340.0L248.0 338.3L244.4 336.0L244.0 335.8L240.0 333.8L236.1 332.0L236.0 332.0L232.0 329.7L230.2 328.0L228.0 326.4L225.0 324.0L224.0 323.3L220.4 320.0L220.0 319.6L217.6 316.0L216.4 312.0L216.0 311.3L213.8 308.0L212.0 306.0L210.4 304.0L208.0 300.7L207.6 300.0L206.6 296.0L206.2 292.0L207.5 288.0L208.0 287.3L212.0 284.3L212.5 284.0L216.0 280.9L217.4 280.0L220.0 276.7L220.6 276.0L222.6 272.0L224.0 270.2L225.8 268.0L228.0 265.6L229.2 264.0L232.0 260.3L232.2 260.0L233.4 256.0L232.6 252.0L232.0 250.7L231.0 248.0L230.7 244.0L232.0 240.3L232.1 240.0L234.6 236.0L236.0 233.4L237.0 232.0L239.3 228.0L240.0 227.1L243.4 224.0L244.0 223.7L248.0 222.2L252.0 221.3L256.0 221.4L260.0 222.1L264.0 222.6L268.0 222.0L272.0 221.5L273.6 224.0L272.0 225.3L268.2 228.0L268.0 228.1L264.6 232.0L264.0 232.9L262.6 236.0L261.8 240.0L261.8 244.0L262.7 248.0L264.0 250.9L264.4 252.0L266.6 256.0L268.0 258.4L268.9 260.0L271.1 264.0L272.0 265.5L274.2 268.0L276.0 269.5L280.0 271.2L284.0 271.5L288.0 270.9L292.0 269.2L293.7 268.0L296.0 266.4L298.5 264.0L300.0 262.3L301.4 260.0L302.5 256.0L303.0 252.0L304.0 248.5L304.2 248.0L307.1 244.0L308.0 242.1L309.7 240.0L309.2 236.0L308.1 232.0L308.0 231.0L307.7 228.0L308.0 227.3L309.0 224.0L310.4 220.0L311.8 216.0L312.0 215.7L314.7 212.0L316.0 211.1L320.0 208.6L321.0 208.0L324.0 206.3L328.0 204.8L330.7 204.0L332.0 203.2L336.0 201.7L340.0 200.9L342.3 200.0L344.0 196.8L344.2 196.0L344.0 195.6L340.0 192.6L336.0 193.1L332.0 194.1L328.0 193.9L324.2 192.0L324.0 191.8L322.6 188.0L322.9 184.0L324.0 180.2L324.1 180.0L325.1 176.0L326.0 172.0L327.1 168.0L328.0 165.1L328.5 164.0L330.4 160.0L332.0 156.2L332.6 156.0L336.0 155.2L340.0 156.0L340.0 156.0L344.0 157.9L348.0 157.9L348.4 156.0L348.1 152.0L348.0 150.8L347.5 148.0L345.7 144.0L344.0 141.2L343.1 140.0L340.4 136.0L340.0 135.2L338.0 132.0L336.5 128.0L336.0 126.7L334.0 124.0L332.0 120.8L331.5 120.0L330.1 116.0L328.7 112.0L328.0 110.1L327.4 108.0L326.1 104.0L324.9 100.0L324.0 98.0L323.1 96.0L320.5 92.0L320.0 89.9L319.3 88.0L317.4 84.0L316.0 83.2L312.0 82.1L310.4 80.0L308.7 76.0L308.0 74.5L306.8 72.0L305.0 68.0L304.0 64.8L303.6 64.0L300.9 60.0L300.0 58.3L296.0 56.9L292.0 57.4L290.5 56.0L288.6 52.0L288.0 51.0L287.3 48.0L285.6 44.0L284.0 40.3L283.4 40.0L280.0 36.3L280.0 36.0ZM296.0 46.9L295.8 48.0L296.0 48.3L296.1 48.0L296.0 46.9ZM368.0 171.3L367.3 172.0L366.3 176.0L366.7 180.0L367.7 184.0L368.0 184.7L372.0 186.5L376.0 184.3L376.3 184.0L378.3 180.0L376.9 176.0L376.0 175.3L372.0 172.3L371.0 172.0L368.0 171.3ZM472.0 176.4L468.3 180.0L468.8 184.0L471.3 188.0L472.0 189.1L476.0 190.9L478.3 188.0L479.6 184.0L479.2 180.0L476.0 176.3L472.0 176.4ZM504.0 138.9L502.9 140.0L503.0 144.0L504.0 144.8L508.0 144.4L508.5 144.0L509.2 140.0L508.0 138.9L504.0 138.9Z" fill="rgb(0,216,255)" fill-rule="evenodd"/>
<path d="M301.9 32.0L304.0 32.0L308.0 32.0L312.0 32.0L316.0 32.0L320.0 32.0L324.0 32.0L324.7 32.0L326.5 36.0L328.0 37.7L329.5 40.0L331.9 44.0L332.0 44.1L334.2 48.0L336.0 50.7L336.6 52.0L338.2 56.0L340.0 58.5L341.0 60.0L343.7 64.0L344.0 64.5L345.7 68.0L348.0 70.7L349.1 72.0L352.0 75.9L352.0 76.0L353.1 80.0L352.8 84.0L352.1 88.0L353.8 92.0L356.0 95.7L356.2 96.0L358.1 100.0L359.9 104.0L360.0 104.4L361.2 108.0L362.5 112.0L362.5 116.0L364.0 117.5L366.2 120.0L368.0 121.7L369.4 124.0L368.0 127.5L366.2 128.0L365.1 132.0L366.4 136.0L367.4 140.0L368.0 141.5L369.9 144.0L372.0 146.4L375.8 148.0L376.0 148.1L380.0 150.0L383.6 152.0L384.0 152.2L387.2 156.0L388.0 156.7L392.0 159.6L396.0 158.1L397.1 156.0L398.6 152.0L400.0 150.8L404.0 150.4L408.0 150.3L412.0 150.4L416.0 151.3L417.9 152.0L420.0 152.6L424.0 153.8L428.0 153.8L429.5 152.0L429.6 148.0L430.4 144.0L432.0 142.5L435.0 140.0L436.0 139.6L440.0 139.1L444.0 139.2L448.0 137.7L450.4 136.0L452.0 134.4L454.8 132.0L456.0 130.9L459.6 128.0L460.0 127.7L464.0 124.3L464.3 124.0L468.0 120.2L468.2 120.0L470.8 116.0L472.0 113.6L472.8 112.0L474.9 108.0L476.0 106.5L477.8 104.0L480.0 101.5L481.5 100.0L484.0 97.5L485.8 96.0L488.0 93.9L490.0 92.0L492.0 90.1L494.2 88.0L496.0 86.3L498.7 84.0L500.0 82.8L503.4 80.0L504.0 79.5L508.0 77.9L512.0 78.5L513.7 80.0L516.0 82.6L517.0 84.0L519.1 88.0L520.0 91.5L520.2 92.0L520.9 96.0L522.0 100.0L523.4 104.0L524.0 105.6L525.4 108.0L527.5 112.0L528.0 113.2L530.0 116.0L532.0 119.9L532.1 120.0L532.9 124.0L532.0 127.4L531.9 128.0L530.2 132.0L528.3 136.0L528.0 140.0L528.0 140.0L528.0 140.0L529.4 144.0L531.5 148.0L532.0 149.0L533.8 152.0L535.2 156.0L536.0 158.1L536.6 160.0L537.8 164.0L538.2 168.0L538.1 172.0L537.8 176.0L537.5 180.0L537.5 184.0L537.5 188.0L537.1 192.0L536.2 196.0L536.0 196.8L535.5 200.0L535.0 204.0L534.1 208.0L532.8 212.0L532.0 213.9L531.3 216.0L530.3 220.0L529.6 224.0L528.1 228.0L528.0 228.1L525.2 232.0L524.0 233.1L520.4 236.0L520.0 236.3L516.0 238.1L512.0 238.7L508.0 238.5L504.0 237.9L500.0 237.7L496.0 237.7L492.0 238.2L488.0 239.6L487.4 240.0L484.0 242.0L480.3 244.0L480.0 244.1L476.0 245.3L472.0 246.4L468.7 248.0L468.0 248.5L465.1 252.0L464.1 256.0L464.0 256.7L462.7 260.0L460.0 263.0L457.5 264.0L456.0 264.7L452.0 266.6L450.2 268.0L448.0 270.2L445.5 272.0L444.0 273.0L440.0 274.7L437.0 276.0L436.0 276.4L432.0 278.5L429.5 280.0L428.0 280.7L424.0 282.6L421.0 284.0L420.0 284.5L416.0 286.8L413.8 288.0L412.0 288.9L408.0 290.1L404.0 290.5L400.0 290.6L396.0 291.3L394.7 292.0L392.0 293.5L389.5 296.0L388.0 297.8L385.4 300.0L384.0 301.5L380.0 301.9L376.8 304.0L379.9 308.0L380.0 308.1L384.0 310.3L385.0 312.0L386.5 316.0L384.6 320.0L384.0 320.3L381.9 320.0L380.0 319.4L376.0 317.2L372.0 317.6L368.8 320.0L368.0 320.5L364.0 323.4L362.7 324.0L360.0 325.2L356.0 326.4L352.9 328.0L352.0 328.8L348.8 332.0L348.0 332.9L344.9 336.0L344.0 337.1L341.3 340.0L340.0 341.5L337.8 344.0L336.0 346.3L334.7 348.0L332.2 352.0L332.0 352.5L330.5 356.0L329.2 360.0L328.1 364.0L328.0 364.4L326.7 368.0L324.8 372.0L324.0 373.7L323.1 376.0L322.2 380.0L321.6 384.0L321.0 388.0L320.0 391.6L319.9 392.0L317.8 396.0L316.0 398.5L314.2 400.0L312.0 401.8L308.0 402.9L304.0 402.1L301.4 400.0L300.0 398.7L298.4 396.0L296.4 392.0L296.0 391.3L294.4 388.0L292.1 384.0L292.0 383.9L289.7 380.0L288.0 377.2L287.3 376.0L285.0 372.0L284.0 370.1L282.7 368.0L280.2 364.0L280.0 363.7L277.1 360.0L276.0 358.6L273.6 356.0L272.0 354.2L269.7 352.0L268.0 350.4L265.0 348.0L264.0 347.3L260.0 344.1L259.9 344.0L257.5 340.0L256.0 337.9L253.6 336.0L252.0 335.2L248.0 333.9L244.1 332.0L244.0 331.9L240.0 330.2L236.0 328.8L234.5 328.0L232.0 327.0L228.1 324.0L228.0 323.9L224.0 321.1L222.7 320.0L220.0 317.0L219.4 316.0L218.2 312.0L216.0 308.2L215.9 308.0L212.4 304.0L212.0 303.6L209.7 300.0L208.3 296.0L209.1 292.0L212.0 289.4L214.2 288.0L216.0 286.8L220.0 285.2L223.1 284.0L224.0 283.4L228.0 280.6L229.1 280.0L232.0 277.6L233.9 276.0L236.0 272.7L236.5 272.0L238.2 268.0L239.3 264.0L240.0 260.0L239.8 256.0L238.6 252.0L236.1 248.0L236.0 247.8L234.5 244.0L235.1 240.0L236.0 238.5L238.0 236.0L240.0 232.9L240.8 232.0L243.8 228.0L244.0 227.8L248.0 225.3L252.0 224.3L256.0 225.4L259.1 228.0L259.2 232.0L258.3 236.0L257.8 240.0L258.1 244.0L259.4 248.0L260.0 249.1L261.2 252.0L263.8 256.0L264.0 256.2L266.0 260.0L267.8 264.0L268.0 264.5L269.6 268.0L272.0 271.2L273.2 272.0L276.0 273.4L280.0 274.2L284.0 274.2L288.0 273.4L291.1 272.0L292.0 271.6L296.0 268.9L297.0 268.0L300.0 265.2L301.0 264.0L303.3 260.0L304.0 257.2L304.3 256.0L305.2 252.0L307.7 248.0L308.0 247.6L312.0 246.0L316.0 245.3L317.4 244.0L317.9 240.0L316.3 236.0L316.0 235.4L313.7 232.0L312.5 228.0L312.8 224.0L313.7 220.0L315.0 216.0L316.0 214.6L318.4 212.0L320.0 211.0L324.0 208.8L326.0 208.0L328.0 207.3L332.0 206.3L336.0 205.4L340.0 204.8L343.3 204.0L344.0 203.7L348.0 201.3L350.1 200.0L350.7 196.0L348.1 192.0L348.0 191.8L345.7 188.0L344.0 184.0L344.0 183.7L343.4 180.0L344.0 179.2L348.0 176.2L352.0 176.8L356.0 177.5L358.9 180.0L360.0 181.1L361.2 184.0L362.1 188.0L360.7 192.0L360.0 192.9L357.3 196.0L360.0 198.1L364.0 196.9L365.5 196.0L368.0 194.1L372.0 192.3L372.5 192.0L376.0 190.0L378.1 188.0L380.0 186.1L383.0 184.0L384.0 183.2L388.0 181.6L391.7 180.0L392.0 179.0L392.6 176.0L392.0 174.6L390.1 172.0L388.0 170.1L384.6 168.0L384.0 167.6L380.0 165.2L378.1 164.0L376.0 162.6L373.2 160.0L372.0 158.6L368.0 157.8L366.0 160.0L364.0 161.4L360.0 160.9L359.1 160.0L356.0 156.8L355.5 156.0L353.0 152.0L352.0 149.6L351.6 148.0L350.3 144.0L348.0 141.3L347.1 140.0L344.0 136.4L343.7 136.0L341.5 132.0L340.0 129.4L339.3 128.0L337.8 124.0L336.0 120.2L335.9 120.0L333.8 116.0L332.0 112.0L332.0 112.0L330.4 108.0L329.3 104.0L328.1 100.0L328.0 99.8L326.3 96.0L324.0 92.5L323.7 92.0L322.6 88.0L322.0 84.0L320.0 80.6L318.3 80.0L316.0 79.3L313.0 76.0L312.0 74.0L311.1 72.0L309.1 68.0L308.6 64.0L308.6 60.0L308.0 57.3L307.5 56.0L305.5 52.0L305.0 48.0L305.0 44.0L304.0 40.4L303.8 40.0L302.0 36.0L301.9 32.0ZM472.0 174.8L470.1 176.0L468.0 178.1L466.9 180.0L467.2 184.0L468.0 185.6L469.6 188.0L472.0 191.6L472.7 192.0L476.0 193.2L477.7 192.0L480.0 189.0L480.5 188.0L481.3 184.0L481.2 180.0L480.0 177.1L479.1 176.0L476.0 174.3L472.0 174.8ZM504.0 135.0L502.4 136.0L500.0 138.3L498.9 140.0L498.9 144.0L500.0 145.7L503.0 148.0L504.0 148.4L508.0 148.4L508.8 148.0L512.0 145.5L513.5 144.0L515.3 140.0L513.8 136.0L512.0 135.2L508.0 134.2L504.0 135.0Z" fill="rgb(0,233,255)" fill-rule="evenodd"/>
<path d="M318.8 40.0L320.0 38.2L324.0 39.8L324.1 40.0L327.7 44.0L328.0 44.2L330.2 48.0L332.0 50.5L332.8 52.0L335.0 56.0L336.0 57.4L337.6 60.0L340.0 63.0L340.6 64.0L342.4 68.0L344.0 70.1L345.4 72.0L348.0 74.9L348.8 76.0L349.5 80.0L348.7 84.0L348.7 88.0L349.3 92.0L352.0 94.1L353.5 96.0L354.4 100.0L356.0 102.3L356.8 104.0L357.4 108.0L356.0 110.3L354.2 108.0L352.9 104.0L352.0 103.5L348.0 100.0L348.0 100.0L344.1 96.0L344.0 95.9L340.1 92.0L340.0 91.8L338.9 92.0L336.7 96.0L338.3 100.0L340.0 102.6L340.5 104.0L343.3 108.0L344.0 108.6L348.0 111.7L348.4 112.0L351.7 116.0L352.0 116.5L353.1 120.0L355.3 124.0L356.0 125.6L356.7 128.0L358.2 132.0L360.0 134.4L360.8 136.0L361.7 140.0L361.9 144.0L360.0 147.0L358.2 144.0L356.0 140.5L355.6 140.0L352.0 136.6L351.1 136.0L348.0 134.0L346.6 132.0L344.0 128.8L343.7 128.0L342.4 124.0L340.9 120.0L340.0 118.4L339.0 116.0L337.3 112.0L336.0 109.9L335.3 108.0L334.2 104.0L333.6 100.0L332.0 97.9L331.3 96.0L328.5 92.0L328.0 91.1L327.3 88.0L327.3 84.0L328.0 82.8L332.0 81.4L332.2 80.0L332.7 76.0L332.0 75.0L328.0 73.2L324.0 73.1L320.0 74.2L316.0 73.2L315.3 72.0L312.3 68.0L312.0 66.4L311.7 64.0L311.8 60.0L311.1 56.0L309.2 52.0L308.8 48.0L312.0 45.4L316.0 44.8L318.5 44.0L318.8 40.0ZM503.3 84.0L504.0 83.4L508.0 81.5L512.0 82.8L513.0 84.0L514.9 88.0L515.9 92.0L516.0 92.7L516.4 96.0L517.3 100.0L518.1 104.0L519.0 108.0L519.7 112.0L520.0 114.6L520.3 116.0L520.9 120.0L520.7 124.0L520.0 125.3L518.0 128.0L516.0 129.1L512.0 129.9L508.0 130.5L504.0 131.8L503.6 132.0L500.0 134.3L498.2 136.0L496.0 139.7L495.8 140.0L495.7 144.0L496.0 144.8L497.7 148.0L500.0 149.8L504.0 151.3L508.0 151.9L512.0 151.3L516.0 148.1L516.6 148.0L520.0 147.6L520.4 148.0L521.9 152.0L521.9 156.0L522.0 160.0L524.0 162.5L525.0 164.0L528.0 167.4L528.4 168.0L530.1 172.0L530.9 176.0L531.4 180.0L531.9 184.0L532.0 184.5L532.4 188.0L532.4 192.0L532.0 194.4L531.8 196.0L531.1 200.0L530.5 204.0L529.5 208.0L528.3 212.0L528.0 213.1L527.4 216.0L526.6 220.0L525.7 224.0L524.0 227.6L523.8 228.0L520.5 232.0L520.0 232.4L516.0 235.2L513.8 236.0L512.0 236.5L508.0 236.6L504.0 236.4L500.0 236.3L496.0 236.5L492.0 236.9L488.0 238.1L484.9 240.0L484.0 240.5L480.0 242.5L476.0 243.7L474.7 244.0L472.0 244.7L468.0 246.4L466.0 248.0L464.0 250.9L463.3 252.0L462.0 256.0L460.1 260.0L460.0 260.2L456.0 261.7L452.0 263.0L450.4 264.0L448.0 265.8L444.8 268.0L444.0 268.6L440.0 270.0L436.0 271.0L433.7 272.0L432.0 272.9L428.1 276.0L428.0 276.0L424.0 278.3L420.4 280.0L420.0 280.2L416.0 282.1L412.7 284.0L412.0 284.4L408.0 285.9L404.0 286.5L400.0 286.4L396.0 287.1L394.3 288.0L392.0 289.1L388.6 292.0L388.0 292.6L384.9 296.0L384.0 296.7L380.0 297.6L376.0 298.8L374.8 300.0L372.5 304.0L372.1 308.0L372.2 312.0L372.0 312.1L369.9 316.0L368.0 317.4L365.7 320.0L364.0 321.3L360.0 323.3L356.9 324.0L356.0 324.2L352.0 326.2L349.5 328.0L348.0 329.4L345.2 332.0L344.0 333.3L341.2 336.0L340.0 337.3L337.5 340.0L336.0 341.7L334.1 344.0L332.0 346.7L331.1 348.0L328.8 352.0L328.0 353.8L327.2 356.0L325.9 360.0L324.7 364.0L324.0 365.9L323.3 368.0L321.6 372.0L320.0 375.9L320.0 376.0L319.1 380.0L318.2 384.0L317.1 388.0L316.0 390.7L315.1 392.0L312.0 395.4L310.0 396.0L308.0 396.5L306.5 396.0L304.0 395.0L301.2 392.0L300.0 390.8L298.2 388.0L296.0 385.0L295.4 384.0L292.8 380.0L292.0 378.9L290.3 376.0L288.1 372.0L288.0 371.9L286.0 368.0L284.0 364.5L283.7 364.0L281.1 360.0L280.0 358.3L278.2 356.0L276.0 353.1L275.0 352.0L272.0 348.8L271.1 348.0L268.0 345.7L265.7 344.0L264.0 342.4L262.0 340.0L260.0 336.7L259.5 336.0L256.0 333.0L253.8 332.0L252.0 331.3L248.0 329.8L244.3 328.0L244.0 327.9L240.0 327.1L236.0 326.4L232.0 324.8L231.0 324.0L228.0 321.4L225.8 320.0L224.0 318.5L221.8 316.0L220.1 312.0L220.0 311.7L219.0 308.0L216.0 304.5L215.6 304.0L212.2 300.0L212.0 299.2L211.7 296.0L212.0 295.4L216.0 292.5L216.9 292.0L220.0 290.8L224.0 289.4L226.5 288.0L228.0 287.3L232.0 285.1L233.8 284.0L236.0 282.8L240.0 280.2L240.3 280.0L244.0 277.7L246.9 276.0L248.0 274.0L249.0 272.0L248.4 268.0L248.0 265.9L247.7 264.0L247.1 260.0L246.4 256.0L245.0 252.0L244.0 250.1L243.0 248.0L240.0 244.2L239.9 244.0L239.9 240.0L240.0 239.9L243.9 236.0L244.0 235.9L247.8 232.0L248.0 231.8L252.0 231.7L252.2 232.0L252.3 236.0L252.2 240.0L252.7 244.0L254.1 248.0L256.0 250.9L256.5 252.0L259.4 256.0L260.0 256.6L262.2 260.0L263.8 264.0L264.0 265.4L264.2 268.0L264.7 272.0L268.0 275.7L268.6 276.0L272.0 276.9L276.0 277.3L280.0 277.4L284.0 277.0L288.0 276.0L288.0 276.0L292.0 274.3L295.2 272.0L296.0 271.4L299.8 268.0L300.0 267.8L303.3 264.0L304.0 262.7L305.2 260.0L306.1 256.0L307.4 252.0L308.0 251.1L312.0 249.3L316.0 249.6L320.0 248.2L320.2 248.0L321.8 244.0L321.7 240.0L320.3 236.0L320.0 235.2L318.3 232.0L317.0 228.0L316.8 224.0L317.2 220.0L318.5 216.0L320.0 214.3L322.7 212.0L324.0 211.3L328.0 209.9L332.0 209.0L336.0 208.4L338.4 208.0L340.0 207.7L344.0 207.0L348.0 205.8L352.0 204.3L353.2 204.0L356.0 203.2L360.0 202.6L364.0 201.3L366.5 200.0L368.0 199.0L372.0 196.9L373.5 196.0L376.0 194.5L378.4 192.0L380.0 190.5L382.5 188.0L384.0 186.8L388.0 185.2L392.0 184.5L393.7 184.0L396.0 182.4L398.2 180.0L398.3 176.0L397.1 172.0L396.8 168.0L399.0 164.0L400.0 162.5L401.3 160.0L403.8 156.0L404.0 155.9L408.0 154.9L412.0 155.7L413.1 156.0L416.0 156.9L420.0 157.8L424.0 158.1L428.0 157.6L431.0 156.0L432.0 154.8L432.7 152.0L432.6 148.0L433.5 144.0L436.0 141.7L440.0 140.6L444.0 140.6L446.6 140.0L448.0 139.5L452.0 136.7L453.1 136.0L456.0 133.5L458.0 132.0L460.0 130.4L462.6 128.0L464.0 126.8L466.8 124.0L468.0 122.8L470.6 120.0L472.0 117.8L473.2 116.0L475.1 112.0L476.0 110.2L477.2 108.0L480.0 104.2L480.2 104.0L484.0 100.2L484.3 100.0L488.0 96.9L489.2 96.0L492.0 93.4L493.5 92.0L496.0 89.6L498.2 88.0L500.0 86.6L503.3 84.0ZM468.0 175.9L467.9 176.0L465.6 180.0L465.8 184.0L467.9 188.0L468.0 188.1L470.6 192.0L472.0 193.8L476.0 194.9L480.0 192.2L480.1 192.0L482.0 188.0L482.9 184.0L482.9 180.0L481.8 176.0L480.0 173.7L476.0 172.4L472.0 173.3L468.0 175.9ZM355.2 188.0L356.0 187.6L356.2 188.0L356.0 188.6L355.2 188.0Z" fill="rgb(0,250,255)" fill-rule="evenodd"/>
<path d="M313.2 52.0L316.0 49.7L320.0 50.0L324.0 50.2L326.8 52.0L328.0 53.0L330.2 56.0L332.0 59.6L332.3 60.0L334.9 64.0L335.0 68.0L332.0 69.7L328.0 70.1L324.0 68.0L323.9 68.0L320.0 66.2L316.1 64.0L316.0 63.9L315.1 60.0L314.5 56.0L313.2 52.0ZM338.3 80.0L340.0 76.8L340.9 80.0L340.0 81.4L338.3 80.0ZM508.0 88.0L508.0 88.0L508.0 88.0L510.2 92.0L511.7 96.0L512.0 96.7L512.9 100.0L513.8 104.0L514.4 108.0L514.7 112.0L514.8 116.0L514.3 120.0L512.0 124.0L512.0 124.0L508.0 126.3L505.1 128.0L504.0 128.5L500.0 131.0L498.8 132.0L496.0 134.6L494.7 136.0L492.6 140.0L492.5 144.0L493.7 148.0L496.0 150.9L497.5 152.0L500.0 153.5L504.0 155.0L506.2 156.0L508.0 159.3L508.3 160.0L509.6 164.0L512.0 166.2L515.2 168.0L516.0 168.3L520.0 170.5L521.6 172.0L524.0 176.0L524.0 176.1L525.8 180.0L527.2 184.0L528.0 187.5L528.1 188.0L528.5 192.0L528.2 196.0L528.0 197.1L527.6 200.0L526.9 204.0L526.1 208.0L525.1 212.0L524.3 216.0L524.0 217.5L523.5 220.0L522.3 224.0L520.0 228.0L520.0 228.0L516.0 232.0L516.0 232.0L512.0 234.0L508.0 234.6L504.0 234.7L500.0 234.8L496.0 235.0L492.0 235.4L490.3 236.0L488.0 236.6L484.0 238.8L481.9 240.0L480.0 240.9L476.0 241.8L472.0 242.6L468.8 244.0L468.0 244.3L464.0 247.4L463.4 248.0L461.1 252.0L460.0 255.5L459.6 256.0L456.0 258.4L452.0 259.9L451.7 260.0L448.0 261.8L444.1 264.0L444.0 264.1L440.0 265.2L436.0 265.6L432.0 266.0L428.0 267.4L426.9 268.0L424.0 270.5L422.5 272.0L420.0 273.9L417.1 276.0L416.0 276.5L412.0 278.8L409.2 280.0L408.0 280.5L404.0 281.0L400.0 280.6L396.0 281.3L392.0 284.0L391.9 284.0L388.0 287.1L387.0 288.0L384.0 291.2L383.2 292.0L380.0 293.9L376.0 295.9L375.9 296.0L372.0 299.8L371.9 300.0L369.5 304.0L368.6 308.0L368.0 312.0L368.0 312.0L366.5 316.0L364.0 318.8L362.9 320.0L360.0 321.7L356.0 322.7L352.0 323.9L351.8 324.0L348.0 326.5L346.0 328.0L344.0 329.9L341.5 332.0L340.0 333.5L337.5 336.0L336.0 337.6L333.9 340.0L332.0 342.2L330.6 344.0L328.0 347.6L327.7 348.0L325.7 352.0L324.1 356.0L324.0 356.4L322.8 360.0L321.5 364.0L320.2 368.0L320.0 368.5L318.7 372.0L317.4 376.0L316.2 380.0L316.0 380.6L314.5 384.0L312.1 388.0L312.0 388.2L308.0 390.0L304.0 388.4L303.6 388.0L300.0 384.9L299.3 384.0L296.1 380.0L296.0 379.9L293.4 376.0L292.0 373.5L291.2 372.0L289.2 368.0L288.0 365.7L287.1 364.0L284.8 360.0L284.0 358.7L282.3 356.0L280.0 352.4L279.7 352.0L276.4 348.0L276.0 347.6L272.0 344.0L272.0 344.0L268.0 340.3L267.7 340.0L265.6 336.0L264.0 334.4L261.3 332.0L260.0 331.4L256.0 329.5L252.6 328.0L252.0 327.7L248.0 325.9L244.0 324.7L240.0 324.6L236.0 324.1L235.7 324.0L232.0 321.4L230.2 320.0L228.0 317.3L226.2 316.0L224.0 313.1L223.7 312.0L224.0 308.7L224.2 308.0L228.0 304.6L228.6 304.0L230.5 300.0L231.8 296.0L232.0 295.8L236.0 292.3L236.3 292.0L240.0 289.7L242.7 288.0L244.0 287.2L248.0 285.6L252.0 284.6L256.0 284.1L260.0 284.1L264.0 284.1L264.5 284.0L268.0 283.4L272.0 282.2L276.0 281.4L280.0 280.7L284.0 280.0L284.0 280.0L288.0 279.0L292.0 277.3L293.7 276.0L296.0 274.3L298.3 272.0L300.0 270.5L302.6 268.0L304.0 266.3L305.7 264.0L307.2 260.0L307.9 256.0L308.0 255.8L311.9 252.0L312.0 251.9L312.5 252.0L316.0 252.5L320.0 252.1L320.2 252.0L324.0 248.0L324.0 247.9L325.0 244.0L324.6 240.0L324.0 238.3L323.3 236.0L321.9 232.0L321.0 228.0L320.7 224.0L321.2 220.0L323.0 216.0L324.0 215.2L328.0 213.0L331.7 212.0L332.0 211.9L336.0 211.4L340.0 210.8L344.0 210.2L348.0 209.5L352.0 208.3L352.8 208.0L356.0 207.0L360.0 206.1L364.0 204.9L366.2 204.0L368.0 203.2L372.0 201.4L375.6 200.0L376.0 199.8L379.9 196.0L380.0 195.9L382.3 192.0L384.0 190.3L387.8 188.0L388.0 187.9L392.0 187.5L396.0 187.4L400.0 186.3L403.0 184.0L404.0 182.2L405.2 180.0L404.0 176.2L404.0 176.0L402.4 172.0L402.5 168.0L404.0 164.7L404.4 164.0L408.0 160.1L412.0 160.2L416.0 161.7L420.0 162.6L424.0 161.6L428.0 160.3L428.5 160.0L432.0 158.0L433.4 156.0L434.4 152.0L434.3 148.0L435.7 144.0L436.0 143.8L440.0 141.9L444.0 141.7L448.0 140.8L449.9 140.0L452.0 138.5L455.9 136.0L456.0 135.9L460.0 133.0L461.3 132.0L464.0 129.6L465.5 128.0L468.0 125.5L469.5 124.0L472.0 121.4L473.1 120.0L475.5 116.0L476.0 114.9L477.4 112.0L479.4 108.0L480.0 107.2L482.9 104.0L484.0 102.9L487.8 100.0L488.0 99.9L492.0 96.8L493.1 96.0L496.0 93.5L498.4 92.0L500.0 91.0L504.0 89.4L508.0 88.0ZM472.0 171.7L471.6 172.0L468.0 174.3L466.3 176.0L464.2 180.0L464.4 184.0L466.4 188.0L468.0 190.5L469.0 192.0L472.0 195.8L472.7 196.0L476.0 196.7L477.2 196.0L480.0 194.1L481.6 192.0L483.5 188.0L484.0 185.9L484.5 184.0L484.6 180.0L484.1 176.0L484.0 175.7L481.7 172.0L480.0 170.7L476.0 170.3L472.0 171.7Z" fill="rgb(0,255,242)" fill-rule="evenodd"/>
<path d="M317.7 56.0L320.0 53.5L324.0 53.7L326.5 56.0L328.0 59.0L328.6 60.0L330.4 64.0L328.0 67.3L324.0 65.5L321.9 64.0L320.0 62.4L317.9 60.0L317.7 56.0ZM499.7 96.0L500.0 95.9L504.0 95.9L504.2 96.0L508.0 99.3L508.4 100.0L509.7 104.0L510.3 108.0L510.4 112.0L510.0 116.0L508.5 120.0L508.0 120.6L505.0 124.0L504.0 124.7L500.0 127.8L499.8 128.0L496.0 131.0L494.9 132.0L492.0 135.0L491.0 136.0L489.2 140.0L489.0 144.0L489.7 148.0L491.4 152.0L492.0 153.0L495.7 156.0L496.0 156.2L500.0 158.4L502.1 160.0L504.0 162.1L504.9 164.0L508.0 167.0L509.1 168.0L512.0 169.5L516.0 171.9L516.2 172.0L519.7 176.0L520.0 176.6L521.8 180.0L523.4 184.0L524.0 186.0L524.7 188.0L525.3 192.0L525.1 196.0L524.6 200.0L524.0 203.7L524.0 204.0L523.2 208.0L522.5 212.0L521.7 216.0L520.7 220.0L520.0 221.8L519.1 224.0L516.3 228.0L516.0 228.3L512.0 231.3L510.0 232.0L508.0 232.5L504.0 232.9L500.0 233.1L496.0 233.3L492.0 233.8L488.0 234.9L485.8 236.0L484.0 236.9L480.0 239.0L476.0 239.9L475.2 240.0L472.0 240.3L468.0 241.4L464.2 244.0L464.0 244.2L460.5 248.0L460.0 249.0L457.5 252.0L456.0 253.9L452.2 256.0L452.0 256.1L448.0 257.6L444.0 259.1L440.0 259.9L436.6 260.0L436.0 260.0L435.1 260.0L432.0 259.9L431.4 260.0L428.0 260.4L424.0 262.1L422.0 264.0L420.0 265.6L417.1 268.0L416.0 269.1L412.0 271.9L411.8 272.0L408.0 273.6L404.0 274.4L400.0 274.6L396.0 275.1L394.1 276.0L392.0 277.3L389.5 280.0L388.0 281.4L385.1 284.0L384.0 285.0L381.0 288.0L380.0 289.0L377.1 292.0L376.0 292.6L372.8 296.0L372.0 296.8L369.4 300.0L368.0 302.2L366.7 304.0L365.7 308.0L365.2 312.0L364.0 315.4L363.8 316.0L360.1 320.0L360.0 320.0L356.0 321.2L352.0 322.1L348.0 323.9L347.8 324.0L344.0 326.7L342.3 328.0L340.0 330.0L337.8 332.0L336.0 333.7L333.8 336.0L332.0 338.1L330.5 340.0L328.0 343.2L327.4 344.0L324.7 348.0L324.0 349.4L322.9 352.0L321.4 356.0L320.0 359.6L319.8 360.0L318.4 364.0L317.2 368.0L316.0 371.9L316.0 372.0L314.7 376.0L313.0 380.0L312.0 381.7L308.1 384.0L308.0 384.1L307.8 384.0L304.0 383.3L300.0 380.1L299.9 380.0L297.0 376.0L296.0 374.4L294.7 372.0L292.6 368.0L292.0 366.7L290.7 364.0L288.6 360.0L288.0 358.8L286.5 356.0L284.3 352.0L284.0 351.6L281.4 348.0L280.0 346.5L277.7 344.0L276.0 342.1L274.0 340.0L272.0 336.1L271.9 336.0L268.3 332.0L268.0 331.8L264.0 329.4L260.3 328.0L260.0 327.9L256.0 326.1L252.0 324.4L251.1 324.0L248.0 321.7L244.0 320.4L240.6 320.0L240.0 318.7L239.4 316.0L240.0 312.9L240.2 312.0L241.4 308.0L244.0 305.0L244.8 304.0L248.0 300.6L248.4 300.0L251.6 296.0L252.0 295.7L256.0 292.4L256.9 292.0L260.0 291.1L264.0 290.1L268.0 288.8L269.7 288.0L272.0 287.0L276.0 285.4L280.0 284.2L280.9 284.0L284.0 283.3L288.0 282.2L292.0 280.5L292.8 280.0L296.0 277.7L297.5 276.0L300.0 273.5L301.5 272.0L304.0 269.6L305.7 268.0L308.0 264.4L308.3 264.0L309.9 260.0L311.3 256.0L312.0 255.3L316.0 255.4L320.0 255.4L324.0 253.4L325.3 252.0L327.5 248.0L328.0 244.8L328.1 244.0L328.0 243.1L327.6 240.0L326.6 236.0L325.6 232.0L325.2 228.0L325.5 224.0L326.9 220.0L328.0 218.7L332.0 216.4L333.2 216.0L336.0 215.4L340.0 214.6L344.0 214.0L348.0 213.4L352.0 212.3L352.8 212.0L356.0 211.0L360.0 209.8L364.0 208.7L366.2 208.0L368.0 207.4L372.0 206.2L376.0 205.7L380.0 205.6L383.9 204.0L384.0 203.7L384.7 200.0L384.6 196.0L386.5 192.0L388.0 191.0L392.0 190.9L395.5 192.0L396.0 192.4L400.0 193.1L401.9 192.0L404.0 190.7L406.7 188.0L408.0 186.8L411.1 184.0L412.0 182.5L414.8 180.0L416.0 177.6L417.6 176.0L420.0 174.8L420.9 172.0L421.9 168.0L424.0 165.8L425.5 164.0L428.0 162.7L432.0 160.4L432.4 160.0L435.2 156.0L436.0 152.0L436.0 150.1L436.0 148.0L438.4 144.0L440.0 143.2L444.0 142.8L448.0 142.0L452.0 140.2L452.5 140.0L456.0 137.8L459.4 136.0L460.0 135.6L464.0 132.7L464.9 132.0L468.0 128.6L468.5 128.0L472.0 124.7L472.6 124.0L475.8 120.0L476.0 119.7L478.0 116.0L479.7 112.0L480.0 111.4L482.1 108.0L484.0 105.9L486.3 104.0L488.0 102.7L492.0 100.2L492.3 100.0L496.0 97.6L499.7 96.0ZM480.0 167.6L477.2 168.0L476.0 168.1L472.0 169.7L469.1 172.0L468.0 172.7L464.7 176.0L464.0 177.4L462.7 180.0L462.9 184.0L464.0 186.2L464.8 188.0L467.3 192.0L468.0 193.3L469.9 196.0L472.0 198.0L476.0 198.4L480.0 196.0L480.0 196.0L483.1 192.0L484.0 190.1L485.0 188.0L485.9 184.0L486.3 180.0L486.1 176.0L485.3 172.0L484.0 169.7L481.0 168.0L480.0 167.6ZM407.5 168.0L408.0 167.2L412.0 166.1L414.4 168.0L415.2 172.0L412.0 175.8L408.0 173.0L407.4 172.0L407.5 168.0Z" fill="rgb(0,255,225)" fill-rule="evenodd"/>
<path d="M321.6 60.0L324.0 57.3L325.2 60.0L324.0 61.8L321.6 60.0ZM491.1 104.0L492.0 103.4L496.0 101.7L500.0 100.9L504.0 102.5L505.0 104.0L506.1 108.0L506.2 112.0L505.6 116.0L504.0 119.3L503.7 120.0L500.2 124.0L500.0 124.2L496.0 127.7L495.7 128.0L492.0 131.0L490.7 132.0L488.0 134.7L486.8 136.0L485.3 140.0L485.2 144.0L485.2 148.0L485.5 152.0L485.9 156.0L487.0 160.0L488.0 162.3L492.0 162.6L496.0 163.3L497.3 164.0L500.0 164.8L504.0 167.3L504.8 168.0L508.0 169.9L511.9 172.0L512.0 172.1L516.0 175.3L516.7 176.0L518.7 180.0L520.0 183.2L520.4 184.0L521.8 188.0L522.4 192.0L522.4 196.0L522.1 200.0L521.6 204.0L520.9 208.0L520.1 212.0L520.0 212.4L519.3 216.0L518.0 220.0L516.0 224.0L516.0 224.0L512.3 228.0L512.0 228.2L508.0 230.1L504.0 230.9L500.0 231.3L496.0 231.7L492.8 232.0L492.0 232.1L488.0 232.9L484.0 234.6L481.1 236.0L480.0 236.5L476.0 237.0L472.0 236.6L468.6 236.0L468.0 235.8L465.5 236.0L464.0 236.3L462.4 240.0L460.0 243.0L459.4 244.0L456.0 247.7L455.6 248.0L452.0 250.4L449.1 252.0L448.0 252.5L444.0 253.8L440.0 254.4L436.0 254.1L432.0 253.2L428.0 252.0L428.0 252.0L424.0 250.7L420.0 249.8L416.0 250.0L412.0 251.5L408.0 251.2L404.0 248.4L402.6 248.0L400.0 247.6L399.3 248.0L396.0 249.8L394.3 252.0L393.1 256.0L393.6 260.0L396.0 262.6L400.0 262.5L404.0 262.4L405.5 260.0L407.9 256.0L408.0 255.7L412.0 253.0L413.7 256.0L416.0 258.7L416.3 260.0L416.0 260.4L412.0 262.2L408.0 262.7L405.8 264.0L404.0 264.6L401.1 268.0L400.0 268.4L396.0 268.5L392.0 268.1L389.0 272.0L388.0 273.1L386.6 276.0L384.0 279.1L383.1 280.0L380.0 282.6L378.6 284.0L376.0 287.6L375.8 288.0L373.2 292.0L372.0 293.3L370.2 296.0L368.0 298.7L366.8 300.0L364.0 303.9L363.9 304.0L362.9 308.0L362.6 312.0L361.4 316.0L360.0 317.5L356.0 319.6L354.3 320.0L352.0 320.4L348.0 321.5L344.0 323.7L343.5 324.0L340.0 326.6L338.4 328.0L336.0 330.1L334.0 332.0L332.0 334.1L330.3 336.0L328.0 338.8L327.1 340.0L324.3 344.0L324.0 344.4L321.9 348.0L320.2 352.0L320.0 352.6L318.5 356.0L316.8 360.0L316.0 362.2L315.2 364.0L314.0 368.0L313.0 372.0L312.0 375.6L311.8 376.0L308.0 379.8L304.0 378.9L301.1 376.0L300.0 374.4L298.6 372.0L296.6 368.0L296.0 366.8L294.7 364.0L292.9 360.0L292.0 358.2L291.0 356.0L289.0 352.0L288.0 350.2L286.6 348.0L284.0 344.7L283.4 344.0L280.0 340.3L279.7 340.0L277.0 336.0L276.0 334.5L274.3 332.0L272.0 330.1L268.9 328.0L268.0 327.3L264.0 324.7L261.7 324.0L260.0 322.8L256.0 320.2L255.7 320.0L254.2 316.0L253.6 312.0L253.9 308.0L255.1 304.0L256.0 302.4L258.2 300.0L260.0 298.6L264.0 296.5L264.7 296.0L268.0 294.2L271.5 292.0L272.0 291.8L276.0 289.6L279.5 288.0L280.0 287.8L284.0 286.6L288.0 285.5L292.0 284.0L292.0 284.0L296.0 281.6L297.8 280.0L300.0 277.4L301.2 276.0L304.0 273.0L305.4 272.0L308.0 269.7L309.8 268.0L312.0 264.1L312.1 264.0L315.7 260.0L316.0 259.9L320.0 259.5L324.0 258.0L326.5 256.0L328.0 254.4L329.8 252.0L331.6 248.0L332.0 245.6L332.3 244.0L332.1 240.0L332.0 239.4L331.5 236.0L331.2 232.0L331.6 228.0L332.0 226.8L333.7 224.0L336.0 222.2L340.0 220.3L340.8 220.0L344.0 219.4L348.0 218.7L352.0 217.8L356.0 216.3L356.7 216.0L360.0 214.9L364.0 213.7L368.0 212.3L369.2 212.0L372.0 211.4L376.0 211.4L380.0 211.6L384.0 210.7L386.9 208.0L388.0 206.8L390.8 204.0L392.0 201.7L396.0 200.4L397.4 200.0L400.0 199.5L404.0 197.2L405.2 196.0L408.0 193.0L408.8 192.0L412.0 188.9L413.1 188.0L416.0 185.9L419.4 184.0L420.0 183.4L422.4 180.0L424.0 176.1L424.0 176.0L424.7 172.0L425.8 168.0L428.0 165.5L429.7 164.0L432.0 162.6L434.6 160.0L436.0 157.8L436.7 156.0L437.3 152.0L437.6 148.0L440.0 144.8L443.0 144.0L444.0 143.9L448.0 143.1L452.0 141.6L455.6 140.0L456.0 139.7L460.0 137.8L464.0 136.0L464.0 136.0L468.0 133.0L469.1 132.0L472.0 128.7L472.6 128.0L476.0 124.2L476.1 124.0L478.8 120.0L480.0 117.4L480.7 116.0L482.6 112.0L484.0 109.6L485.4 108.0L488.0 105.8L491.1 104.0ZM480.0 163.7L479.4 164.0L476.0 164.9L472.0 167.5L471.6 168.0L468.0 170.8L466.8 172.0L464.0 174.9L462.9 176.0L461.1 180.0L461.2 184.0L463.0 188.0L464.0 189.5L465.4 192.0L467.5 196.0L468.0 196.8L471.6 200.0L472.0 200.3L476.0 200.2L476.2 200.0L480.0 197.8L481.6 196.0L484.0 192.8L484.6 192.0L486.4 188.0L487.4 184.0L487.9 180.0L488.0 178.3L488.2 176.0L488.5 172.0L488.3 168.0L488.0 165.9L486.4 164.0L484.0 163.0L480.0 163.7Z" fill="rgb(0,255,208)" fill-rule="evenodd"/>
<path d="M490.2 108.0L492.0 106.9L496.0 105.9L500.0 107.0L500.8 108.0L501.9 112.0L501.3 116.0L500.0 118.7L499.3 120.0L496.0 124.0L496.0 124.0L492.0 127.2L490.6 128.0L488.0 129.7L484.0 132.0L484.0 132.0L480.0 135.7L479.6 136.0L479.6 140.0L480.0 142.1L480.2 144.0L480.4 148.0L480.1 152.0L480.0 152.5L479.2 156.0L477.0 160.0L476.0 160.7L472.1 164.0L472.0 164.1L468.8 168.0L468.0 168.7L464.8 172.0L464.0 172.8L461.0 176.0L460.0 178.5L459.2 180.0L459.2 184.0L460.0 185.8L460.8 188.0L463.3 192.0L464.0 193.5L464.9 196.0L466.8 200.0L468.0 201.4L472.0 203.3L476.0 202.6L479.4 200.0L480.0 199.7L483.3 196.0L484.0 195.0L486.1 192.0L487.9 188.0L488.0 187.4L489.0 184.0L489.6 180.0L490.3 176.0L491.6 172.0L492.0 171.2L496.0 168.6L500.0 168.9L504.0 170.3L507.3 172.0L508.0 172.3L512.0 174.5L513.7 176.0L516.0 179.6L516.2 180.0L517.8 184.0L519.2 188.0L519.9 192.0L519.9 196.0L519.7 200.0L519.3 204.0L518.7 208.0L517.9 212.0L516.9 216.0L516.0 218.5L515.4 220.0L512.8 224.0L512.0 224.9L508.0 227.6L507.0 228.0L504.0 228.8L500.0 229.4L496.0 229.7L492.0 230.0L488.0 230.7L484.0 231.9L483.7 232.0L480.0 233.1L476.0 233.1L473.4 232.0L472.0 231.2L468.0 228.1L467.9 228.0L464.0 225.8L460.0 225.7L456.0 227.9L455.8 228.0L452.2 232.0L452.0 232.6L450.6 236.0L451.1 240.0L448.0 241.8L444.0 243.7L443.3 244.0L440.0 244.9L436.0 244.4L434.8 244.0L432.0 243.1L428.0 241.8L424.0 240.6L422.6 240.0L420.0 236.5L419.6 236.0L416.0 233.0L414.4 232.0L412.0 230.9L408.0 228.9L406.0 228.0L404.0 226.9L402.1 224.0L401.3 220.0L400.7 216.0L400.0 212.7L399.8 212.0L400.0 209.5L400.1 208.0L403.4 204.0L404.0 203.6L407.7 200.0L408.0 199.7L410.8 196.0L412.0 194.5L413.9 192.0L416.0 190.2L419.7 188.0L420.0 187.8L424.0 185.2L425.2 184.0L426.6 180.0L427.0 176.0L427.3 172.0L428.0 169.8L428.8 168.0L432.0 165.2L433.3 164.0L436.0 161.3L436.7 160.0L438.1 156.0L438.6 152.0L439.2 148.0L440.0 146.9L444.0 145.2L448.0 144.3L448.9 144.0L452.0 143.0L456.0 141.4L460.0 140.0L460.1 140.0L464.0 138.8L468.0 137.5L471.8 136.0L472.0 135.8L476.0 133.6L477.5 132.0L478.6 128.0L480.0 124.7L480.2 124.0L482.2 120.0L483.8 116.0L484.0 115.6L486.0 112.0L488.0 109.7L490.2 108.0ZM360.0 224.0L360.0 224.0L364.0 222.7L368.0 221.6L372.0 221.5L374.9 224.0L376.0 224.9L378.9 228.0L380.0 229.1L382.5 232.0L384.0 233.8L386.1 236.0L388.0 238.3L389.1 240.0L388.5 244.0L388.0 245.1L386.9 248.0L385.7 252.0L384.9 256.0L384.1 260.0L384.0 260.7L383.5 264.0L383.0 268.0L382.4 272.0L380.4 276.0L380.0 276.4L376.0 279.6L375.6 280.0L373.2 284.0L372.0 287.1L371.7 288.0L370.0 292.0L368.0 295.4L367.6 296.0L364.0 299.9L363.9 300.0L361.1 304.0L360.2 308.0L360.0 311.3L359.9 312.0L358.3 316.0L356.0 317.4L352.0 318.1L348.0 318.9L345.3 320.0L344.0 320.6L340.0 323.2L339.1 324.0L336.0 326.5L334.4 328.0L332.0 330.3L330.3 332.0L328.0 334.5L326.7 336.0L324.0 339.7L323.8 340.0L321.2 344.0L320.0 346.3L319.2 348.0L317.5 352.0L316.0 355.3L315.6 356.0L313.1 360.0L312.0 362.4L310.7 364.0L309.2 368.0L308.5 372.0L308.0 373.2L304.3 372.0L304.0 371.9L302.5 368.0L300.0 364.2L299.9 364.0L297.8 360.0L296.0 356.8L295.6 356.0L293.8 352.0L292.0 348.4L291.8 348.0L289.2 344.0L288.0 342.3L286.1 340.0L284.0 337.7L282.6 336.0L280.0 332.6L279.6 332.0L276.4 328.0L276.0 327.5L272.0 324.1L271.9 324.0L269.2 320.0L268.0 317.2L267.4 316.0L266.7 312.0L266.2 308.0L266.5 304.0L268.0 302.1L269.2 300.0L272.0 297.5L273.4 296.0L276.0 294.1L279.3 292.0L280.0 291.6L284.0 290.1L288.0 289.0L291.4 288.0L292.0 287.8L296.0 286.1L299.1 284.0L300.0 283.2L303.2 280.0L304.0 278.9L308.0 277.0L312.0 277.6L312.4 276.0L314.0 272.0L316.0 269.4L316.9 268.0L320.0 265.4L322.3 264.0L324.0 263.2L328.0 260.5L328.5 260.0L332.0 256.1L332.0 256.0L334.5 252.0L336.0 248.7L336.4 248.0L338.0 244.0L339.5 240.0L340.0 238.6L341.6 236.0L344.0 232.6L344.7 232.0L348.0 229.5L351.1 228.0L352.0 227.7L356.0 225.9L360.0 224.0Z" fill="rgb(0,255,191)" fill-rule="evenodd"/>
<path d="M491.6 112.0L492.0 111.7L495.4 112.0L496.0 112.6L496.3 116.0L496.0 116.7L493.9 120.0L492.0 122.0L488.0 123.2L487.0 120.0L488.0 116.7L488.4 116.0L491.6 112.0ZM453.1 144.0L456.0 143.1L460.0 142.0L464.0 141.4L468.0 141.5L472.0 142.6L473.4 144.0L475.5 148.0L475.8 152.0L474.4 156.0L472.0 159.7L471.9 160.0L469.1 164.0L468.0 165.4L466.3 168.0L464.0 170.4L462.2 172.0L460.0 174.5L458.4 176.0L456.7 180.0L456.6 184.0L457.7 188.0L459.7 192.0L460.0 193.0L460.7 196.0L460.9 200.0L462.3 204.0L464.0 206.0L467.7 208.0L468.0 208.2L468.8 208.0L472.0 207.8L476.0 205.6L477.4 204.0L480.0 202.2L481.6 200.0L484.0 197.2L484.9 196.0L487.5 192.0L488.0 191.0L489.4 188.0L490.5 184.0L491.2 180.0L492.0 177.2L492.6 176.0L496.0 172.4L500.0 172.0L504.0 173.0L508.0 174.7L510.3 176.0L512.0 177.6L513.7 180.0L515.4 184.0L516.0 185.7L516.8 188.0L517.6 192.0L517.8 196.0L517.6 200.0L517.2 204.0L516.5 208.0L516.0 210.6L515.7 212.0L514.5 216.0L512.7 220.0L512.0 221.0L509.3 224.0L508.0 224.9L504.0 226.6L500.0 227.3L496.0 227.6L492.0 227.9L490.4 228.0L488.0 228.2L484.0 228.7L480.0 228.9L476.7 228.0L476.0 227.7L472.0 224.4L471.6 224.0L468.6 220.0L468.0 218.9L464.1 216.0L464.0 215.9L461.6 216.0L460.0 216.0L456.0 217.1L452.0 219.1L451.0 220.0L448.0 222.4L445.9 224.0L444.0 225.3L440.0 227.0L436.0 227.6L432.0 227.4L428.0 226.2L424.0 224.5L423.1 224.0L420.0 222.2L416.0 220.2L415.6 220.0L412.0 218.3L408.2 216.0L408.0 215.7L407.2 212.0L408.0 210.4L409.5 208.0L412.0 204.7L412.4 204.0L414.6 200.0L416.0 196.8L416.4 196.0L419.9 192.0L420.0 191.9L424.0 190.6L428.0 188.7L428.8 188.0L431.1 184.0L431.1 180.0L430.5 176.0L430.3 172.0L432.0 168.3L432.3 168.0L436.0 164.9L436.6 164.0L438.5 160.0L439.5 156.0L439.9 152.0L440.0 151.5L441.3 148.0L444.0 146.6L448.0 145.6L452.0 144.3L453.1 144.0ZM347.5 244.0L348.0 243.6L352.0 242.2L356.0 241.8L360.0 241.8L364.0 241.8L368.0 242.2L372.0 243.7L372.3 244.0L376.0 247.8L376.1 248.0L377.4 252.0L377.7 256.0L377.4 260.0L377.1 264.0L376.5 268.0L376.0 269.7L375.2 272.0L372.1 276.0L372.0 276.1L369.9 280.0L368.7 284.0L368.0 287.8L368.0 288.0L366.8 292.0L364.4 296.0L364.0 296.5L360.5 300.0L360.0 300.7L357.9 304.0L356.9 308.0L356.4 312.0L356.0 312.8L352.0 315.4L348.0 315.9L347.7 316.0L344.0 316.8L340.0 319.3L339.3 320.0L336.0 322.8L334.8 324.0L332.0 326.6L330.5 328.0L328.0 330.5L326.5 332.0L324.0 334.9L323.1 336.0L320.2 340.0L320.0 340.3L317.9 344.0L316.4 348.0L316.0 348.9L314.5 352.0L312.0 355.8L311.8 356.0L308.0 358.9L304.0 358.5L301.4 356.0L300.0 354.5L298.6 352.0L296.6 348.0L296.0 346.6L294.8 344.0L292.6 340.0L292.0 338.9L289.8 336.0L288.0 333.6L286.6 332.0L284.2 328.0L284.0 327.7L281.6 324.0L280.0 321.8L278.7 320.0L276.6 316.0L276.0 314.5L275.1 312.0L274.2 308.0L274.4 304.0L276.0 300.7L276.3 300.0L279.9 296.0L280.0 296.0L284.0 293.9L288.0 292.8L292.0 292.2L293.5 292.0L296.0 291.5L300.0 289.6L302.9 288.0L304.0 287.3L308.0 286.2L312.0 285.7L316.0 284.3L316.4 284.0L318.9 280.0L319.7 276.0L320.0 275.3L321.5 272.0L324.0 269.3L325.8 268.0L328.0 266.6L331.1 264.0L332.0 263.2L334.5 260.0L336.0 257.8L337.2 256.0L339.6 252.0L340.0 251.3L342.8 248.0L344.0 246.4L347.5 244.0Z" fill="rgb(0,255,174)" fill-rule="evenodd"/>
<path d="M462.8 144.0L464.0 144.0L464.1 144.0L468.0 145.3L471.0 148.0L471.5 152.0L470.3 156.0L468.5 160.0L468.0 160.8L466.4 164.0L464.0 167.7L463.7 168.0L460.0 171.3L459.0 172.0L456.0 174.9L454.7 176.0L452.6 180.0L452.4 184.0L453.0 188.0L453.0 192.0L452.0 193.1L448.0 194.6L444.0 193.7L441.6 192.0L440.6 188.0L440.5 184.0L440.0 183.1L438.9 180.0L436.1 176.0L436.0 175.3L435.7 172.0L436.0 171.5L437.8 168.0L439.5 164.0L440.0 162.2L440.5 160.0L441.2 156.0L441.8 152.0L444.0 148.0L444.0 148.0L448.0 146.9L452.0 145.8L456.0 144.8L460.0 144.0L462.8 144.0ZM495.8 176.0L496.0 175.8L500.0 174.8L504.0 175.6L505.1 176.0L508.0 177.4L510.8 180.0L512.0 181.8L513.0 184.0L514.5 188.0L515.4 192.0L515.6 196.0L515.4 200.0L515.0 204.0L514.3 208.0L513.5 212.0L512.2 216.0L512.0 216.3L509.8 220.0L508.0 222.0L504.8 224.0L504.0 224.4L500.0 225.2L496.0 225.4L492.0 225.4L488.0 225.3L484.0 225.2L480.0 224.2L479.7 224.0L476.0 220.0L476.0 219.9L475.1 216.0L475.9 212.0L476.0 211.9L477.8 208.0L480.0 205.5L480.8 204.0L483.6 200.0L484.0 199.5L486.6 196.0L488.0 193.8L489.2 192.0L491.0 188.0L492.0 184.4L492.1 184.0L493.3 180.0L495.8 176.0ZM431.8 212.0L432.0 210.6L436.0 210.7L436.5 212.0L436.0 212.8L432.0 212.2L431.8 212.0ZM354.6 252.0L356.0 251.9L356.7 252.0L360.0 252.4L364.0 253.8L367.1 256.0L368.0 258.0L368.5 260.0L368.6 264.0L368.3 268.0L368.0 268.7L366.8 272.0L365.2 276.0L364.4 280.0L364.1 284.0L364.0 287.3L364.0 288.0L362.9 292.0L360.0 295.9L359.9 296.0L356.2 300.0L356.0 300.3L353.6 304.0L352.0 308.0L352.0 308.1L348.0 311.0L344.3 312.0L344.0 312.1L340.0 314.2L338.2 316.0L336.0 318.1L334.5 320.0L332.0 322.5L330.6 324.0L328.0 326.5L326.5 328.0L324.0 330.5L322.5 332.0L320.0 334.8L318.7 336.0L316.0 339.6L315.6 340.0L313.9 344.0L312.8 348.0L312.0 349.7L309.5 352.0L308.0 353.0L305.3 352.0L304.0 351.1L302.1 348.0L300.6 344.0L300.0 342.3L299.3 340.0L297.5 336.0L296.0 333.1L295.4 332.0L293.4 328.0L292.0 325.1L291.4 324.0L288.6 320.0L288.0 319.3L285.4 316.0L284.0 314.1L282.7 312.0L280.8 308.0L280.5 304.0L282.2 300.0L284.0 298.5L288.0 297.1L292.0 297.3L296.0 297.3L299.1 296.0L300.0 295.6L304.0 293.3L306.6 292.0L308.0 291.3L312.0 290.1L316.0 289.2L320.0 288.5L323.8 288.0L324.0 287.9L326.8 284.0L325.7 280.0L325.8 276.0L328.0 273.2L329.3 272.0L332.0 270.3L334.4 268.0L336.0 266.3L337.8 264.0L340.0 260.6L340.4 260.0L343.6 256.0L344.0 255.5L348.0 253.1L352.0 252.1L354.6 252.0Z" fill="rgb(0,255,157)" fill-rule="evenodd"/>
<path d="M449.1 148.0L452.0 147.3L456.0 146.7L460.0 146.4L464.0 147.1L465.7 148.0L467.6 152.0L466.9 156.0L465.5 160.0L464.0 163.2L463.6 164.0L460.1 168.0L460.0 168.1L456.0 170.5L452.8 172.0L452.0 172.6L448.0 173.7L445.0 172.0L444.0 170.8L443.1 168.0L442.7 164.0L442.8 160.0L443.0 156.0L443.6 152.0L444.0 151.3L448.0 148.4L449.1 148.0ZM495.7 180.0L496.0 179.5L500.0 177.8L504.0 178.5L506.9 180.0L508.0 180.8L510.2 184.0L512.0 187.6L512.2 188.0L513.2 192.0L513.5 196.0L513.3 200.0L512.8 204.0L512.2 208.0L512.0 208.7L511.2 212.0L509.6 216.0L508.0 218.5L506.6 220.0L504.0 221.9L500.0 223.0L496.0 223.1L492.0 222.6L488.0 222.0L484.0 220.7L482.8 220.0L480.4 216.0L480.6 212.0L481.6 208.0L483.3 204.0L484.0 203.0L485.6 200.0L488.0 196.4L488.3 196.0L491.0 192.0L492.0 189.6L492.8 188.0L494.2 184.0L495.7 180.0ZM347.1 264.0L348.0 263.3L352.0 262.6L356.0 263.4L356.8 264.0L358.0 268.0L356.3 272.0L356.0 273.0L354.9 276.0L355.9 280.0L356.0 280.1L357.3 284.0L357.9 288.0L356.4 292.0L356.0 292.4L352.5 296.0L352.0 296.6L348.7 300.0L348.0 300.9L344.0 304.0L344.0 304.0L340.0 306.3L338.3 308.0L336.0 310.4L335.2 312.0L332.8 316.0L332.0 317.1L330.0 320.0L328.0 322.1L326.2 324.0L324.0 326.1L321.8 328.0L320.0 329.8L316.9 332.0L316.0 332.8L312.0 334.8L308.0 334.8L304.8 332.0L304.0 331.2L301.8 328.0L300.0 324.6L299.7 324.0L297.9 320.0L296.0 316.1L295.9 316.0L293.9 312.0L292.7 308.0L296.0 304.9L296.7 304.0L300.0 302.2L302.3 300.0L304.0 298.8L307.8 296.0L308.0 295.9L312.0 294.0L316.0 293.1L320.0 293.3L324.0 294.2L328.0 295.3L332.0 295.1L336.0 292.7L336.9 292.0L340.0 288.4L340.4 288.0L341.8 284.0L342.2 280.0L342.3 276.0L342.6 272.0L344.0 268.4L344.2 268.0L347.1 264.0Z" fill="rgb(0,255,140)" fill-rule="evenodd"/>
<path d="M446.7 152.0L448.0 151.0L452.0 149.6L456.0 149.1L460.0 149.6L463.2 152.0L463.3 156.0L461.9 160.0L460.0 163.5L459.6 164.0L456.0 166.5L452.0 167.6L448.0 166.2L446.7 164.0L445.6 160.0L445.5 156.0L446.7 152.0ZM496.7 184.0L500.0 181.1L504.0 181.8L506.7 184.0L508.0 185.3L509.5 188.0L510.8 192.0L511.2 196.0L511.0 200.0L510.5 204.0L509.8 208.0L508.7 212.0L508.0 213.6L506.7 216.0L504.0 219.0L501.9 220.0L500.0 220.6L496.0 220.5L493.9 220.0L492.0 219.4L488.0 217.6L486.1 216.0L484.8 212.0L485.0 208.0L485.9 204.0L487.6 200.0L488.0 199.3L490.4 196.0L492.0 193.4L493.0 192.0L494.9 188.0L496.0 184.9L496.7 184.0ZM309.2 300.0L312.0 298.0L316.0 296.7L320.0 297.4L324.0 299.6L324.8 300.0L328.0 303.6L328.3 304.0L329.2 308.0L328.8 312.0L328.0 314.6L327.5 316.0L324.7 320.0L324.0 320.7L320.4 324.0L320.0 324.4L316.0 326.7L312.0 326.7L308.4 324.0L308.0 323.4L306.2 320.0L304.8 316.0L304.0 312.1L304.0 312.0L304.0 311.8L304.5 308.0L306.1 304.0L308.0 301.7L309.2 300.0Z" fill="rgb(0,255,123)" fill-rule="evenodd"/>
<path d="M449.6 156.0L452.0 153.1L456.0 153.7L457.6 156.0L456.6 160.0L456.0 160.7L452.0 161.8L450.3 160.0L449.6 156.0ZM498.0 188.0L500.0 185.6L504.0 186.0L506.0 188.0L508.0 191.1L508.3 192.0L508.8 196.0L508.6 200.0L508.1 204.0L508.0 204.6L507.2 208.0L505.7 212.0L504.0 215.0L502.8 216.0L500.0 217.4L496.0 217.0L493.5 216.0L492.0 215.0L489.4 212.0L488.4 208.0L488.5 204.0L490.1 200.0L492.0 197.0L492.7 196.0L495.3 192.0L496.0 190.5L498.0 188.0ZM313.9 304.0L316.0 302.0L319.4 304.0L320.0 306.3L320.3 308.0L320.0 309.7L318.0 312.0L316.0 312.8L315.4 312.0L313.4 308.0L313.9 304.0Z" fill="rgb(0,255,106)" fill-rule="evenodd"/>
<path d="M499.1 192.0L500.0 190.9L504.0 191.2L504.6 192.0L505.7 196.0L505.8 200.0L505.3 204.0L504.2 208.0L504.0 208.4L500.9 212.0L500.0 212.8L496.0 212.2L495.7 212.0L492.7 208.0L492.0 205.3L491.8 204.0L492.0 203.4L493.1 200.0L495.6 196.0L496.0 195.3L499.1 192.0Z" fill="rgb(0,255,89)" fill-rule="evenodd"/>
<path d="M498.3 200.0L500.0 198.3L501.1 200.0L501.0 204.0L500.0 205.7L496.9 204.0L498.3 200.0Z" fill="rgb(0,255,72)" fill-rule="evenodd"/>
<path d="M476.8 148.2 L473.6 153.3 L471.1 158.5 L470.4 164.8 L471.1 170.0 L473.0 175.1 L475.6 180.2 L478.8 184.6 L480.4 189.1 L481.3 189.1 L482.6 186.6 L483.9 180.2 L486.4 175.7 L489.6 171.2 L492.8 166.1 L494.1 159.7 L496.0 153.3 L497.9 146.9 L499.2 140.6 L500.5 134.2 L499.2 131.0 L494.7 128.4 L490.9 129.7 L486.4 132.9 L483.2 137.4 L480.0 142.5ZM492.6 238.6 L493.9 238.1 L494.1 237.0 L493.9 235.9 L492.7 235.9 L491.6 236.3 L491.9 237.6ZM278.4 251.0 L282.0 254.0 L288.0 255.6 L294.0 256.0 L299.0 254.0 L303.0 251.0 L307.0 247.0 L311.0 243.0 L313.0 239.0 L315.0 235.0 L317.0 231.0 L316.0 227.0 L313.0 224.0 L308.0 224.4 L302.0 225.6 L296.0 226.0 L290.0 227.0 L285.0 229.0 L281.0 233.0 L278.0 237.0 L277.0 241.0 L277.0 246.0ZM491.7 246.1 L492.0 245.2 L491.7 244.3 L490.8 244.2 L489.8 244.6 L490.0 245.7 L490.7 246.6ZM120.1 442.4 L122.6 445.4 L125.7 449.4 L127.7 453.5 L131.2 455.5 L134.2 457.5 L138.3 460.5 L134.6 462.0 L136.0 470.0 L136.6 478.0 L138.0 484.0 L141.0 490.0 L142.0 497.0 L145.0 502.0 L148.0 508.0 L152.0 514.0 L154.0 520.0 L158.0 524.0 L163.0 528.0 L169.0 532.0 L175.0 536.0 L180.0 540.0 L185.0 544.0 L190.0 548.0 L195.0 549.0 L199.0 549.0 L202.0 547.0 L201.0 542.0 L199.0 536.0 L197.0 530.0 L193.0 525.0 L190.0 520.0 L188.0 514.0 L186.6 508.0 L187.0 502.0 L188.6 496.0 L188.0 490.0 L186.0 484.0 L183.0 479.0 L179.0 474.0 L173.0 470.0 L167.0 465.0 L162.0 461.0 L159.9 460.5 L157.9 457.5 L155.4 454.5 L152.4 454.5 L148.3 455.0 L144.3 452.5 L141.3 448.4 L138.8 444.4 L136.8 439.4 L135.7 434.3 L135.2 429.8 L132.7 427.3 L129.7 424.2 L128.7 418.2 L127.7 414.2 L125.2 413.1 L121.1 413.6 L118.6 412.6 L117.1 406.6 L115.6 403.6 L116.6 400.5 L116.6 395.0 L116.6 395.0 L118.0 390.0 L121.0 382.0 L123.0 374.0 L127.0 368.0 L130.0 364.0 L131.0 356.0 L131.0 347.0 L130.0 343.0 L135.0 339.0 L141.0 340.0 L147.0 340.4 L147.6 344.0 L146.0 348.0 L144.0 352.0 L146.0 354.4 L151.0 355.0 L156.0 355.0 L160.0 354.0 L164.0 357.0 L168.0 359.0 L171.0 363.0 L175.0 364.0 L178.0 367.0 L180.0 372.0 L183.0 377.0 L185.0 382.0 L188.0 384.0 L190.0 381.0 L193.0 383.0 L192.0 387.0 L190.0 390.0 L194.0 391.0 L199.0 393.0 L204.0 396.0 L209.0 398.0 L214.0 399.6 L215.8 402.0 L214.6 406.0 L213.8 412.0 L214.6 418.0 L211.0 424.0 L213.0 425.0 L217.0 422.4 L220.0 420.0 L226.0 416.0 L233.0 411.0 L239.0 408.0 L244.0 402.0 L249.0 396.0 L255.0 393.0 L261.0 390.0 L266.0 388.0 L266.0 385.0 L271.0 383.0 L276.0 380.0 L282.0 377.0 L285.0 372.0 L286.0 366.0 L287.0 359.0 L290.0 354.0 L289.0 348.0 L287.0 338.0 L286.0 330.0 L284.0 322.0 L282.0 314.0 L280.0 308.0 L276.0 303.0 L271.0 298.0 L266.0 294.0 L263.0 291.0 L258.0 287.0 L253.0 282.0 L249.0 276.0 L244.0 269.0 L240.0 264.0 L238.0 259.0 L234.0 256.0 L230.0 252.0 L227.0 247.0 L226.0 242.0 L228.0 236.0 L230.0 229.0 L233.0 224.0 L239.0 218.0 L241.0 211.0 L242.0 209.0 L243.0 206.0 L247.0 205.0 L251.0 203.0 L255.0 201.0 L259.0 198.0 L263.0 197.0 L266.0 197.0 L270.0 195.0 L274.0 192.0 L277.0 194.0 L281.0 195.0 L285.0 197.0 L289.0 197.0 L292.0 194.0 L296.0 197.0 L297.0 202.0 L298.0 208.0 L299.0 215.0 L300.0 220.0 L303.0 221.0 L307.0 220.0 L309.0 217.0 L308.4 212.0 L308.8 207.0 L309.6 203.0 L313.0 201.0 L318.0 198.0 L324.0 197.0 L328.0 195.0 L332.0 193.0 L336.0 192.0 L340.0 190.0 L343.0 193.0 L346.0 192.0 L348.0 189.0 L350.0 186.0 L349.0 181.0 L351.0 180.0 L354.0 185.0 L356.0 182.0 L357.0 175.0 L356.0 169.0 L359.0 169.0 L360.0 175.0 L362.0 179.0 L364.0 184.0 L366.0 182.0 L369.0 180.0 L372.0 183.0 L375.0 180.0 L378.0 177.0 L381.0 175.0 L384.0 176.0 L388.0 174.0 L392.0 175.0 L396.0 173.0 L402.0 172.0 L406.0 170.0 L409.0 167.0 L411.0 163.0 L414.0 162.0 L418.0 160.0 L421.0 159.0 L423.0 156.0 L427.0 153.0 L431.0 150.0 L433.0 145.0 L438.0 142.0 L442.0 140.0 L445.0 136.0 L449.0 134.0 L451.0 129.0 L454.0 124.0 L459.0 120.0 L461.0 115.0 L464.0 110.0 L461.0 106.0 L461.3 99.4 L465.9 97.8 L470.4 95.5 L474.9 90.3 L478.8 83.9 L484.0 76.1 L488.5 72.2 L493.7 68.3 L495.6 61.9 L497.6 55.4 L496.9 48.9 L500.2 43.8 L500.8 37.9 L501.0 37.0 L111.0 36.0 L111.0 435.0 L113.3 435.3 L116.1 434.8 L118.1 437.3ZM483.9 357.1 L485.2 360.3 L487.1 362.3 L489.7 360.3 L492.3 357.1 L493.6 353.2 L493.6 349.3 L492.3 346.1 L489.7 343.5 L485.8 341.6 L481.9 340.3 L477.4 339.6 L474.8 340.3 L476.8 342.9 L479.3 346.1 L481.3 350.0 L482.6 353.9ZM430.9 421.9 L435.4 417.4 L439.9 413.5 L443.8 409.6 L447.0 404.5 L450.3 400.6 L455.5 396.7 L459.3 394.1 L461.9 390.9 L461.9 387.6 L460.0 387.0 L456.7 388.9 L452.9 392.8 L447.7 398.0 L442.5 403.8 L437.3 409.6 L432.2 414.8 L427.0 419.3 L421.8 425.8 L417.3 434.9 L417.9 436.8 L419.2 432.9 L422.5 428.4 L426.3 425.2ZM416.6 446.5 L417.9 449.3 L418.7 449.3 L416.0 452.0 L413.0 453.0 L411.0 456.0 L409.0 460.0 L406.0 464.0 L402.0 468.0 L398.0 473.0 L394.0 476.0 L391.0 479.0 L394.0 483.0 L390.0 486.0 L386.0 485.0 L382.0 487.0 L379.0 489.0 L375.0 492.0 L372.0 495.0 L369.0 493.0 L366.0 497.0 L363.0 502.0 L359.0 507.0 L355.0 511.0 L351.0 515.0 L348.0 518.4 L343.0 519.6 L336.0 520.4 L330.0 522.0 L324.0 523.0 L321.0 524.0 L320.0 532.0 L319.0 539.0 L318.0 544.0 L314.0 543.0 L309.0 544.0 L306.0 541.0 L301.0 541.0 L296.0 542.0 L293.0 539.0 L291.0 537.0 L286.0 544.0 L283.0 550.0 L281.0 557.0 L283.0 558.0 L285.0 564.0 L286.0 570.0 L286.0 572.0 L426.0 572.0 L426.0 570.0 L428.0 565.0 L431.0 560.0 L435.0 556.0 L441.0 558.0 L447.0 557.0 L451.0 554.0 L448.0 550.0 L443.0 546.0 L438.0 541.0 L435.0 536.0 L432.0 532.0 L429.0 526.0 L428.0 520.0 L425.0 516.0 L427.0 511.0 L430.0 508.0 L427.0 504.0 L430.0 501.0 L433.0 499.0 L438.0 498.0 L443.0 497.0 L447.0 495.0 L445.0 493.0 L440.0 491.0 L438.0 488.0 L443.0 486.0 L449.0 485.0 L454.0 484.0 L456.0 481.0 L453.0 479.0 L447.0 476.0 L441.0 474.0 L435.0 472.0 L431.0 468.0 L428.0 462.0 L425.0 457.0 L421.0 452.0 L419.2 449.2 L421.2 449.1 L422.5 446.8 L419.9 445.2ZM469.0 483.6 L472.6 483.6 L475.0 481.0 L472.0 479.0 L468.0 481.0ZM269.6 510.2 L273.9 504.0 L269.0 498.7 L264.7 504.9ZM154.0 537.0 L155.3 540.4 L154.0 540.0 L150.0 536.0 L147.0 538.0 L145.0 535.0 L141.0 533.0 L136.0 529.0 L132.0 526.0 L130.0 522.0 L125.0 517.0 L119.0 512.0 L113.0 509.0 L111.0 509.0 L111.0 555.0 L113.5 556.0 L116.0 561.0 L121.0 566.0 L125.0 572.0 L194.0 572.0 L194.0 570.4 L190.0 568.0 L187.0 565.0 L184.0 563.0 L180.0 560.0 L178.1 557.8 L180.0 554.0 L176.0 549.0 L171.0 545.0 L167.2 545.8 L165.0 545.0 L161.0 542.0 L156.5 540.7 L159.0 541.0 L160.4 538.0 L158.0 535.6ZM501.6 234.8 L501.8 234.0 L501.6 233.2 L500.8 233.2 L500.0 233.5 L500.2 234.4 L500.7 235.2ZM475.4 280.0 L476.0 286.0 L474.2 284.0 L474.2 287.9 L474.8 291.8 L473.5 294.3 L470.3 294.3 L469.4 291.8 L468.3 290.5 L466.0 290.5 L465.1 291.8 L465.5 295.6 L466.4 300.8 L467.7 306.0 L469.0 311.2 L470.3 315.0 L472.2 317.6 L474.8 320.2 L477.4 322.8 L478.1 320.9 L477.4 318.3 L479.3 317.6 L482.6 318.3 L484.5 320.2 L483.9 324.1 L481.9 325.4 L480.0 327.3 L478.7 329.3 L479.3 331.9 L481.3 332.5 L479.3 333.8 L481.9 335.1 L485.2 336.4 L488.4 337.7 L491.0 337.0 L492.9 335.1 L495.5 333.2 L498.1 332.5 L500.0 333.5 L500.1 333.6 L503.3 336.2 L505.2 336.6 L505.9 337.0 L507.8 339.0 L509.7 341.6 L511.0 344.2 L511.5 344.2 L512.6 344.5 L512.7 344.2 L513.0 344.2 L513.0 343.0 L513.1 342.5 L513.0 342.0 L513.0 341.6 L512.6 340.5 L512.1 338.8 L511.6 335.7 L513.1 334.2 L515.0 334.5 L515.6 335.1 L517.5 337.0 L520.1 339.6 L522.7 342.2 L524.6 344.1 L526.1 347.1 L528.7 349.2 L529.3 349.3 L529.8 350.0 L531.7 352.6 L534.3 355.2 L535.4 355.4 L535.9 355.9 L536.4 355.7 L536.9 355.8 L537.1 355.4 L538.0 354.9 L538.5 352.3 L537.5 349.2 L539.6 348.2 L539.0 346.1 L537.8 345.4 L537.6 344.8 L536.6 344.6 L536.5 344.5 L533.8 343.8 L531.7 342.2 L530.1 340.6 L529.9 340.1 L531.1 338.3 L533.7 337.0 L535.6 335.7 L535.4 333.8 L534.6 334.0 L531.3 332.6 L527.1 332.1 L524.0 333.1 L521.4 332.6 L519.3 329.5 L516.7 326.4 L512.6 325.9 L509.5 327.4 L509.4 327.8 L509.1 328.0 L505.9 327.3 L503.3 326.0 L500.7 322.8 L497.5 319.6 L495.5 316.3 L494.2 312.5 L492.3 309.9 L492.9 306.0 L494.9 302.1 L495.5 298.2 L496.8 295.6 L500.7 293.7 L503.3 291.8 L505.2 289.2 L507.2 286.6 L508.5 284.0 L507.0 293.0 L509.0 288.0 L511.0 282.0 L510.0 276.0 L508.0 272.0 L506.0 268.0 L506.6 263.0 L508.0 258.0 L508.0 253.0 L506.0 251.0 L504.0 254.0 L500.0 255.6 L496.0 255.0 L492.0 253.0 L488.0 251.0 L484.0 250.0 L479.0 251.0 L477.0 256.0 L476.0 262.0 L475.4 268.0 L475.0 274.0ZM503.0 344.5 L503.9 342.0 L502.6 339.9 L502.3 339.9 L502.2 339.7 L500.1 340.1 L500.1 340.2 L499.7 340.3 L499.1 342.5 L500.4 344.8ZM503.3 360.6 L503.5 357.7 L503.3 354.9 L502.4 354.8 L501.6 356.0 L501.8 359.2 L502.4 361.9ZM510.8 360.4 L512.6 359.9 L513.0 359.0 L512.6 358.1 L510.9 358.1 L509.3 358.5 L509.6 359.5ZM525.6 360.6 L527.1 362.2 L529.7 363.7 L532.3 365.8 L534.9 368.4 L537.0 369.9 L537.5 368.9 L535.4 365.8 L532.8 363.2 L530.2 360.6 L528.2 358.5 L526.1 357.0 L523.5 357.5 L523.0 360.1 L521.4 362.7 L521.9 364.8 L523.5 362.7ZM502.5 391.7 L502.7 392.8 L505.3 390.7 L507.0 389.0 L509.0 388.0 L513.0 386.0 L517.0 383.0 L518.3 381.7 L518.8 381.4 L519.2 380.8 L520.0 380.0 L520.8 378.3 L520.9 378.2 L520.9 378.2 L522.0 376.0 L519.0 374.0 L513.0 373.0 L507.0 370.0 L506.8 370.0 L505.9 369.4 L504.8 369.6 L502.0 369.0 L502.6 376.0 L502.0 382.0 L501.0 388.0 L502.0 392.0ZM516.0 412.0 L520.0 415.0 L522.0 410.0 L523.0 404.0 L524.0 398.0 L526.0 392.0 L527.0 387.0 L523.0 385.0 L518.0 386.0 L517.0 392.0 L516.0 398.0 L513.0 401.0 L509.0 403.0 L512.0 408.0ZM498.0 459.0 L500.6 462.0 L504.6 461.0 L504.8 459.7 L505.3 457.9 L503.0 456.4 L501.6 457.2 L501.0 457.0ZM487.0 559.6 L493.0 560.0 L499.0 561.0 L505.0 560.0 L511.0 561.0 L517.0 562.0 L523.0 563.0 L529.0 564.4 L535.0 565.0 L541.0 563.0 L546.0 560.0 L549.0 556.0 L552.0 552.0 L555.0 548.0 L557.0 544.0 L554.0 542.0 L550.0 543.0 L547.0 546.0 L544.0 549.0 L541.0 552.0 L537.0 554.0 L531.0 555.0 L525.0 556.0 L519.0 555.6 L513.0 555.0 L507.0 554.0 L501.0 553.0 L494.0 552.0 L492.0 550.0 L487.0 549.0 L483.0 548.0 L479.0 552.0 L474.0 554.0 L472.0 558.0 L468.0 564.0 L467.0 572.0 L470.0 572.0 L472.0 566.0 L476.0 563.0 L481.0 561.0ZM621.1 83.5 L621.5 81.6 L621.1 79.7 L619.7 79.7 L618.2 80.5 L618.5 82.5 L619.5 84.4ZM539.6 330.5 L537.0 331.6 L537.0 335.7 L538.0 338.3 L540.6 338.3 L542.7 335.7 L542.2 332.6ZM552.0 368.9 L553.6 372.5 L555.1 376.2 L556.7 379.3 L556.7 383.4 L558.2 387.6 L560.3 389.1 L561.6 387.6 L561.1 383.4 L561.9 379.8 L562.4 376.2 L561.4 372.0 L561.9 367.9 L560.8 363.7 L558.8 360.6 L557.2 357.5 L554.1 355.9 L549.9 356.5 L544.8 357.5 L540.6 357.0 L541.6 359.0 L544.2 361.1 L547.3 363.2 L549.9 365.8ZM546.8 392.8 L547.9 398.0 L549.9 399.0 L550.7 397.4 L551.0 398.0 L554.0 399.0 L556.0 395.0 L554.0 390.0 L553.3 388.0 L553.1 385.0 L552.5 380.3 L552.0 377.2 L548.9 378.2 L548.5 378.5 L546.0 376.0 L545.3 375.6 L545.8 374.1 L543.7 372.5 L541.1 374.1 L541.1 377.2 L542.2 380.3 L542.7 385.0 L544.8 388.6ZM527.0 404.0 L530.0 398.0 L533.0 392.0 L536.0 386.0 L538.0 380.0 L536.0 378.0 L534.0 382.0 L531.0 389.0 L528.0 396.0 L526.0 402.0 L525.0 408.0ZM541.0 399.0 L540.8 399.0 L538.4 398.5 L536.3 399.8 L535.0 400.0 L533.0 403.0 L534.0 406.0 L539.0 408.0 L544.0 406.0 L545.0 402.0 L542.6 400.2 L542.1 399.3 L541.1 399.1ZM551.2 418.8 L549.7 422.6 L547.4 424.8 L544.4 424.4 L541.4 425.6 L539.1 428.6 L535.4 431.6 L533.1 430.9 L532.4 427.9 L530.9 424.8 L527.9 423.8 L524.1 424.8 L521.1 426.4 L519.6 428.6 L518.8 431.6 L515.1 432.8 L511.3 433.1 L507.6 434.6 L505.3 437.6 L503.8 441.4 L501.5 445.2 L500.8 449.7 L502.3 452.7 L504.5 451.9 L506.1 448.9 L507.6 445.2 L509.8 441.4 L512.1 439.1 L514.3 441.4 L515.8 444.4 L518.8 442.9 L521.1 440.6 L523.3 441.4 L525.6 439.9 L527.1 436.1 L529.4 433.1 L530.9 436.1 L533.1 438.4 L536.1 440.6 L538.4 442.9 L540.6 445.2 L539.1 448.2 L536.9 451.9 L536.1 455.7 L536.9 459.4 L539.1 463.2 L542.1 466.2 L545.9 468.5 L549.7 470.0 L553.4 471.5 L555.7 470.7 L557.2 473.7 L559.4 476.0 L561.7 472.2 L563.9 468.5 L564.7 464.7 L563.2 462.4 L560.9 460.2 L559.4 457.2 L560.2 454.2 L562.4 451.2 L563.9 448.2 L565.5 445.9 L567.0 448.2 L569.2 451.2 L571.5 454.2 L572.2 458.7 L573.4 462.4 L574.5 460.2 L575.2 455.7 L576.7 452.7 L579.0 449.7 L580.5 445.9 L580.5 441.4 L579.0 437.6 L577.5 434.6 L576.7 430.1 L576.0 425.6 L574.5 421.1 L572.2 416.6 L570.0 412.8 L567.0 410.6 L563.2 407.6 L560.2 404.5 L560.2 407.6 L560.9 411.3 L560.2 415.1 L557.2 417.3 L553.4 417.3ZM582.0 494.0 L582.6 500.0 L582.2 506.0 L584.0 507.0 L585.0 500.0 L584.4 493.0ZM559.4 508.0 L559.0 511.0 L561.0 513.0 L564.0 511.0 L563.0 507.0ZM614.6 528.0 L611.0 526.0 L608.6 528.4 L607.8 532.4 L609.4 536.0 L613.0 535.6 L615.0 532.0ZM597.0 564.0 L598.0 572.0 L601.4 572.0 L602.0 568.0 L604.0 565.0 L609.0 565.0 L615.0 567.0 L621.0 568.0 L617.0 565.0 L613.0 563.0 L609.0 561.0 L605.0 560.4 L607.0 559.0 L611.0 556.0 L615.0 552.0 L616.0 547.0 L614.0 544.0 L611.0 545.0 L608.0 549.0 L605.0 553.0 L601.0 558.0 L598.0 554.4 L600.0 550.0 L602.0 545.0 L604.0 540.0 L603.0 535.0 L600.0 534.0 L598.0 538.0 L596.0 544.0 L595.0 551.0 L595.0 555.0 L596.0 559.0Z" fill="none" stroke="#0040ff" stroke-width="5" stroke-opacity="0.65" stroke-linejoin="round" filter="url(#hb)"/>
<path d="M500.8 37.9 L500.2 43.8 L496.9 48.9 L497.6 55.4 L495.6 61.9 L493.7 68.3 L488.5 72.2 L484.0 76.1 L478.8 83.9 L474.9 90.3 L470.4 95.5 L465.9 97.8 L461.3 99.4 L461.0 106.0 L464.0 110.0 L461.0 115.0 L459.0 120.0 L454.0 124.0 L451.0 129.0 L449.0 134.0 L445.0 136.0 L442.0 140.0 L438.0 142.0 L433.0 145.0 L431.0 150.0 L427.0 153.0 L423.0 156.0 L421.0 159.0 L418.0 160.0 L414.0 162.0 L411.0 163.0 L409.0 167.0 L406.0 170.0 L402.0 172.0 L396.0 173.0 L392.0 175.0 L388.0 174.0 L384.0 176.0 L381.0 175.0 L378.0 177.0 L375.0 180.0 L372.0 183.0 L369.0 180.0 L366.0 182.0 L364.0 184.0 L362.0 179.0 L360.0 175.0 L359.0 169.0 L356.0 169.0 L357.0 175.0 L356.0 182.0 L354.0 185.0 L351.0 180.0 L349.0 181.0 L350.0 186.0 L348.0 189.0 L346.0 192.0 L343.0 193.0 L340.0 190.0 L336.0 192.0 L332.0 193.0 L328.0 195.0 L324.0 197.0 L318.0 198.0 L313.0 201.0 L309.6 203.0 L308.8 207.0 L308.4 212.0 L309.0 217.0 L307.0 220.0 L303.0 221.0 L300.0 220.0 L299.0 215.0 L298.0 208.0" fill="none" stroke="#0030ff" stroke-width="7.5" stroke-opacity="0.8" stroke-linejoin="round" filter="url(#hb)"/>
<path d="M111 428 L122 428 L135 445 L155 470 L165 505 L188 535 L197 547 L203 553 L200 572 L111 572Z" fill="#00064e"/>
<path d="M111 553L127 572L111 572Z" fill="#00064e"/>
<path d="M130.5 38V570M214.5 38V570M299.5 38V570M383.5 38V570M468.5 38V570M552.5 38V570M637.5 38V570M113 570.5H637M113 485.5H637M113 400.5H637M113 314.5H637M113 225.5H637M113 133.5H637M113 38.5H637" stroke="#000" stroke-width="1" fill="none" shape-rendering="crispEdges"/>
<path d="M130.4 400.6L120.0 412.1M121.0 407.4L120.0 412.1L124.5 410.6M130.4 383.4L119.9 394.8M120.9 390.2L119.9 394.8L124.5 393.4M147.3 434.9L132.7 440.1M135.8 436.5L132.7 440.1L137.5 441.0M147.3 417.8L133.9 425.5M136.3 421.3L133.9 425.5L138.7 425.5M147.3 400.6L138.9 413.7M139.1 408.9L138.9 413.7L143.2 411.5M147.3 383.4L136.9 394.9M137.9 390.3L136.9 394.9L141.5 393.5M147.3 366.2L133.5 373.3M136.1 369.2L133.5 373.3L138.3 373.5M164.2 451.9L149.9 458.0M152.8 454.1L149.9 458.0L154.7 458.6M164.2 434.9L149.7 440.3M152.7 436.6L149.7 440.3L154.4 441.1M164.2 417.8L149.9 423.7M152.8 419.9L149.9 423.7L154.6 424.3M164.2 400.6L153.3 411.6M154.5 407.0L153.3 411.6L157.9 410.4M164.2 383.4L153.4 394.6M154.6 389.9L153.4 394.6L158.0 393.3M164.2 366.2L151.6 375.2M153.6 370.9L151.6 375.2L156.4 374.8M181.1 451.9L167.1 458.5M169.8 454.5L167.1 458.5L171.8 458.9M181.1 434.9L166.7 440.7M169.7 436.9L166.7 440.7L171.5 441.4M181.1 417.8L167.7 425.5M170.1 421.4L167.7 425.5L172.5 425.5M181.1 400.6L171.2 412.6M172.0 407.8L171.2 412.6L175.7 410.9M198.0 519.8L186.3 530.0M187.9 525.5L186.3 530.0L191.1 529.1M198.0 502.8L185.9 512.6M187.7 508.1L185.9 512.6L190.7 511.8M198.0 485.9L185.2 494.7M187.3 490.4L185.2 494.7L190.0 494.3M198.0 468.9L184.8 477.1M187.1 472.9L184.8 477.1L189.6 476.9M198.0 451.9L184.3 459.2M186.9 455.1L184.3 459.2L189.1 459.3M198.0 434.9L184.0 441.4M186.7 437.5L184.0 441.4L188.7 441.8M198.0 417.8L184.0 424.4M186.7 420.5L184.0 424.4L188.8 424.8M198.0 400.6L186.0 410.5M187.7 406.0L186.0 410.5L190.8 409.7M214.9 570.5L207.7 584.2M207.5 579.4L207.7 584.2L211.7 581.7M214.9 553.6L207.1 567.0M207.1 562.2L207.1 567.0L211.2 564.6M214.9 536.7L207.0 550.1M207.1 545.3L207.0 550.1L211.2 547.7M214.9 519.8L204.5 531.3M205.5 526.6L204.5 531.3L209.1 529.8M214.9 502.8L203.4 513.2M204.9 508.6L203.4 513.2L208.1 512.2M214.9 485.9L202.1 494.6M204.2 490.3L202.1 494.6L206.9 494.2M214.9 468.9L201.2 476.2M203.8 472.2L201.2 476.2L206.0 476.4M214.9 451.9L200.9 458.5M203.6 454.6L200.9 458.5L205.7 458.9M214.9 434.9L201.0 441.7M203.7 437.7L201.0 441.7L205.8 442.0M231.8 570.5L225.5 584.6M225.0 579.9L225.5 584.6L229.4 581.8M231.8 553.6L224.1 567.1M224.1 562.3L224.1 567.1L228.2 564.6M231.8 536.7L222.5 549.1M223.1 544.3L222.5 549.1L226.9 547.2M231.8 519.8L220.4 530.3M221.8 525.7L220.4 530.3L225.1 529.2M231.8 502.8L220.9 513.8M222.1 509.2L220.9 513.8L225.5 512.6M231.8 485.9L220.3 496.2M221.8 491.7L220.3 496.2L225.0 495.3M231.8 468.9L219.4 478.2M221.3 473.8L219.4 478.2L224.2 477.6M231.8 451.9L218.1 459.2M220.7 455.1L218.1 459.2L222.9 459.4M231.8 434.9L218.2 442.4M220.7 438.3L218.2 442.4L223.0 442.5M248.7 570.5L243.8 585.2M242.8 580.5L243.8 585.2L247.4 582.0M248.7 553.6L244.1 568.4M243.0 563.7L244.1 568.4L247.6 565.1M248.7 536.7L241.4 550.4M241.2 545.6L241.4 550.4L245.5 547.8M248.7 519.8L240.0 532.6M240.3 527.8L240.0 532.6L244.3 530.5M248.7 502.8L240.4 515.9M240.6 511.1L240.4 515.9L244.6 513.7M248.7 485.9L237.7 496.9M239.0 492.2L237.7 496.9L242.4 495.6M248.7 468.9L237.2 479.3M238.7 474.7L237.2 479.3L241.9 478.3M248.7 451.9L235.7 460.4M237.9 456.1L235.7 460.4L240.5 460.1M248.7 434.9L236.0 443.7M238.0 439.4L236.0 443.7L240.8 443.3M248.7 417.8L235.3 425.5M237.7 421.4L235.3 425.5L240.1 425.5M248.7 261.2L239.8 273.9M240.2 269.1L239.8 273.9L244.2 271.8M248.7 243.3L239.9 256.1M240.3 251.3L239.9 256.1L244.2 254.0M248.7 225.4L242.0 239.4M241.7 234.6L242.0 239.4L246.0 236.7M265.6 570.5L261.4 585.4M260.2 580.8L261.4 585.4L264.9 582.1M265.6 553.6L261.0 568.4M259.9 563.7L261.0 568.4L264.5 565.1M265.6 536.7L259.5 550.9M258.9 546.2L259.5 550.9L263.3 548.1M265.6 519.8L254.8 530.9M256.0 526.3L254.8 530.9L259.4 529.6M265.6 485.9L254.4 496.6M255.7 492.0L254.4 496.6L259.1 495.5M265.6 468.9L256.0 481.1M256.7 476.3L256.0 481.1L260.5 479.3M265.6 451.9L254.3 462.5M255.7 457.9L254.3 462.5L259.0 461.4M265.6 434.9L253.9 445.1M255.5 440.5L253.9 445.1L258.6 444.1M265.6 417.8L252.9 426.7M254.9 422.3L252.9 426.7L257.7 426.3M265.6 400.6L252.1 408.2M254.5 404.1L252.1 408.2L256.9 408.3M265.6 278.9L256.0 291.1M256.7 286.3L256.0 291.1L260.5 289.3M265.6 261.2L256.1 273.4M256.7 268.6L256.1 273.4L260.5 271.6M265.6 243.3L256.7 256.0M257.1 251.3L256.7 256.0L261.0 254.0M265.6 225.4L257.4 238.6M257.6 233.8L257.4 238.6L261.6 236.3M265.6 207.4L259.0 221.4M258.6 216.6L259.0 221.4L262.9 218.7M282.5 570.5L279.0 585.6M277.6 581.0L279.0 585.6L282.3 582.1M282.5 536.7L275.9 550.7M275.5 546.0L275.9 550.7L279.9 548.0M282.5 519.8L273.9 532.7M274.2 527.9L273.9 532.7L278.2 530.5M282.5 502.8L273.9 515.8M274.2 511.0L273.9 515.8L278.2 513.6M282.5 485.9L275.2 499.6M275.0 494.8L275.2 499.6L279.3 497.0M282.5 468.9L275.5 482.7M275.2 477.9L275.5 482.7L279.5 480.1M282.5 451.9L274.3 465.1M274.5 460.3L274.3 465.1L278.6 462.8M282.5 434.9L274.0 447.8M274.3 443.0L274.0 447.8L278.3 445.7M282.5 417.8L272.7 429.8M273.5 425.1L272.7 429.8L277.2 428.1M282.5 400.6L270.0 409.8M271.9 405.4L270.0 409.8L274.8 409.3M282.5 383.4L268.9 390.9M271.4 386.8L268.9 390.9L273.7 391.0M282.5 296.5L272.8 308.6M273.5 303.9L272.8 308.6L277.3 306.9M282.5 278.9L272.5 290.7M273.3 286.0L272.5 290.7L277.0 289.1M282.5 261.2L272.2 272.8M273.2 268.1L272.2 272.8L276.8 271.2M282.5 225.4L273.0 237.6M273.6 232.9L273.0 237.6L277.4 235.8M282.5 207.4L273.6 220.1M274.0 215.3L273.6 220.1L278.0 218.0M299.4 536.7L294.5 551.4M293.5 546.7L294.5 551.4L298.1 548.2M299.4 519.8L293.9 534.3M293.1 529.5L293.9 534.3L297.6 531.2M299.4 502.8L295.0 517.7M293.9 513.1L295.0 517.7L298.5 514.4M299.4 485.9L295.1 500.8M293.9 496.1L295.1 500.8L298.5 497.5M299.4 468.9L296.4 484.1M294.8 479.6L296.4 484.1L299.5 480.5M299.4 451.9L296.1 467.1M294.6 462.5L296.1 467.1L299.3 463.5M299.4 434.9L295.0 449.7M293.9 445.0L295.0 449.7L298.5 446.4M299.4 417.8L295.3 432.7M294.1 428.1L295.3 432.7L298.7 429.3M299.4 400.6L292.8 414.7M292.4 409.9L292.8 414.7L296.7 411.9M299.4 383.4L290.7 396.3M291.0 391.5L290.7 396.3L295.0 394.2M299.4 366.2L290.2 378.7M290.7 373.9L290.2 378.7L294.6 376.8M299.4 348.9L289.1 360.4M290.0 355.7L289.1 360.4L293.6 358.9M299.4 331.5L289.6 343.5M290.4 338.8L289.6 343.5L294.1 341.8M299.4 314.1L289.7 326.1M290.4 321.4L289.7 326.1L294.1 324.4M299.4 296.5L289.6 308.6M290.4 303.8L289.6 308.6L294.1 306.8M299.4 278.9L289.0 290.4M290.0 285.7L289.0 290.4L293.6 288.9M299.4 261.2L288.4 272.1M289.7 267.5L288.4 272.1L293.0 270.9M316.3 519.8L314.1 535.1M312.3 530.7L314.1 535.1L317.0 531.3M316.3 502.8L312.1 517.8M310.9 513.1L312.1 517.8L315.5 514.4M316.3 485.9L311.1 500.5M310.2 495.8L311.1 500.5L314.7 497.4M316.3 468.9L313.3 484.1M311.8 479.6L313.3 484.1L316.5 480.5M316.3 451.9L314.1 467.3M312.3 462.8L314.1 467.3L317.1 463.5M316.3 434.9L313.9 450.2M312.2 445.7L313.9 450.2L316.9 446.4M316.3 417.8L313.7 433.0M312.0 428.5L313.7 433.0L316.7 429.4M316.3 400.6L312.8 415.7M311.4 411.1L312.8 415.7L316.1 412.2M316.3 383.4L309.8 397.5M309.3 392.7L309.8 397.5L313.7 394.7M316.3 366.2L306.6 378.3M307.3 373.5L306.6 378.3L311.1 376.5M316.3 348.9L305.4 359.9M306.6 355.3L305.4 359.9L310.0 358.6M316.3 331.5L306.9 343.9M307.5 339.1L306.9 343.9L311.4 342.0M316.3 314.1L307.0 326.4M307.6 321.7L307.0 326.4L311.4 324.6M316.3 296.5L306.9 308.9M307.5 304.1L306.9 308.9L311.3 307.0M316.3 278.9L305.4 289.9M306.6 285.2L305.4 289.9L310.0 288.6M316.3 261.2L305.0 271.7M306.4 267.1L305.0 271.7L309.6 270.7M316.3 243.3L304.4 253.3M306.1 248.8L304.4 253.3L309.1 252.5M316.3 207.4L303.9 216.7M305.8 212.3L303.9 216.7L308.7 216.1M333.2 502.8L330.0 518.0M328.5 513.4L330.0 518.0L333.2 514.4M333.2 485.9L329.0 500.8M327.8 496.1L329.0 500.8L332.4 497.5M333.2 468.9L330.2 484.1M328.7 479.6L330.2 484.1L333.4 480.5M333.2 451.9L331.1 467.3M329.3 462.8L331.1 467.3L334.0 463.5M333.2 434.9L331.6 450.3M329.6 445.9L331.6 450.3L334.4 446.4M333.2 417.8L331.8 433.2M329.8 428.9L331.8 433.2L334.6 429.3M333.2 400.6L330.8 416.0M329.1 411.5L330.8 416.0L333.8 412.2M333.2 383.4L329.9 398.6M328.4 394.0L329.9 398.6L333.1 395.0M333.2 366.2L324.5 379.1M324.9 374.3L324.5 379.1L328.9 377.0M333.2 348.9L322.8 360.4M323.8 355.7L322.8 360.4L327.4 358.9M333.2 331.5L323.4 343.5M324.2 338.8L323.4 343.5L327.9 341.8M333.2 314.1L323.4 326.1M324.2 321.4L323.4 326.1L327.9 324.4M333.2 296.5L322.8 308.1M323.8 303.4L322.8 308.1L327.4 306.6M333.2 278.9L322.4 290.0M323.6 285.4L322.4 290.0L327.0 288.7M333.2 261.2L322.0 271.8M323.3 267.2L322.0 271.8L326.6 270.7M333.2 243.3L321.5 253.5M323.1 249.0L321.5 253.5L326.2 252.6M333.2 225.4L321.0 234.9M322.8 230.5L321.0 234.9L325.7 234.3M333.2 207.4L320.1 215.6M322.3 211.4L320.1 215.6L324.9 215.4M350.1 502.8L347.7 518.2M345.9 513.7L347.7 518.2L350.7 514.4M350.1 485.9L346.9 501.1M345.4 496.5L346.9 501.1L350.1 497.5M350.1 468.9L347.9 484.3M346.1 479.8L347.9 484.3L350.9 480.5M350.1 451.9L349.0 467.4M346.9 463.0L349.0 467.4L351.7 463.4M350.1 434.9L349.0 450.3M346.9 446.0L349.0 450.3L351.7 446.3M350.1 417.8L349.5 433.3M347.3 429.0L349.5 433.3L352.1 429.2M350.1 400.6L350.1 416.1M347.7 412.0L350.1 416.1L352.5 412.0M350.1 383.4L348.9 398.9M346.8 394.6L348.9 398.9L351.6 394.9M350.1 366.2L340.8 378.6M341.4 373.9L340.8 378.6L345.2 376.7M350.1 348.9L338.6 359.3M340.1 354.8L338.6 359.3L343.3 358.3M350.1 331.5L340.3 343.5M341.1 338.8L340.3 343.5L344.8 341.8M350.1 314.1L340.3 326.1M341.1 321.3L340.3 326.1L344.8 324.4M350.1 296.5L339.7 308.0M340.7 303.3L339.7 308.0L344.3 306.5M350.1 278.9L339.3 290.0M340.5 285.4L339.3 290.0L343.9 288.7M350.1 261.2L339.1 272.1M340.4 267.5L339.1 272.1L343.8 270.9M350.1 243.3L338.5 253.6M340.0 249.1L338.5 253.6L343.2 252.7M350.1 225.4L337.7 234.7M339.6 230.3L337.7 234.7L342.4 234.1M350.1 207.4L336.7 215.1M339.1 211.0L336.7 215.1L341.5 215.1M367.0 485.9L365.1 501.3M363.2 496.9L365.1 501.3L368.0 497.4M367.0 468.9L365.9 484.4M363.8 480.1L365.9 484.4L368.6 480.4M367.0 451.9L365.9 467.4M363.8 463.1L365.9 467.4L368.6 463.4M367.0 434.9L366.4 450.3M364.1 446.1L366.4 450.3L368.9 446.3M367.0 417.8L366.5 433.3M364.2 429.0L366.5 433.3L369.0 429.2M367.0 400.6L367.0 416.1M364.6 412.0L367.0 416.1L369.4 412.0M367.0 383.4L364.7 398.8M363.0 394.3L364.7 398.8L367.7 395.0M367.0 366.2L356.7 377.8M357.7 373.1L356.7 377.8L361.3 376.3M367.0 348.9L355.0 358.7M356.7 354.2L355.0 358.7L359.7 357.9M367.0 331.5L355.0 341.3M356.7 336.8L355.0 341.3L359.7 340.5M367.0 314.1L356.0 325.0M357.3 320.4L356.0 325.0L360.7 323.8M367.0 296.5L356.1 307.5M357.3 302.9L356.1 307.5L360.7 306.2M367.0 278.9L356.1 289.9M357.3 285.3L356.1 289.9L360.7 288.6M367.0 261.2L355.8 271.9M357.1 267.2L355.8 271.9L360.4 270.7M367.0 243.3L355.5 253.7M357.0 249.1L355.5 253.7L360.2 252.7M367.0 225.4L354.8 234.9M356.6 230.5L354.8 234.9L359.5 234.3M367.0 207.4L353.6 215.2M356.0 211.0L353.6 215.2L358.4 215.1M367.0 189.2L353.4 196.6M355.9 192.5L353.4 196.6L358.2 196.7M383.9 468.9L382.8 484.4M380.7 480.1L382.8 484.4L385.5 480.4M383.9 451.9L383.9 467.4M381.5 463.2L383.9 467.4L386.3 463.3M383.9 434.9L383.3 450.3M381.1 446.1L383.3 450.3L385.9 446.3M383.9 417.8L383.4 433.3M381.2 429.0L383.4 433.3L386.0 429.2M383.9 400.6L383.8 416.1M381.4 412.0L383.8 416.1L386.2 412.0M383.9 383.4L379.3 398.2M378.2 393.6L379.3 398.2L382.8 395.0M383.9 366.2L374.1 378.2M374.9 373.5L374.1 378.2L378.6 376.5M383.9 348.9L371.9 358.7M373.6 354.2L371.9 358.7L376.6 357.9M383.9 331.5L372.4 341.9M373.9 337.3L372.4 341.9L377.1 340.9M383.9 314.1L373.0 325.0M374.2 320.4L373.0 325.0L377.6 323.8M383.9 296.5L373.0 307.5M374.2 302.9L373.0 307.5L377.6 306.3M383.9 278.9L373.3 290.2M374.4 285.5L373.3 290.2L377.9 288.8M383.9 261.2L372.7 271.9M374.1 267.3L372.7 271.9L377.4 270.8M383.9 243.3L372.5 253.8M373.9 249.3L372.5 253.8L377.2 252.8M383.9 225.4L371.9 235.2M373.6 230.7L371.9 235.2L376.6 234.4M383.9 207.4L371.1 216.2M373.2 211.9L371.1 216.2L375.9 215.8M383.9 189.2L370.5 197.0M372.9 192.8L370.5 197.0L375.3 197.0M400.8 451.9L397.4 467.0M396.0 462.4L397.4 467.0L400.6 463.5M400.8 434.9L398.5 450.2M396.8 445.7L398.5 450.2L401.5 446.4M400.8 417.8L399.4 433.2M397.4 428.9L399.4 433.2L402.2 429.3M400.8 400.6L396.5 415.5M395.3 410.9L396.5 415.5L400.0 412.2M400.8 383.4L389.4 394.0M390.8 389.4L389.4 394.0L394.1 392.9M400.8 366.2L389.3 376.6M390.8 372.0L389.3 376.6L394.0 375.6M400.8 348.9L390.4 360.4M391.4 355.7L390.4 360.4L395.0 358.9M400.8 331.5L392.1 344.3M392.4 339.5L392.1 344.3L396.4 342.2M400.8 314.1L393.5 327.7M393.3 322.9L393.5 327.7L397.5 325.2M400.8 296.5L393.7 310.3M393.5 305.5L393.7 310.3L397.7 307.7M400.8 278.9L391.5 291.3M392.1 286.5L391.5 291.3L395.9 289.4M400.8 261.2L389.9 272.1M391.1 267.5L389.9 272.1L394.5 270.9M400.8 243.3L389.5 254.0M390.9 249.4L389.5 254.0L394.2 252.9M400.8 225.4L389.3 235.8M390.8 231.2L389.3 235.8L394.0 234.8M400.8 207.4L388.8 217.2M390.5 212.7L388.8 217.2L393.6 216.4M400.8 189.2L388.6 198.7M390.4 194.3L388.6 198.7L393.3 198.1M417.7 417.8L414.9 433.0M413.3 428.5L414.9 433.0L418.0 429.4M417.7 400.6L412.0 415.1M411.3 410.3L412.0 415.1L415.8 412.1M417.7 383.4L405.4 392.9M407.2 388.5L405.4 392.9L410.2 392.3M417.7 366.2L406.2 376.6M407.7 372.0L406.2 376.6L410.9 375.6M417.7 348.9L408.4 361.3M409.0 356.5L408.4 361.3L412.8 359.4M417.7 331.5L410.4 345.2M410.2 340.4L410.4 345.2L414.5 342.6M417.7 314.1L412.1 328.5M411.4 323.8L412.1 328.5L415.8 325.5M417.7 296.5L412.8 311.2M411.8 306.5L412.8 311.2L416.4 308.0M417.7 278.9L408.9 291.7M409.3 286.9L408.9 291.7L413.2 289.6M417.7 261.2L407.1 272.5M408.2 267.8L407.1 272.5L411.7 271.1M417.7 243.3L406.6 254.2M407.9 249.5L406.6 254.2L411.3 253.0M417.7 225.4L406.5 236.2M407.9 231.6L406.5 236.2L411.2 235.0M417.7 207.4L406.4 218.0M407.8 213.4L406.4 218.0L411.0 216.9M417.7 189.2L405.9 199.3M407.5 194.7L405.9 199.3L410.6 198.4M417.7 170.9L404.6 179.2M406.8 175.0L404.6 179.2L409.4 179.0M434.6 570.5L420.6 577.1M423.3 573.2L420.6 577.1L425.4 577.5M434.6 519.8L419.5 523.2M423.0 519.9L419.5 523.2L424.1 524.6M434.6 502.8L419.7 507.0M423.0 503.6L419.7 507.0L424.3 508.2M434.6 451.9L422.0 460.9M424.0 456.5L422.0 460.9L426.7 460.4M434.6 434.9L424.6 446.7M425.4 442.0L424.6 446.7L429.1 445.1M434.6 400.6L426.2 413.7M426.5 408.9L426.2 413.7L430.5 411.5M434.6 383.4L422.3 392.9M424.2 388.5L422.3 392.9L427.1 392.3M434.6 366.2L424.1 377.6M425.2 372.9L424.1 377.6L428.7 376.2M434.6 348.9L427.4 362.6M427.2 357.8L427.4 362.6L431.4 360.0M434.6 331.5L428.6 345.8M428.0 341.1L428.6 345.8L432.4 342.9M434.6 314.1L429.0 328.5M428.2 323.7L429.0 328.5L432.7 325.5M434.6 296.5L427.8 310.5M427.5 305.7L427.8 310.5L431.8 307.8M434.6 278.9L424.3 290.5M425.3 285.8L424.3 290.5L428.9 289.0M434.6 261.2L423.8 272.3M425.0 267.7L423.8 272.3L428.4 271.0M434.6 243.3L423.7 254.3M424.9 249.7L423.7 254.3L428.3 253.1M434.6 225.4L423.6 236.4M424.9 231.7L423.6 236.4L428.3 235.1M434.6 207.4L423.8 218.5M425.0 213.8L423.8 218.5L428.4 217.2M434.6 189.2L424.2 200.7M425.2 196.0L424.2 200.7L428.8 199.2M434.6 170.9L423.6 181.9M424.9 177.2L423.6 181.9L428.3 180.6M451.5 570.5L436.2 572.8M439.9 569.8L436.2 572.8L440.6 574.5M451.5 536.7L436.0 537.3M440.1 534.7L436.0 537.3L440.3 539.5M451.5 519.8L436.0 520.3M440.1 517.8L436.0 520.3L440.2 522.6M451.5 502.8L436.0 503.4M440.1 500.9L436.0 503.4L440.3 505.7M451.5 468.9L437.2 475.0M440.1 471.2L437.2 475.0L442.0 475.6M451.5 451.9L438.2 459.8M440.5 455.6L438.2 459.8L443.0 459.7M451.5 434.9L438.8 443.8M440.9 439.4L438.8 443.8L443.6 443.4M451.5 417.8L441.4 429.5M442.3 424.8L441.4 429.5L445.9 427.9M451.5 383.4L438.4 391.8M440.6 387.5L438.4 391.8L443.2 391.6M451.5 366.2L441.6 378.2M442.4 373.4L441.6 378.2L446.1 376.5M451.5 348.9L447.3 363.8M446.1 359.2L447.3 363.8L450.8 360.5M451.5 331.5L446.6 346.2M445.7 341.5L446.6 346.2L450.2 343.0M451.5 314.1L445.9 328.5M445.2 323.8L445.9 328.5L449.6 325.5M451.5 296.5L444.9 310.5M444.5 305.8L444.9 310.5L448.8 307.8M451.5 278.9L442.3 291.4M442.8 286.6L442.3 291.4L446.7 289.4M451.5 261.2L441.0 272.6M442.0 267.9L441.0 272.6L445.6 271.1M451.5 243.3L440.5 254.3M441.8 249.7L440.5 254.3L445.2 253.1M451.5 225.4L440.5 236.4M441.8 231.7L440.5 236.4L445.2 235.1M451.5 207.4L440.6 218.4M441.8 213.7L440.6 218.4L445.2 217.1M451.5 189.2L441.1 200.7M442.1 196.0L441.1 200.7L445.7 199.2M451.5 170.9L441.9 183.1M442.6 178.3L441.9 183.1L446.3 181.3M451.5 152.5L440.6 163.5M441.8 158.8L440.6 163.5L445.2 162.2M468.4 553.6L453.0 555.3M456.9 552.5L453.0 555.3L457.4 557.2M468.4 536.7L452.9 537.3M457.0 534.7L452.9 537.3L457.2 539.5M468.4 519.8L452.9 520.3M457.0 517.8L452.9 520.3L457.1 522.6M468.4 502.8L452.9 503.9M456.9 501.2L452.9 503.9L457.3 506.0M468.4 468.9L453.8 474.0M456.9 470.4L453.8 474.0L458.5 474.9M468.4 451.9L455.0 459.6M457.4 455.5L455.0 459.6L459.8 459.6M468.4 434.9L455.3 443.1M457.5 438.8L455.3 443.1L460.1 442.9M468.4 417.8L455.0 425.6M457.4 421.4L455.0 425.6L459.8 425.6M468.4 400.6L455.2 408.8M457.5 404.6L455.2 408.8L460.0 408.7M468.4 383.4L455.5 392.0M457.6 387.7L455.5 392.0L460.3 391.7M468.4 366.2L457.8 377.5M458.9 372.8L457.8 377.5L462.4 376.1M468.4 348.9L461.1 362.6M461.0 357.8L461.1 362.6L465.2 360.0M468.4 331.5L461.8 345.5M461.4 340.8L461.8 345.5L465.8 342.8M468.4 278.9L459.5 291.6M459.9 286.8L459.5 291.6L463.8 289.5M468.4 261.2L458.0 272.7M459.0 268.0L458.0 272.7L462.6 271.2M468.4 243.3L457.4 254.3M458.7 249.7L457.4 254.3L462.1 253.1M468.4 225.4L457.4 236.4M458.7 231.7L457.4 236.4L462.1 235.1M468.4 207.4L457.5 218.4M458.7 213.7L457.5 218.4L462.1 217.1M468.4 189.2L457.5 200.2M458.7 195.6L457.5 200.2L462.1 198.9M468.4 152.5L458.4 164.3M459.3 159.6L458.4 164.3L462.9 162.7M468.4 133.9L458.1 145.5M459.0 140.8L458.1 145.5L462.6 144.0M468.4 115.2L458.8 127.4M459.5 122.6L458.8 127.4L463.3 125.6M485.3 570.5L470.6 575.3M473.8 571.7L470.6 575.3L475.3 576.3M485.3 536.7L469.9 538.1M473.8 535.3L469.9 538.1L474.2 540.1M485.3 519.8L469.8 520.9M473.8 518.2L469.8 520.9L474.2 523.0M485.3 502.8L469.9 504.2M473.8 501.5L469.9 504.2L474.2 506.2M485.3 485.9L470.0 488.6M473.7 485.5L470.0 488.6L474.6 490.3M485.3 468.9L470.2 472.5M473.7 469.2L470.2 472.5L474.8 473.9M485.3 451.9L470.8 457.3M473.8 453.6L470.8 457.3L475.5 458.1M485.3 434.9L471.8 442.5M474.3 438.4L471.8 442.5L476.6 442.5M485.3 417.8L471.3 424.5M474.0 420.5L471.3 424.5L476.1 424.9M485.3 400.6L470.8 406.0M473.8 402.3L470.8 406.0L475.5 406.8M485.3 383.4L471.8 391.0M474.2 386.9L471.8 391.0L476.6 391.1M485.3 366.2L473.8 376.6M475.3 372.0L473.8 376.6L478.5 375.6M485.3 243.3L473.0 252.8M474.9 248.4L473.0 252.8L477.8 252.2M485.3 225.4L474.9 236.9M475.9 232.2L474.9 236.9L479.5 235.4M485.3 207.4L477.0 220.5M477.2 215.7L477.0 220.5L481.2 218.2M485.3 189.2L475.6 201.3M476.3 196.6L475.6 201.3L480.1 199.6M485.3 115.2L477.1 128.3M477.3 123.5L477.1 128.3L481.3 126.1M485.3 96.3L476.7 109.2M477.0 104.4L476.7 109.2L481.0 107.1M502.2 570.5L488.4 577.5M491.0 573.5L488.4 577.5L493.2 577.8M502.2 536.7L486.9 538.9M490.6 536.0L486.9 538.9L491.3 540.7M502.2 519.8L486.9 521.9M490.6 519.0L486.9 521.9L491.3 523.7M502.2 502.8L486.9 505.2M490.6 502.2L486.9 505.2L491.3 506.9M502.2 485.9L486.8 488.0M490.6 485.0L486.8 488.0L491.3 489.8M502.2 468.9L486.7 468.8M490.9 466.4L486.7 468.8L490.8 471.2M502.2 434.9L487.0 437.7M490.6 434.6L487.0 437.7L491.5 439.3M502.2 417.8L487.6 423.0M490.7 419.3L487.6 423.0L492.3 423.9M502.2 400.6L487.2 404.7M490.6 401.3L487.2 404.7L491.9 405.9M502.2 348.9L489.7 358.1M491.7 353.7L489.7 358.1L494.5 357.6M502.2 314.1L489.4 322.8M491.5 318.4L489.4 322.8L494.2 322.4M502.2 296.5L488.9 304.6M491.3 300.3L488.9 304.6L493.7 304.5M502.2 243.3L487.9 249.3M490.8 245.5L487.9 249.3L492.7 250.0M502.2 225.4L492.6 237.6M493.3 232.8L492.6 237.6L497.0 235.8M502.2 207.4L494.0 220.5M494.2 215.7L494.0 220.5L498.2 218.3M502.2 189.2L493.9 202.3M494.1 197.5L493.9 202.3L498.2 200.1M502.2 170.9L491.4 182.0M492.6 177.4L491.4 182.0L496.0 180.7M502.2 152.5L492.9 164.9M493.5 160.1L492.9 164.9L497.3 163.0M502.2 115.2L496.8 129.7M496.0 125.0L496.8 129.7L500.5 126.7M502.2 96.3L495.9 110.5M495.4 105.7L495.9 110.5L499.8 107.7M502.2 77.3L496.2 91.6M495.6 86.8L496.2 91.6L500.1 88.6M519.1 570.5L507.1 580.3M508.8 575.8L507.1 580.3L511.8 579.5M519.1 536.7L505.4 543.9M508.0 539.9L505.4 543.9L510.2 544.1M519.1 519.8L504.2 524.1M507.5 520.7L504.2 524.1L508.9 525.3M519.1 502.8L503.9 506.1M507.5 502.9L503.9 506.1L508.5 507.6M519.1 485.9L503.6 485.7M507.8 483.3L503.6 485.7L507.7 488.1M519.1 468.9L507.9 458.2M512.6 459.3L507.9 458.2L509.3 462.8M519.1 451.9L505.7 444.1M510.5 444.1L505.7 444.1L508.1 448.3M519.1 366.2L505.6 373.9M508.1 369.8L505.6 373.9L510.4 373.9M519.1 348.9L505.8 356.9M508.2 352.7L505.8 356.9L510.6 356.8M519.1 314.1L504.8 320.0M507.7 316.2L504.8 320.0L509.5 320.6M519.1 296.5L504.5 301.8M507.6 298.2L504.5 301.8L509.3 302.7M519.1 278.9L504.7 284.7M507.7 280.9L504.7 284.7L509.5 285.3M519.1 261.2L504.4 266.0M507.6 262.4L504.4 266.0L509.1 267.0M519.1 243.3L505.4 250.6M508.0 246.6L505.4 250.6L510.2 250.8M519.1 225.4L509.7 237.7M510.3 233.0L509.7 237.7L514.1 235.9M519.1 207.4L512.0 221.1M511.8 216.4L512.0 221.1L516.0 218.6M519.1 189.2L512.0 203.0M511.8 198.2L512.0 203.0L516.1 200.4M519.1 170.9L511.9 184.7M511.7 179.9L511.9 184.7L516.0 182.1M519.1 152.5L510.8 165.6M511.0 160.8L510.8 165.6L515.0 163.3M519.1 133.9L512.2 147.8M511.9 143.0L512.2 147.8L516.2 145.1M519.1 115.2L513.1 129.5M512.5 124.7L513.1 129.5L516.9 126.6M519.1 96.3L516.3 111.6M514.7 107.0L516.3 111.6L519.4 107.9M519.1 77.3L517.4 92.7M515.5 88.3L517.4 92.7L520.2 88.8M519.1 58.0L517.5 73.4M515.5 69.1L517.5 73.4L520.3 69.6M519.1 38.6L517.0 54.0M515.2 49.5L517.0 54.0L519.9 50.2M536.0 570.5L526.2 582.5M527.0 577.8L526.2 582.5L530.7 580.8M536.0 536.7L526.9 549.3M527.4 544.5L526.9 549.3L531.3 547.3M536.0 519.8L521.5 525.3M524.5 521.6L521.5 525.3L526.2 526.0M536.0 502.8L521.7 508.8M524.6 505.0L521.7 508.8L526.5 509.4M536.0 485.9L521.3 490.9M524.5 487.3L521.3 490.9L526.0 491.8M536.0 468.9L529.0 455.1M533.0 457.7L529.0 455.1L528.8 459.9M536.0 417.8L520.7 420.5M524.4 417.4L520.7 420.5L525.3 422.2M536.0 314.1L521.7 319.9M524.6 316.1L521.7 319.9L526.4 320.6M536.0 296.5L521.4 301.8M524.5 298.1L521.4 301.8L526.2 302.6M536.0 278.9L521.4 284.1M524.5 280.5L521.4 284.1L526.1 285.0M536.0 261.2L521.0 265.2M524.4 261.8L521.0 265.2L525.7 266.4M536.0 243.3L521.2 248.0M524.5 244.4L521.2 248.0L525.9 249.0M536.0 225.4L524.1 235.3M525.7 230.8L524.1 235.3L528.8 234.5M536.0 207.4L526.6 219.7M527.2 214.9L526.6 219.7L531.0 217.9M536.0 189.2L527.1 201.9M527.5 197.1L527.1 201.9L531.5 199.9M536.0 170.9L526.6 183.2M527.2 178.5L526.6 183.2L531.0 181.4M536.0 152.5L521.3 157.3M524.5 153.7L521.3 157.3L526.0 158.3M536.0 133.9L525.8 145.6M526.7 140.9L525.8 145.6L530.4 144.0M536.0 115.2L529.8 129.4M529.2 124.6L529.8 129.4L533.6 126.5M536.0 96.3L534.3 111.7M532.4 107.3L534.3 111.7L537.2 107.8M536.0 77.3L535.2 92.7M533.0 88.5L535.2 92.7L537.8 88.7M536.0 58.0L535.5 73.5M533.2 69.3L535.5 73.5L538.0 69.4M536.0 38.6L535.4 54.1M533.2 49.9L535.4 54.1L538.0 50.0M552.9 570.5L544.4 583.4M544.6 578.6L544.4 583.4L548.6 581.3M552.9 536.7L544.0 549.4M544.4 544.6L544.0 549.4L548.3 547.4M552.9 519.8L541.0 529.7M542.6 525.2L541.0 529.7L545.7 528.9M552.9 502.8L540.2 511.7M542.2 507.3L540.2 511.7L544.9 511.3M552.9 485.9L538.2 490.7M541.4 487.1L538.2 490.7L542.8 491.7M552.9 348.9L539.5 356.6M541.9 352.4L539.5 356.6L544.3 356.6M552.9 331.5L539.1 338.5M541.7 334.5L539.1 338.5L543.9 338.8M552.9 314.1L538.5 319.9M541.5 316.1L538.5 319.9L543.3 320.5M552.9 296.5L538.2 301.3M541.4 297.8L538.2 301.3L542.9 302.3M552.9 278.9L537.6 281.7M541.3 278.6L537.6 281.7L542.2 283.3M552.9 261.2L537.6 263.4M541.3 260.4L537.6 263.4L542.0 265.1M552.9 243.3L537.5 245.3M541.3 242.4L537.5 245.3L541.9 247.2M552.9 225.4L537.8 228.8M541.3 225.5L537.8 228.8L542.3 230.2M552.9 207.4L540.0 216.0M542.1 211.7L540.0 216.0L544.8 215.7M552.9 189.2L542.5 200.7M543.5 196.0L542.5 200.7L547.0 199.2M552.9 170.9L543.1 182.9M543.9 178.2L543.1 182.9L547.6 181.2M552.9 152.5L542.4 163.9M543.5 159.2L542.4 163.9L547.0 162.5M552.9 133.9L542.1 145.0M543.3 140.3L542.1 145.0L546.7 143.7M552.9 115.2L548.8 130.1M547.6 125.5L548.8 130.1L552.2 126.8M552.9 96.3L551.6 111.8M549.5 107.4L551.6 111.8L554.3 107.8M552.9 77.3L552.9 92.8M550.5 88.6L552.9 92.8L555.3 88.6M552.9 58.0L553.2 73.5M550.7 69.4L553.2 73.5L555.5 69.3M552.9 38.6L553.5 54.1M550.9 50.0L553.5 54.1L555.7 49.9M569.8 570.5L561.7 583.7M561.8 578.9L561.7 583.7L565.9 581.4M569.8 553.6L561.6 566.7M561.7 561.9L561.6 566.7L565.8 564.5M569.8 536.7L560.9 549.4M561.3 544.6L560.9 549.4L565.2 547.3M569.8 519.8L558.8 530.7M560.1 526.1L558.8 530.7L563.5 529.5M569.8 502.8L557.7 512.6M559.5 508.1L557.7 512.6L562.5 511.8M569.8 485.9L556.4 493.7M558.8 489.5L556.4 493.7L561.2 493.7M569.8 468.9L555.1 473.9M558.3 470.3L555.1 473.9L559.8 474.8M569.8 400.6L556.8 409.1M559.0 404.8L556.8 409.1L561.6 408.8M569.8 383.4L556.9 392.1M559.1 387.8L556.9 392.1L561.7 391.8M569.8 366.2L556.8 374.6M559.0 370.4L556.8 374.6L561.6 374.4M569.8 348.9L556.6 357.1M558.9 352.9L556.6 357.1L561.4 356.9M569.8 331.5L556.1 338.8M558.7 334.7L556.1 338.8L560.9 339.0M569.8 314.1L555.6 320.2M558.4 316.3L555.6 320.2L560.3 320.7M569.8 296.5L555.2 301.8M558.3 298.1L555.2 301.8L559.9 302.6M569.8 278.9L554.6 282.0M558.2 278.8L554.6 282.0L559.2 283.5M569.8 261.2L554.4 263.2M558.2 260.3L554.4 263.2L558.9 265.0M569.8 243.3L554.4 245.1M558.3 242.2L554.4 245.1L558.8 247.0M569.8 225.4L554.4 226.8M558.3 224.0L554.4 226.8L558.7 228.8M569.8 207.4L554.3 208.4M558.3 205.7L554.3 208.4L558.6 210.5M569.8 189.2L555.7 195.7M558.5 191.8L555.7 195.7L560.5 196.2M569.8 170.9L557.9 180.8M559.6 176.3L557.9 180.8L562.6 180.0M569.8 152.5L559.1 163.7M560.2 159.0L559.1 163.7L563.7 162.3M569.8 133.9L561.6 147.0M561.7 142.2L561.6 147.0L565.8 144.8M569.8 115.2L565.3 130.0M564.2 125.3L565.3 130.0L568.8 126.7M569.8 96.3L569.7 111.8M567.3 107.6L569.7 111.8L572.1 107.7M569.8 77.3L571.1 92.7M568.4 88.8L571.1 92.7L573.2 88.4M569.8 58.0L571.9 73.4M569.0 69.6L571.9 73.4L573.7 68.9M569.8 38.6L572.0 54.0M569.0 50.2L572.0 54.0L573.8 49.5M586.7 570.5L577.9 583.2M578.3 578.4L577.9 583.2L582.2 581.2M586.7 553.6L577.2 565.8M577.8 561.1L577.2 565.8L581.6 564.0M586.7 536.7L575.8 547.7M577.0 543.0L575.8 547.7L580.4 546.4M586.7 519.8L575.3 530.3M576.7 525.7L575.3 530.3L580.0 529.2M586.7 485.9L574.5 495.4M576.3 491.0L574.5 495.4L579.2 494.8M586.7 468.9L573.6 477.2M575.8 473.0L573.6 477.2L578.4 477.0M586.7 451.9L573.4 459.9M575.7 455.7L573.4 459.9L578.2 459.8M586.7 434.9L574.0 443.7M576.0 439.4L574.0 443.7L578.8 443.3M586.7 417.8L574.0 426.7M576.0 422.3L574.0 426.7L578.8 426.2M586.7 400.6L574.0 409.5M576.0 405.2L574.0 409.5L578.8 409.1M586.7 383.4L574.0 392.3M576.0 388.0L574.0 392.3L578.8 391.9M586.7 366.2L573.8 374.8M575.9 370.5L573.8 374.8L578.6 374.5M586.7 348.9L573.6 357.2M575.8 353.0L573.6 357.2L578.4 357.0M586.7 331.5L573.3 339.2M575.7 335.1L573.3 339.2L578.1 339.2M586.7 314.1L572.3 319.9M575.3 316.1L572.3 319.9L577.1 320.6M586.7 296.5L572.0 301.3M575.2 297.7L572.0 301.3L576.6 302.3M586.7 278.9L571.4 281.6M575.1 278.5L571.4 281.6L576.0 283.3M586.7 261.2L571.4 263.3M575.1 260.4L571.4 263.3L575.8 265.1M586.7 243.3L571.3 245.2M575.1 242.3L571.3 245.2L575.7 247.1M586.7 225.4L571.2 226.3M575.2 223.7L571.2 226.3L575.5 228.5M586.7 207.4L571.2 207.4M575.4 205.0L571.2 207.4L575.4 209.8M586.7 189.2L571.2 189.9M575.3 187.3L571.2 189.9L575.5 192.1M586.7 170.9L573.0 178.1M575.5 174.1L573.0 178.1L577.8 178.3M586.7 152.5L575.7 163.4M577.0 158.8L575.7 163.4L580.3 162.2M586.7 133.9L578.4 147.0M578.6 142.2L578.4 147.0L582.7 144.8M586.7 115.2L580.6 129.4M580.0 124.7L580.6 129.4L584.4 126.6M586.7 96.3L586.6 111.8M584.2 107.6L586.6 111.8L589.0 107.7M586.7 77.3L588.8 92.6M585.9 88.8L588.8 92.6L590.6 88.2M586.7 58.0L589.9 73.2M586.7 69.6L589.9 73.2L591.4 68.6M586.7 38.6L590.2 53.7M586.9 50.2L590.2 53.7L591.6 49.1M603.6 519.8L591.7 529.8M593.4 525.2L591.7 529.8L596.5 528.9M603.6 502.8L591.6 512.6M593.3 508.1L591.6 512.6L596.3 511.9M603.6 485.9L591.5 495.5M593.2 491.1L591.5 495.5L596.2 494.8M603.6 468.9L591.3 478.4M593.1 473.9L591.3 478.4L596.1 477.7M603.6 451.9L591.3 461.3M593.1 456.9L591.3 461.3L596.1 460.7M603.6 434.9L591.0 443.9M593.0 439.5L591.0 443.9L595.8 443.4M603.6 417.8L590.9 426.7M592.9 422.3L590.9 426.7L595.7 426.3M603.6 400.6L590.9 409.5M592.9 405.2L590.9 409.5L595.7 409.1M603.6 383.4L590.8 392.2M592.9 387.9L590.8 392.2L595.6 391.8M603.6 366.2L590.6 374.7M592.8 370.4L590.6 374.7L595.4 374.4M603.6 348.9L590.6 357.3M592.8 353.0L590.6 357.3L595.4 357.1M603.6 331.5L590.0 339.0M592.5 334.9L590.0 339.0L594.8 339.1M603.6 314.1L589.4 320.3M592.3 316.5L589.4 320.3L594.2 320.8M603.6 296.5L589.0 301.8M592.1 298.1L589.0 301.8L593.7 302.6M603.6 278.9L588.5 282.3M592.0 279.0L588.5 282.3L593.1 283.7M603.6 261.2L588.3 263.5M592.0 260.5L588.3 263.5L592.8 265.3M603.6 243.3L588.2 245.2M592.1 242.3L588.2 245.2L592.6 247.1M603.6 225.4L588.2 226.7M592.1 224.0L588.2 226.7L592.5 228.8M603.6 207.4L588.1 207.4M592.3 205.0L588.1 207.4L592.3 209.8M603.6 189.2L588.1 189.5M592.2 187.0L588.1 189.5L592.3 191.8M603.6 170.9L588.1 171.7M592.2 169.1L588.1 171.7L592.4 173.9M603.6 152.5L590.5 160.8M592.7 156.6L590.5 160.8L595.3 160.6M603.6 133.9L592.6 144.8M593.8 140.2L592.6 144.8L597.2 143.6M603.6 115.2L591.1 124.4M593.0 120.0L591.1 124.4L595.9 123.8M603.6 96.3L602.2 111.7M600.2 107.4L602.2 111.7L605.0 107.8M603.6 77.3L604.7 92.7M602.0 88.7L604.7 92.7L606.8 88.4M603.6 58.0L605.8 73.4M602.8 69.6L605.8 73.4L607.6 68.9M603.6 38.6L607.1 53.7M603.8 50.2L607.1 53.7L608.5 49.1M620.5 553.6L609.6 564.6M610.8 560.0L609.6 564.6L614.3 563.4M620.5 536.7L609.1 547.2M610.5 542.6L609.1 547.2L613.8 546.1M620.5 519.8L608.7 529.8M610.3 525.3L608.7 529.8L613.4 529.0M620.5 502.8L608.5 512.7M610.2 508.2L608.5 512.7L613.3 511.9M620.5 485.9L608.5 495.7M610.2 491.2L608.5 495.7L613.2 494.9M620.5 468.9L608.3 478.5M610.1 474.0L608.3 478.5L613.1 477.8M620.5 451.9L608.2 461.3M610.0 456.9L608.2 461.3L612.9 460.7M620.5 434.9L608.0 444.0M609.9 439.6L608.0 444.0L612.8 443.5M620.5 417.8L607.9 426.7M609.9 422.4L607.9 426.7L612.6 426.3M620.5 400.6L607.8 409.5M609.8 405.2L607.8 409.5L612.6 409.1M620.5 383.4L607.7 392.2M609.8 387.9L607.7 392.2L612.5 391.8M620.5 366.2L607.6 374.7M609.7 370.4L607.6 374.7L612.4 374.5M620.5 348.9L607.4 357.2M609.6 352.9L607.4 357.2L612.2 357.0M620.5 331.5L606.9 339.0M609.4 334.9L606.9 339.0L611.7 339.1M620.5 314.1L606.4 320.4M609.2 316.5L606.4 320.4L611.1 320.9M620.5 296.5L605.8 301.6M609.0 297.9L605.8 301.6L610.6 302.5M620.5 278.9L605.4 282.3M608.9 279.0L605.4 282.3L610.0 283.7M620.5 261.2L605.2 263.5M608.9 260.5L605.2 263.5L609.7 265.3M620.5 243.3L605.1 245.2M609.0 242.3L605.1 245.2L609.5 247.1M620.5 225.4L605.0 226.6M609.0 223.9L605.0 226.6L609.4 228.7M620.5 207.4L605.0 207.8M609.1 205.3L605.0 207.8L609.2 210.1M620.5 189.2L605.0 189.5M609.1 187.0L605.0 189.5L609.2 191.8M620.5 170.9L605.0 171.0M609.2 168.5L605.0 171.0L609.2 173.3M620.5 152.5L605.2 154.8M608.9 151.8L605.2 154.8L609.6 156.5M620.5 133.9L606.7 140.9M609.3 136.9L606.7 140.9L611.5 141.2M620.5 115.2L608.6 125.1M610.2 120.6L608.6 125.1L613.3 124.3M620.5 96.3L609.2 106.9M610.6 102.3L609.2 106.9L613.9 105.8M620.5 58.0L621.6 73.5M618.9 69.5L621.6 73.5L623.7 69.2M620.5 38.6L623.7 53.8M620.5 50.2L623.7 53.8L625.2 49.2M637.4 570.5L626.8 581.8M627.9 577.1L626.8 581.8L631.4 580.4M637.4 553.6L626.3 564.4M627.6 559.8L626.3 564.4L631.0 563.2M637.4 536.7L625.9 547.1M627.4 542.5L625.9 547.1L630.6 546.1M637.4 519.8L625.6 529.9M627.2 525.4L625.6 529.9L630.4 529.0M637.4 502.8L625.6 512.9M627.2 508.3L625.6 512.9L630.3 512.0M637.4 485.9L625.5 495.8M627.2 491.3L625.5 495.8L630.2 495.0M637.4 468.9L625.3 478.6M627.1 474.1L625.3 478.6L630.1 477.9M637.4 451.9L625.2 461.4M627.0 457.0L625.2 461.4L629.9 460.8M637.4 434.9L625.0 444.2M626.9 439.8L625.0 444.2L629.8 443.6M637.4 417.8L624.7 426.7M626.7 422.3L624.7 426.7L629.5 426.2M637.4 400.6L624.7 409.5M626.7 405.2L624.7 409.5L629.5 409.1M637.4 383.4L624.7 392.3M626.7 388.0L624.7 392.3L629.5 391.9M637.4 366.2L624.4 374.7M626.6 370.4L624.4 374.7L629.2 374.4M637.4 348.9L624.4 357.3M626.6 353.0L624.4 357.3L629.2 357.1M637.4 331.5L624.0 339.2M626.4 335.1L624.0 339.2L628.8 339.2M637.4 314.1L623.0 319.9M626.0 316.1L623.0 319.9L627.8 320.6M637.4 296.5L622.8 301.8M625.9 298.1L622.8 301.8L627.5 302.6M637.4 278.9L622.1 281.6M625.8 278.5L622.1 281.6L626.7 283.3M637.4 261.2L622.1 263.3M625.8 260.4L622.1 263.3L626.5 265.1M637.4 243.3L622.0 245.2M625.8 242.3L622.0 245.2L626.4 247.1M637.4 225.4L622.0 226.8M625.9 224.0L622.0 226.8L626.3 228.8M637.4 207.4L621.9 207.4M626.1 205.0L621.9 207.4L626.1 209.8M637.4 189.2L621.9 189.5M626.0 187.0L621.9 189.5L626.1 191.8M637.4 170.9L621.9 170.9M626.1 168.5L621.9 170.9L626.1 173.3M637.4 152.5L621.9 153.6M625.9 150.9L621.9 153.6L626.3 155.7M637.4 133.9L622.1 136.2M625.8 133.2L622.1 136.2L626.5 138.0M637.4 115.2L624.8 124.2M626.8 119.8L624.8 124.2L629.6 123.7M637.4 96.3L625.2 105.8M627.0 101.4L625.2 105.8L629.9 105.2M637.4 77.3L624.6 86.1M626.7 81.7L624.6 86.1L629.4 85.7M637.4 58.0L637.2 73.5M634.9 69.3L637.2 73.5L639.7 69.4M637.4 38.6L640.6 53.8M637.4 50.2L640.6 53.8L642.1 49.2" fill="none" stroke="#00008c" stroke-width="0.9"/>
<path d="M476.8 148.2 L473.6 153.3 L471.1 158.5 L470.4 164.8 L471.1 170.0 L473.0 175.1 L475.6 180.2 L478.8 184.6 L480.4 189.1 L481.3 189.1 L482.6 186.6 L483.9 180.2 L486.4 175.7 L489.6 171.2 L492.8 166.1 L494.1 159.7 L496.0 153.3 L497.9 146.9 L499.2 140.6 L500.5 134.2 L499.2 131.0 L494.7 128.4 L490.9 129.7 L486.4 132.9 L483.2 137.4 L480.0 142.5ZM492.6 238.6 L493.9 238.1 L494.1 237.0 L493.9 235.9 L492.7 235.9 L491.6 236.3 L491.9 237.6ZM278.4 251.0 L282.0 254.0 L288.0 255.6 L294.0 256.0 L299.0 254.0 L303.0 251.0 L307.0 247.0 L311.0 243.0 L313.0 239.0 L315.0 235.0 L317.0 231.0 L316.0 227.0 L313.0 224.0 L308.0 224.4 L302.0 225.6 L296.0 226.0 L290.0 227.0 L285.0 229.0 L281.0 233.0 L278.0 237.0 L277.0 241.0 L277.0 246.0ZM491.7 246.1 L492.0 245.2 L491.7 244.3 L490.8 244.2 L489.8 244.6 L490.0 245.7 L490.7 246.6ZM120.1 442.4 L122.6 445.4 L125.7 449.4 L127.7 453.5 L131.2 455.5 L134.2 457.5 L138.3 460.5 L134.6 462.0 L136.0 470.0 L136.6 478.0 L138.0 484.0 L141.0 490.0 L142.0 497.0 L145.0 502.0 L148.0 508.0 L152.0 514.0 L154.0 520.0 L158.0 524.0 L163.0 528.0 L169.0 532.0 L175.0 536.0 L180.0 540.0 L185.0 544.0 L190.0 548.0 L195.0 549.0 L199.0 549.0 L202.0 547.0 L201.0 542.0 L199.0 536.0 L197.0 530.0 L193.0 525.0 L190.0 520.0 L188.0 514.0 L186.6 508.0 L187.0 502.0 L188.6 496.0 L188.0 490.0 L186.0 484.0 L183.0 479.0 L179.0 474.0 L173.0 470.0 L167.0 465.0 L162.0 461.0 L159.9 460.5 L157.9 457.5 L155.4 454.5 L152.4 454.5 L148.3 455.0 L144.3 452.5 L141.3 448.4 L138.8 444.4 L136.8 439.4 L135.7 434.3 L135.2 429.8 L132.7 427.3 L129.7 424.2 L128.7 418.2 L127.7 414.2 L125.2 413.1 L121.1 413.6 L118.6 412.6 L117.1 406.6 L115.6 403.6 L116.6 400.5 L116.6 395.0 L116.6 395.0 L118.0 390.0 L121.0 382.0 L123.0 374.0 L127.0 368.0 L130.0 364.0 L131.0 356.0 L131.0 347.0 L130.0 343.0 L135.0 339.0 L141.0 340.0 L147.0 340.4 L147.6 344.0 L146.0 348.0 L144.0 352.0 L146.0 354.4 L151.0 355.0 L156.0 355.0 L160.0 354.0 L164.0 357.0 L168.0 359.0 L171.0 363.0 L175.0 364.0 L178.0 367.0 L180.0 372.0 L183.0 377.0 L185.0 382.0 L188.0 384.0 L190.0 381.0 L193.0 383.0 L192.0 387.0 L190.0 390.0 L194.0 391.0 L199.0 393.0 L204.0 396.0 L209.0 398.0 L214.0 399.6 L215.8 402.0 L214.6 406.0 L213.8 412.0 L214.6 418.0 L211.0 424.0 L213.0 425.0 L217.0 422.4 L220.0 420.0 L226.0 416.0 L233.0 411.0 L239.0 408.0 L244.0 402.0 L249.0 396.0 L255.0 393.0 L261.0 390.0 L266.0 388.0 L266.0 385.0 L271.0 383.0 L276.0 380.0 L282.0 377.0 L285.0 372.0 L286.0 366.0 L287.0 359.0 L290.0 354.0 L289.0 348.0 L287.0 338.0 L286.0 330.0 L284.0 322.0 L282.0 314.0 L280.0 308.0 L276.0 303.0 L271.0 298.0 L266.0 294.0 L263.0 291.0 L258.0 287.0 L253.0 282.0 L249.0 276.0 L244.0 269.0 L240.0 264.0 L238.0 259.0 L234.0 256.0 L230.0 252.0 L227.0 247.0 L226.0 242.0 L228.0 236.0 L230.0 229.0 L233.0 224.0 L239.0 218.0 L241.0 211.0 L242.0 209.0 L243.0 206.0 L247.0 205.0 L251.0 203.0 L255.0 201.0 L259.0 198.0 L263.0 197.0 L266.0 197.0 L270.0 195.0 L274.0 192.0 L277.0 194.0 L281.0 195.0 L285.0 197.0 L289.0 197.0 L292.0 194.0 L296.0 197.0 L297.0 202.0 L298.0 208.0 L299.0 215.0 L300.0 220.0 L303.0 221.0 L307.0 220.0 L309.0 217.0 L308.4 212.0 L308.8 207.0 L309.6 203.0 L313.0 201.0 L318.0 198.0 L324.0 197.0 L328.0 195.0 L332.0 193.0 L336.0 192.0 L340.0 190.0 L343.0 193.0 L346.0 192.0 L348.0 189.0 L350.0 186.0 L349.0 181.0 L351.0 180.0 L354.0 185.0 L356.0 182.0 L357.0 175.0 L356.0 169.0 L359.0 169.0 L360.0 175.0 L362.0 179.0 L364.0 184.0 L366.0 182.0 L369.0 180.0 L372.0 183.0 L375.0 180.0 L378.0 177.0 L381.0 175.0 L384.0 176.0 L388.0 174.0 L392.0 175.0 L396.0 173.0 L402.0 172.0 L406.0 170.0 L409.0 167.0 L411.0 163.0 L414.0 162.0 L418.0 160.0 L421.0 159.0 L423.0 156.0 L427.0 153.0 L431.0 150.0 L433.0 145.0 L438.0 142.0 L442.0 140.0 L445.0 136.0 L449.0 134.0 L451.0 129.0 L454.0 124.0 L459.0 120.0 L461.0 115.0 L464.0 110.0 L461.0 106.0 L461.3 99.4 L465.9 97.8 L470.4 95.5 L474.9 90.3 L478.8 83.9 L484.0 76.1 L488.5 72.2 L493.7 68.3 L495.6 61.9 L497.6 55.4 L496.9 48.9 L500.2 43.8 L500.8 37.9 L501.0 37.0 L111.0 36.0 L111.0 435.0 L113.3 435.3 L116.1 434.8 L118.1 437.3ZM483.9 357.1 L485.2 360.3 L487.1 362.3 L489.7 360.3 L492.3 357.1 L493.6 353.2 L493.6 349.3 L492.3 346.1 L489.7 343.5 L485.8 341.6 L481.9 340.3 L477.4 339.6 L474.8 340.3 L476.8 342.9 L479.3 346.1 L481.3 350.0 L482.6 353.9ZM430.9 421.9 L435.4 417.4 L439.9 413.5 L443.8 409.6 L447.0 404.5 L450.3 400.6 L455.5 396.7 L459.3 394.1 L461.9 390.9 L461.9 387.6 L460.0 387.0 L456.7 388.9 L452.9 392.8 L447.7 398.0 L442.5 403.8 L437.3 409.6 L432.2 414.8 L427.0 419.3 L421.8 425.8 L417.3 434.9 L417.9 436.8 L419.2 432.9 L422.5 428.4 L426.3 425.2ZM416.6 446.5 L417.9 449.3 L418.7 449.3 L416.0 452.0 L413.0 453.0 L411.0 456.0 L409.0 460.0 L406.0 464.0 L402.0 468.0 L398.0 473.0 L394.0 476.0 L391.0 479.0 L394.0 483.0 L390.0 486.0 L386.0 485.0 L382.0 487.0 L379.0 489.0 L375.0 492.0 L372.0 495.0 L369.0 493.0 L366.0 497.0 L363.0 502.0 L359.0 507.0 L355.0 511.0 L351.0 515.0 L348.0 518.4 L343.0 519.6 L336.0 520.4 L330.0 522.0 L324.0 523.0 L321.0 524.0 L320.0 532.0 L319.0 539.0 L318.0 544.0 L314.0 543.0 L309.0 544.0 L306.0 541.0 L301.0 541.0 L296.0 542.0 L293.0 539.0 L291.0 537.0 L286.0 544.0 L283.0 550.0 L281.0 557.0 L283.0 558.0 L285.0 564.0 L286.0 570.0 L286.0 572.0 L426.0 572.0 L426.0 570.0 L428.0 565.0 L431.0 560.0 L435.0 556.0 L441.0 558.0 L447.0 557.0 L451.0 554.0 L448.0 550.0 L443.0 546.0 L438.0 541.0 L435.0 536.0 L432.0 532.0 L429.0 526.0 L428.0 520.0 L425.0 516.0 L427.0 511.0 L430.0 508.0 L427.0 504.0 L430.0 501.0 L433.0 499.0 L438.0 498.0 L443.0 497.0 L447.0 495.0 L445.0 493.0 L440.0 491.0 L438.0 488.0 L443.0 486.0 L449.0 485.0 L454.0 484.0 L456.0 481.0 L453.0 479.0 L447.0 476.0 L441.0 474.0 L435.0 472.0 L431.0 468.0 L428.0 462.0 L425.0 457.0 L421.0 452.0 L419.2 449.2 L421.2 449.1 L422.5 446.8 L419.9 445.2ZM469.0 483.6 L472.6 483.6 L475.0 481.0 L472.0 479.0 L468.0 481.0ZM269.6 510.2 L273.9 504.0 L269.0 498.7 L264.7 504.9ZM154.0 537.0 L155.3 540.4 L154.0 540.0 L150.0 536.0 L147.0 538.0 L145.0 535.0 L141.0 533.0 L136.0 529.0 L132.0 526.0 L130.0 522.0 L125.0 517.0 L119.0 512.0 L113.0 509.0 L111.0 509.0 L111.0 555.0 L113.5 556.0 L116.0 561.0 L121.0 566.0 L125.0 572.0 L194.0 572.0 L194.0 570.4 L190.0 568.0 L187.0 565.0 L184.0 563.0 L180.0 560.0 L178.1 557.8 L180.0 554.0 L176.0 549.0 L171.0 545.0 L167.2 545.8 L165.0 545.0 L161.0 542.0 L156.5 540.7 L159.0 541.0 L160.4 538.0 L158.0 535.6ZM501.6 234.8 L501.8 234.0 L501.6 233.2 L500.8 233.2 L500.0 233.5 L500.2 234.4 L500.7 235.2ZM475.4 280.0 L476.0 286.0 L474.2 284.0 L474.2 287.9 L474.8 291.8 L473.5 294.3 L470.3 294.3 L469.4 291.8 L468.3 290.5 L466.0 290.5 L465.1 291.8 L465.5 295.6 L466.4 300.8 L467.7 306.0 L469.0 311.2 L470.3 315.0 L472.2 317.6 L474.8 320.2 L477.4 322.8 L478.1 320.9 L477.4 318.3 L479.3 317.6 L482.6 318.3 L484.5 320.2 L483.9 324.1 L481.9 325.4 L480.0 327.3 L478.7 329.3 L479.3 331.9 L481.3 332.5 L479.3 333.8 L481.9 335.1 L485.2 336.4 L488.4 337.7 L491.0 337.0 L492.9 335.1 L495.5 333.2 L498.1 332.5 L500.0 333.5 L500.1 333.6 L503.3 336.2 L505.2 336.6 L505.9 337.0 L507.8 339.0 L509.7 341.6 L511.0 344.2 L511.5 344.2 L512.6 344.5 L512.7 344.2 L513.0 344.2 L513.0 343.0 L513.1 342.5 L513.0 342.0 L513.0 341.6 L512.6 340.5 L512.1 338.8 L511.6 335.7 L513.1 334.2 L515.0 334.5 L515.6 335.1 L517.5 337.0 L520.1 339.6 L522.7 342.2 L524.6 344.1 L526.1 347.1 L528.7 349.2 L529.3 349.3 L529.8 350.0 L531.7 352.6 L534.3 355.2 L535.4 355.4 L535.9 355.9 L536.4 355.7 L536.9 355.8 L537.1 355.4 L538.0 354.9 L538.5 352.3 L537.5 349.2 L539.6 348.2 L539.0 346.1 L537.8 345.4 L537.6 344.8 L536.6 344.6 L536.5 344.5 L533.8 343.8 L531.7 342.2 L530.1 340.6 L529.9 340.1 L531.1 338.3 L533.7 337.0 L535.6 335.7 L535.4 333.8 L534.6 334.0 L531.3 332.6 L527.1 332.1 L524.0 333.1 L521.4 332.6 L519.3 329.5 L516.7 326.4 L512.6 325.9 L509.5 327.4 L509.4 327.8 L509.1 328.0 L505.9 327.3 L503.3 326.0 L500.7 322.8 L497.5 319.6 L495.5 316.3 L494.2 312.5 L492.3 309.9 L492.9 306.0 L494.9 302.1 L495.5 298.2 L496.8 295.6 L500.7 293.7 L503.3 291.8 L505.2 289.2 L507.2 286.6 L508.5 284.0 L507.0 293.0 L509.0 288.0 L511.0 282.0 L510.0 276.0 L508.0 272.0 L506.0 268.0 L506.6 263.0 L508.0 258.0 L508.0 253.0 L506.0 251.0 L504.0 254.0 L500.0 255.6 L496.0 255.0 L492.0 253.0 L488.0 251.0 L484.0 250.0 L479.0 251.0 L477.0 256.0 L476.0 262.0 L475.4 268.0 L475.0 274.0ZM503.0 344.5 L503.9 342.0 L502.6 339.9 L502.3 339.9 L502.2 339.7 L500.1 340.1 L500.1 340.2 L499.7 340.3 L499.1 342.5 L500.4 344.8ZM503.3 360.6 L503.5 357.7 L503.3 354.9 L502.4 354.8 L501.6 356.0 L501.8 359.2 L502.4 361.9ZM510.8 360.4 L512.6 359.9 L513.0 359.0 L512.6 358.1 L510.9 358.1 L509.3 358.5 L509.6 359.5ZM525.6 360.6 L527.1 362.2 L529.7 363.7 L532.3 365.8 L534.9 368.4 L537.0 369.9 L537.5 368.9 L535.4 365.8 L532.8 363.2 L530.2 360.6 L528.2 358.5 L526.1 357.0 L523.5 357.5 L523.0 360.1 L521.4 362.7 L521.9 364.8 L523.5 362.7ZM502.5 391.7 L502.7 392.8 L505.3 390.7 L507.0 389.0 L509.0 388.0 L513.0 386.0 L517.0 383.0 L518.3 381.7 L518.8 381.4 L519.2 380.8 L520.0 380.0 L520.8 378.3 L520.9 378.2 L520.9 378.2 L522.0 376.0 L519.0 374.0 L513.0 373.0 L507.0 370.0 L506.8 370.0 L505.9 369.4 L504.8 369.6 L502.0 369.0 L502.6 376.0 L502.0 382.0 L501.0 388.0 L502.0 392.0ZM516.0 412.0 L520.0 415.0 L522.0 410.0 L523.0 404.0 L524.0 398.0 L526.0 392.0 L527.0 387.0 L523.0 385.0 L518.0 386.0 L517.0 392.0 L516.0 398.0 L513.0 401.0 L509.0 403.0 L512.0 408.0ZM498.0 459.0 L500.6 462.0 L504.6 461.0 L504.8 459.7 L505.3 457.9 L503.0 456.4 L501.6 457.2 L501.0 457.0ZM487.0 559.6 L493.0 560.0 L499.0 561.0 L505.0 560.0 L511.0 561.0 L517.0 562.0 L523.0 563.0 L529.0 564.4 L535.0 565.0 L541.0 563.0 L546.0 560.0 L549.0 556.0 L552.0 552.0 L555.0 548.0 L557.0 544.0 L554.0 542.0 L550.0 543.0 L547.0 546.0 L544.0 549.0 L541.0 552.0 L537.0 554.0 L531.0 555.0 L525.0 556.0 L519.0 555.6 L513.0 555.0 L507.0 554.0 L501.0 553.0 L494.0 552.0 L492.0 550.0 L487.0 549.0 L483.0 548.0 L479.0 552.0 L474.0 554.0 L472.0 558.0 L468.0 564.0 L467.0 572.0 L470.0 572.0 L472.0 566.0 L476.0 563.0 L481.0 561.0ZM621.1 83.5 L621.5 81.6 L621.1 79.7 L619.7 79.7 L618.2 80.5 L618.5 82.5 L619.5 84.4ZM539.6 330.5 L537.0 331.6 L537.0 335.7 L538.0 338.3 L540.6 338.3 L542.7 335.7 L542.2 332.6ZM552.0 368.9 L553.6 372.5 L555.1 376.2 L556.7 379.3 L556.7 383.4 L558.2 387.6 L560.3 389.1 L561.6 387.6 L561.1 383.4 L561.9 379.8 L562.4 376.2 L561.4 372.0 L561.9 367.9 L560.8 363.7 L558.8 360.6 L557.2 357.5 L554.1 355.9 L549.9 356.5 L544.8 357.5 L540.6 357.0 L541.6 359.0 L544.2 361.1 L547.3 363.2 L549.9 365.8ZM546.8 392.8 L547.9 398.0 L549.9 399.0 L550.7 397.4 L551.0 398.0 L554.0 399.0 L556.0 395.0 L554.0 390.0 L553.3 388.0 L553.1 385.0 L552.5 380.3 L552.0 377.2 L548.9 378.2 L548.5 378.5 L546.0 376.0 L545.3 375.6 L545.8 374.1 L543.7 372.5 L541.1 374.1 L541.1 377.2 L542.2 380.3 L542.7 385.0 L544.8 388.6ZM527.0 404.0 L530.0 398.0 L533.0 392.0 L536.0 386.0 L538.0 380.0 L536.0 378.0 L534.0 382.0 L531.0 389.0 L528.0 396.0 L526.0 402.0 L525.0 408.0ZM541.0 399.0 L540.8 399.0 L538.4 398.5 L536.3 399.8 L535.0 400.0 L533.0 403.0 L534.0 406.0 L539.0 408.0 L544.0 406.0 L545.0 402.0 L542.6 400.2 L542.1 399.3 L541.1 399.1ZM551.2 418.8 L549.7 422.6 L547.4 424.8 L544.4 424.4 L541.4 425.6 L539.1 428.6 L535.4 431.6 L533.1 430.9 L532.4 427.9 L530.9 424.8 L527.9 423.8 L524.1 424.8 L521.1 426.4 L519.6 428.6 L518.8 431.6 L515.1 432.8 L511.3 433.1 L507.6 434.6 L505.3 437.6 L503.8 441.4 L501.5 445.2 L500.8 449.7 L502.3 452.7 L504.5 451.9 L506.1 448.9 L507.6 445.2 L509.8 441.4 L512.1 439.1 L514.3 441.4 L515.8 444.4 L518.8 442.9 L521.1 440.6 L523.3 441.4 L525.6 439.9 L527.1 436.1 L529.4 433.1 L530.9 436.1 L533.1 438.4 L536.1 440.6 L538.4 442.9 L540.6 445.2 L539.1 448.2 L536.9 451.9 L536.1 455.7 L536.9 459.4 L539.1 463.2 L542.1 466.2 L545.9 468.5 L549.7 470.0 L553.4 471.5 L555.7 470.7 L557.2 473.7 L559.4 476.0 L561.7 472.2 L563.9 468.5 L564.7 464.7 L563.2 462.4 L560.9 460.2 L559.4 457.2 L560.2 454.2 L562.4 451.2 L563.9 448.2 L565.5 445.9 L567.0 448.2 L569.2 451.2 L571.5 454.2 L572.2 458.7 L573.4 462.4 L574.5 460.2 L575.2 455.7 L576.7 452.7 L579.0 449.7 L580.5 445.9 L580.5 441.4 L579.0 437.6 L577.5 434.6 L576.7 430.1 L576.0 425.6 L574.5 421.1 L572.2 416.6 L570.0 412.8 L567.0 410.6 L563.2 407.6 L560.2 404.5 L560.2 407.6 L560.9 411.3 L560.2 415.1 L557.2 417.3 L553.4 417.3ZM582.0 494.0 L582.6 500.0 L582.2 506.0 L584.0 507.0 L585.0 500.0 L584.4 493.0ZM559.4 508.0 L559.0 511.0 L561.0 513.0 L564.0 511.0 L563.0 507.0ZM614.6 528.0 L611.0 526.0 L608.6 528.4 L607.8 532.4 L609.4 536.0 L613.0 535.6 L615.0 532.0ZM597.0 564.0 L598.0 572.0 L601.4 572.0 L602.0 568.0 L604.0 565.0 L609.0 565.0 L615.0 567.0 L621.0 568.0 L617.0 565.0 L613.0 563.0 L609.0 561.0 L605.0 560.4 L607.0 559.0 L611.0 556.0 L615.0 552.0 L616.0 547.0 L614.0 544.0 L611.0 545.0 L608.0 549.0 L605.0 553.0 L601.0 558.0 L598.0 554.4 L600.0 550.0 L602.0 545.0 L604.0 540.0 L603.0 535.0 L600.0 534.0 L598.0 538.0 L596.0 544.0 L595.0 551.0 L595.0 555.0 L596.0 559.0Z" fill="none" stroke="#000" stroke-width="4.4" stroke-dasharray="3 2 5 3 2 6 4 3 1 4" stroke-linejoin="round"/>
<path d="M224.1 518.2 L229.4 515.8 L233.4 512.7 L238.0 512.0 L243.6 513.3 L241.7 517.3 L238.0 519.5 L236.5 524.4 L232.5 523.8 L231.2 520.4 L227.2 521.3ZM257.2 554.0 L256.9 555.2 L255.6 555.7 L254.8 554.6 L254.5 553.3 L255.7 552.8 L256.9 552.8ZM200.2 523.0 L199.9 524.2 L198.6 524.7 L197.8 523.6 L197.5 522.3 L198.7 521.8 L199.9 521.8ZM280.2 521.0 L279.9 522.2 L278.6 522.7 L277.8 521.6 L277.5 520.3 L278.7 519.8 L279.9 519.8ZM277.2 527.0 L276.9 528.2 L275.6 528.7 L274.8 527.6 L274.5 526.3 L275.7 525.8 L276.9 525.8ZM285.2 527.0 L284.9 528.2 L283.6 528.7 L282.8 527.6 L282.5 526.3 L283.7 525.8 L284.9 525.8ZM596.0 112.0 L599.0 108.0 L603.0 104.0 L607.0 100.0 L610.0 99.0 L609.4 103.0 L606.0 107.0 L602.0 111.0 L598.0 114.0ZM623.0 74.0 L627.0 69.0 L633.0 66.0 L632.0 71.0 L628.0 75.0 L624.0 77.0ZM614.8 88.0 L614.6 88.8 L613.7 89.2 L613.2 88.4 L613.0 87.5 L613.8 87.2 L614.6 87.2ZM611.7 94.0 L611.5 94.6 L610.8 94.9 L610.3 94.3 L610.2 93.6 L610.9 93.4 L611.5 93.4ZM604.8 96.0 L604.6 96.8 L603.7 97.2 L603.2 96.4 L603.0 95.5 L603.8 95.2 L604.6 95.2ZM586.3 108.4 L586.0 109.7 L584.6 110.2 L583.7 109.0 L583.4 107.6 L584.7 107.1 L586.0 107.1ZM590.7 105.0 L590.5 105.6 L589.8 105.9 L589.3 105.3 L589.2 104.6 L589.9 104.4 L590.5 104.4ZM594.1 112.0 L593.9 113.1 L592.6 113.6 L591.9 112.6 L591.6 111.3 L592.7 110.9 L593.9 110.9ZM634.7 45.0 L634.5 45.6 L633.8 45.9 L633.3 45.3 L633.2 44.6 L633.9 44.4 L634.5 44.4ZM632.7 49.0 L632.5 49.6 L631.8 49.9 L631.3 49.3 L631.2 48.6 L631.9 48.4 L632.5 48.4ZM630.7 54.4 L630.5 55.0 L629.8 55.3 L629.3 54.7 L629.2 54.0 L629.9 53.8 L630.5 53.8ZM623.5 55.0 L623.4 55.5 L622.8 55.7 L622.5 55.2 L622.4 54.7 L622.9 54.5 L623.4 54.5ZM530.0 146.0 L534.0 143.6 L538.0 145.0 L542.0 143.0 L541.0 147.0 L537.0 149.0 L533.0 150.0ZM555.0 136.0 L558.0 135.0 L560.6 138.0 L558.6 140.4 L555.4 139.0ZM502.3 245.2 L502.0 246.5 L500.6 247.0 L499.7 245.8 L499.4 244.4 L500.7 243.9 L502.0 243.9ZM494.9 188.4 L494.7 189.5 L494.0 190.0 L493.5 189.0 L493.4 187.7 L494.1 187.3 L494.7 187.3ZM501.1 210.4 L500.9 212.4 L500.2 213.4 L499.7 211.4 L499.6 209.2 L500.3 208.3 L500.9 208.4ZM502.1 218.0 L501.9 219.1 L500.6 219.6 L499.9 218.6 L499.6 217.3 L500.7 216.9 L501.9 216.9ZM458.0 162.0 L461.0 158.0 L464.0 159.0 L466.0 164.0 L462.0 166.0ZM456.5 377.9 L459.1 376.0 L461.9 376.9 L462.2 380.5 L460.9 384.4 L458.3 385.7 L456.5 382.5ZM465.8 366.3 L469.7 365.0 L472.9 366.9 L471.6 370.8 L467.7 371.5ZM481.9 376.0 L481.7 376.5 L481.2 376.7 L480.8 376.3 L480.7 375.7 L481.2 375.5 L481.7 375.5ZM485.1 380.5 L485.0 381.0 L484.4 381.3 L484.0 380.8 L483.9 380.2 L484.4 380.0 L485.0 380.0ZM483.0 384.4 L482.9 384.8 L482.5 385.0 L482.2 384.6 L482.1 384.2 L482.5 384.0 L482.9 384.0ZM486.4 385.7 L486.3 386.2 L485.7 386.4 L485.3 386.0 L485.2 385.4 L485.7 385.2 L486.3 385.2ZM489.5 384.4 L489.4 384.8 L489.0 385.0 L488.7 384.6 L488.6 384.2 L489.0 384.0 L489.4 384.0ZM466.4 390.9 L466.3 391.5 L465.6 391.8 L465.2 391.2 L465.0 390.5 L465.7 390.3 L466.3 390.3ZM418.1 432.3 L417.9 433.1 L417.0 433.5 L416.4 432.7 L416.3 431.8 L417.1 431.4 L417.9 431.5ZM480.0 466.0 L479.7 466.9 L478.7 467.4 L478.0 466.5 L477.8 465.4 L478.8 465.0 L479.7 465.1ZM484.0 470.0 L483.7 470.9 L482.7 471.4 L482.0 470.5 L481.8 469.4 L482.8 469.0 L483.7 469.1ZM487.8 468.0 L487.6 468.8 L486.7 469.2 L486.2 468.4 L486.0 467.5 L486.8 467.2 L487.6 467.2ZM491.0 470.0 L490.7 470.9 L489.7 471.4 L489.0 470.5 L488.8 469.4 L489.8 469.0 L490.7 469.1ZM477.8 474.0 L477.6 474.8 L476.7 475.2 L476.2 474.4 L476.0 473.5 L476.8 473.2 L477.6 473.2ZM482.0 476.0 L481.7 476.9 L480.7 477.4 L480.0 476.5 L479.8 475.4 L480.8 475.0 L481.7 475.1ZM474.8 479.0 L474.6 479.8 L473.7 480.2 L473.2 479.4 L473.0 478.5 L473.8 478.2 L474.6 478.2ZM491.8 468.0 L491.6 468.8 L490.7 469.2 L490.2 468.4 L490.0 467.5 L490.8 467.2 L491.6 467.2ZM518.3 443.0 L518.0 444.3 L516.6 444.8 L515.7 443.6 L515.4 442.2 L516.7 441.7 L518.0 441.7ZM525.3 444.0 L525.0 445.3 L523.6 445.8 L522.7 444.6 L522.4 443.2 L523.7 442.7 L525.0 442.7ZM522.0 441.0 L521.7 441.9 L520.7 442.4 L520.0 441.5 L519.8 440.4 L520.8 440.0 L521.7 440.1ZM560.5 517.0 L560.4 517.5 L559.8 517.7 L559.5 517.2 L559.4 516.7 L559.9 516.5 L560.4 516.5ZM560.2 524.0 L560.0 524.8 L559.1 525.2 L558.6 524.4 L558.4 523.5 L559.2 523.2 L560.0 523.2ZM559.7 531.0 L559.5 531.6 L558.8 531.9 L558.3 531.3 L558.2 530.6 L558.9 530.4 L559.5 530.4ZM559.7 534.0 L559.5 534.6 L558.8 534.9 L558.3 534.3 L558.2 533.6 L558.9 533.4 L559.5 533.4ZM594.8 560.0 L594.6 563.1 L593.7 564.6 L593.2 561.6 L593.0 558.1 L593.8 556.8 L594.6 556.9ZM589.5 490.0 L589.4 490.5 L588.8 490.7 L588.5 490.2 L588.4 489.7 L588.9 489.5 L589.4 489.5ZM560.9 394.0 L563.9 392.5 L566.2 396.3 L569.2 398.5 L571.5 401.5 L570.7 407.6 L567.7 406.1 L564.7 403.0 L562.4 399.3ZM502.4 317.0 L502.1 319.5 L501.0 320.7 L500.3 318.3 L500.1 315.5 L501.1 314.4 L502.1 314.5ZM242.0 206.4 L247.0 205.0 L251.0 203.0 L255.0 200.0 L260.0 198.0 L266.0 196.0 L266.0 200.0 L261.0 203.0 L256.0 205.0 L251.0 207.0 L247.0 209.0 L243.0 210.0ZM493.0 45.0 L498.0 43.0 L503.0 45.0 L502.0 51.0 L499.0 56.0 L495.0 55.0 L492.0 50.0ZM460.0 99.0 L465.0 97.6 L469.0 100.0 L468.6 105.0 L464.0 106.4 L460.6 104.0ZM454.0 124.0 L460.0 120.0 L466.0 121.0 L467.0 126.0 L462.0 130.0 L456.0 129.6ZM431.0 145.0 L437.0 140.0 L443.0 138.0 L447.0 141.0 L443.0 147.0 L437.0 151.0 L432.0 151.0ZM479.0 76.0 L484.0 74.0 L489.0 70.0 L491.0 72.0 L487.0 77.0 L482.0 81.0 L479.0 80.0ZM194.3 552.3 L193.4 553.2 L191.0 552.9 L189.6 551.0 L188.9 549.3 L190.9 549.2 L192.9 549.4 L195.1 551.0ZM198.1 556.7 L197.0 557.1 L195.4 556.0 L195.3 554.2 L195.5 552.7 L197.0 553.3 L198.3 554.1 L199.3 556.0ZM205.3 553.5 L204.7 554.8 L202.5 555.3 L201.0 553.9 L200.0 552.4 L201.6 551.5 L203.4 551.0 L205.6 551.8ZM209.3 557.3 L208.3 557.9 L206.7 557.2 L206.3 555.7 L206.3 554.3 L207.7 554.5 L209.1 555.0 L210.2 556.4ZM200.9 562.3 L199.6 562.4 L198.0 560.8 L198.2 558.6 L198.8 557.0 L200.3 558.0 L201.7 559.3 L202.3 561.8ZM196.7 563.5 L196.2 564.4 L194.5 564.6 L193.4 563.4 L192.7 562.3 L194.0 561.8 L195.4 561.7 L197.1 562.4ZM206.3 564.7 L205.2 565.2 L203.4 564.2 L203.1 562.4 L203.2 560.8 L204.8 561.2 L206.3 561.9 L207.5 563.8ZM211.5 562.1 L211.2 563.0 L209.8 563.5 L208.8 562.7 L208.0 561.8 L209.0 561.1 L210.1 560.7 L211.6 561.1ZM202.6 568.1 L201.8 568.8 L200.0 568.5 L199.2 566.9 L198.8 565.5 L200.3 565.5 L201.8 565.8 L203.4 567.1ZM207.4 569.6 L206.4 569.6 L205.4 568.4 L205.8 567.0 L206.4 565.9 L207.5 566.7 L208.3 567.6 L208.6 569.3ZM190.2 547.5 L189.7 548.2 L188.4 548.3 L187.8 547.3 L187.4 546.3 L188.4 546.0 L189.5 545.9 L190.6 546.6ZM349.6 178.8 L355.8 168.5 L358.9 169.5 L361.0 176.8 L366.2 180.9 L371.3 178.8 L378.6 174.7 L380.6 178.8 L374.4 185.0 L367.2 188.1 L361.0 187.1 L354.8 189.2 L349.6 187.1Z" fill="#000" stroke="#000" stroke-width="0.8" stroke-linejoin="round"/>
<path d="M476.8 148.2 L473.6 153.3 L471.1 158.5 L470.4 164.8 L471.1 170.0 L473.0 175.1 L475.6 180.2 L478.8 184.6 L480.4 189.1 L481.3 189.1 L482.6 186.6 L483.9 180.2 L486.4 175.7 L489.6 171.2 L492.8 166.1 L494.1 159.7 L496.0 153.3 L497.9 146.9 L499.2 140.6 L500.5 134.2 L499.2 131.0 L494.7 128.4 L490.9 129.7 L486.4 132.9 L483.2 137.4 L480.0 142.5ZM492.6 238.6 L493.9 238.1 L494.1 237.0 L493.9 235.9 L492.7 235.9 L491.6 236.3 L491.9 237.6ZM278.4 251.0 L282.0 254.0 L288.0 255.6 L294.0 256.0 L299.0 254.0 L303.0 251.0 L307.0 247.0 L311.0 243.0 L313.0 239.0 L315.0 235.0 L317.0 231.0 L316.0 227.0 L313.0 224.0 L308.0 224.4 L302.0 225.6 L296.0 226.0 L290.0 227.0 L285.0 229.0 L281.0 233.0 L278.0 237.0 L277.0 241.0 L277.0 246.0ZM491.7 246.1 L492.0 245.2 L491.7 244.3 L490.8 244.2 L489.8 244.6 L490.0 245.7 L490.7 246.6ZM120.1 442.4 L122.6 445.4 L125.7 449.4 L127.7 453.5 L131.2 455.5 L134.2 457.5 L138.3 460.5 L134.6 462.0 L136.0 470.0 L136.6 478.0 L138.0 484.0 L141.0 490.0 L142.0 497.0 L145.0 502.0 L148.0 508.0 L152.0 514.0 L154.0 520.0 L158.0 524.0 L163.0 528.0 L169.0 532.0 L175.0 536.0 L180.0 540.0 L185.0 544.0 L190.0 548.0 L195.0 549.0 L199.0 549.0 L202.0 547.0 L201.0 542.0 L199.0 536.0 L197.0 530.0 L193.0 525.0 L190.0 520.0 L188.0 514.0 L186.6 508.0 L187.0 502.0 L188.6 496.0 L188.0 490.0 L186.0 484.0 L183.0 479.0 L179.0 474.0 L173.0 470.0 L167.0 465.0 L162.0 461.0 L159.9 460.5 L157.9 457.5 L155.4 454.5 L152.4 454.5 L148.3 455.0 L144.3 452.5 L141.3 448.4 L138.8 444.4 L136.8 439.4 L135.7 434.3 L135.2 429.8 L132.7 427.3 L129.7 424.2 L128.7 418.2 L127.7 414.2 L125.2 413.1 L121.1 413.6 L118.6 412.6 L117.1 406.6 L115.6 403.6 L116.6 400.5 L116.6 395.0 L116.6 395.0 L118.0 390.0 L121.0 382.0 L123.0 374.0 L127.0 368.0 L130.0 364.0 L131.0 356.0 L131.0 347.0 L130.0 343.0 L135.0 339.0 L141.0 340.0 L147.0 340.4 L147.6 344.0 L146.0 348.0 L144.0 352.0 L146.0 354.4 L151.0 355.0 L156.0 355.0 L160.0 354.0 L164.0 357.0 L168.0 359.0 L171.0 363.0 L175.0 364.0 L178.0 367.0 L180.0 372.0 L183.0 377.0 L185.0 382.0 L188.0 384.0 L190.0 381.0 L193.0 383.0 L192.0 387.0 L190.0 390.0 L194.0 391.0 L199.0 393.0 L204.0 396.0 L209.0 398.0 L214.0 399.6 L215.8 402.0 L214.6 406.0 L213.8 412.0 L214.6 418.0 L211.0 424.0 L213.0 425.0 L217.0 422.4 L220.0 420.0 L226.0 416.0 L233.0 411.0 L239.0 408.0 L244.0 402.0 L249.0 396.0 L255.0 393.0 L261.0 390.0 L266.0 388.0 L266.0 385.0 L271.0 383.0 L276.0 380.0 L282.0 377.0 L285.0 372.0 L286.0 366.0 L287.0 359.0 L290.0 354.0 L289.0 348.0 L287.0 338.0 L286.0 330.0 L284.0 322.0 L282.0 314.0 L280.0 308.0 L276.0 303.0 L271.0 298.0 L266.0 294.0 L263.0 291.0 L258.0 287.0 L253.0 282.0 L249.0 276.0 L244.0 269.0 L240.0 264.0 L238.0 259.0 L234.0 256.0 L230.0 252.0 L227.0 247.0 L226.0 242.0 L228.0 236.0 L230.0 229.0 L233.0 224.0 L239.0 218.0 L241.0 211.0 L242.0 209.0 L243.0 206.0 L247.0 205.0 L251.0 203.0 L255.0 201.0 L259.0 198.0 L263.0 197.0 L266.0 197.0 L270.0 195.0 L274.0 192.0 L277.0 194.0 L281.0 195.0 L285.0 197.0 L289.0 197.0 L292.0 194.0 L296.0 197.0 L297.0 202.0 L298.0 208.0 L299.0 215.0 L300.0 220.0 L303.0 221.0 L307.0 220.0 L309.0 217.0 L308.4 212.0 L308.8 207.0 L309.6 203.0 L313.0 201.0 L318.0 198.0 L324.0 197.0 L328.0 195.0 L332.0 193.0 L336.0 192.0 L340.0 190.0 L343.0 193.0 L346.0 192.0 L348.0 189.0 L350.0 186.0 L349.0 181.0 L351.0 180.0 L354.0 185.0 L356.0 182.0 L357.0 175.0 L356.0 169.0 L359.0 169.0 L360.0 175.0 L362.0 179.0 L364.0 184.0 L366.0 182.0 L369.0 180.0 L372.0 183.0 L375.0 180.0 L378.0 177.0 L381.0 175.0 L384.0 176.0 L388.0 174.0 L392.0 175.0 L396.0 173.0 L402.0 172.0 L406.0 170.0 L409.0 167.0 L411.0 163.0 L414.0 162.0 L418.0 160.0 L421.0 159.0 L423.0 156.0 L427.0 153.0 L431.0 150.0 L433.0 145.0 L438.0 142.0 L442.0 140.0 L445.0 136.0 L449.0 134.0 L451.0 129.0 L454.0 124.0 L459.0 120.0 L461.0 115.0 L464.0 110.0 L461.0 106.0 L461.3 99.4 L465.9 97.8 L470.4 95.5 L474.9 90.3 L478.8 83.9 L484.0 76.1 L488.5 72.2 L493.7 68.3 L495.6 61.9 L497.6 55.4 L496.9 48.9 L500.2 43.8 L500.8 37.9 L501.0 37.0 L111.0 36.0 L111.0 435.0 L113.3 435.3 L116.1 434.8 L118.1 437.3ZM483.9 357.1 L485.2 360.3 L487.1 362.3 L489.7 360.3 L492.3 357.1 L493.6 353.2 L493.6 349.3 L492.3 346.1 L489.7 343.5 L485.8 341.6 L481.9 340.3 L477.4 339.6 L474.8 340.3 L476.8 342.9 L479.3 346.1 L481.3 350.0 L482.6 353.9ZM430.9 421.9 L435.4 417.4 L439.9 413.5 L443.8 409.6 L447.0 404.5 L450.3 400.6 L455.5 396.7 L459.3 394.1 L461.9 390.9 L461.9 387.6 L460.0 387.0 L456.7 388.9 L452.9 392.8 L447.7 398.0 L442.5 403.8 L437.3 409.6 L432.2 414.8 L427.0 419.3 L421.8 425.8 L417.3 434.9 L417.9 436.8 L419.2 432.9 L422.5 428.4 L426.3 425.2ZM416.6 446.5 L417.9 449.3 L418.7 449.3 L416.0 452.0 L413.0 453.0 L411.0 456.0 L409.0 460.0 L406.0 464.0 L402.0 468.0 L398.0 473.0 L394.0 476.0 L391.0 479.0 L394.0 483.0 L390.0 486.0 L386.0 485.0 L382.0 487.0 L379.0 489.0 L375.0 492.0 L372.0 495.0 L369.0 493.0 L366.0 497.0 L363.0 502.0 L359.0 507.0 L355.0 511.0 L351.0 515.0 L348.0 518.4 L343.0 519.6 L336.0 520.4 L330.0 522.0 L324.0 523.0 L321.0 524.0 L320.0 532.0 L319.0 539.0 L318.0 544.0 L314.0 543.0 L309.0 544.0 L306.0 541.0 L301.0 541.0 L296.0 542.0 L293.0 539.0 L291.0 537.0 L286.0 544.0 L283.0 550.0 L281.0 557.0 L283.0 558.0 L285.0 564.0 L286.0 570.0 L286.0 572.0 L426.0 572.0 L426.0 570.0 L428.0 565.0 L431.0 560.0 L435.0 556.0 L441.0 558.0 L447.0 557.0 L451.0 554.0 L448.0 550.0 L443.0 546.0 L438.0 541.0 L435.0 536.0 L432.0 532.0 L429.0 526.0 L428.0 520.0 L425.0 516.0 L427.0 511.0 L430.0 508.0 L427.0 504.0 L430.0 501.0 L433.0 499.0 L438.0 498.0 L443.0 497.0 L447.0 495.0 L445.0 493.0 L440.0 491.0 L438.0 488.0 L443.0 486.0 L449.0 485.0 L454.0 484.0 L456.0 481.0 L453.0 479.0 L447.0 476.0 L441.0 474.0 L435.0 472.0 L431.0 468.0 L428.0 462.0 L425.0 457.0 L421.0 452.0 L419.2 449.2 L421.2 449.1 L422.5 446.8 L419.9 445.2ZM469.0 483.6 L472.6 483.6 L475.0 481.0 L472.0 479.0 L468.0 481.0ZM269.6 510.2 L273.9 504.0 L269.0 498.7 L264.7 504.9ZM154.0 537.0 L155.3 540.4 L154.0 540.0 L150.0 536.0 L147.0 538.0 L145.0 535.0 L141.0 533.0 L136.0 529.0 L132.0 526.0 L130.0 522.0 L125.0 517.0 L119.0 512.0 L113.0 509.0 L111.0 509.0 L111.0 555.0 L113.5 556.0 L116.0 561.0 L121.0 566.0 L125.0 572.0 L194.0 572.0 L194.0 570.4 L190.0 568.0 L187.0 565.0 L184.0 563.0 L180.0 560.0 L178.1 557.8 L180.0 554.0 L176.0 549.0 L171.0 545.0 L167.2 545.8 L165.0 545.0 L161.0 542.0 L156.5 540.7 L159.0 541.0 L160.4 538.0 L158.0 535.6ZM501.6 234.8 L501.8 234.0 L501.6 233.2 L500.8 233.2 L500.0 233.5 L500.2 234.4 L500.7 235.2ZM475.4 280.0 L476.0 286.0 L474.2 284.0 L474.2 287.9 L474.8 291.8 L473.5 294.3 L470.3 294.3 L469.4 291.8 L468.3 290.5 L466.0 290.5 L465.1 291.8 L465.5 295.6 L466.4 300.8 L467.7 306.0 L469.0 311.2 L470.3 315.0 L472.2 317.6 L474.8 320.2 L477.4 322.8 L478.1 320.9 L477.4 318.3 L479.3 317.6 L482.6 318.3 L484.5 320.2 L483.9 324.1 L481.9 325.4 L480.0 327.3 L478.7 329.3 L479.3 331.9 L481.3 332.5 L479.3 333.8 L481.9 335.1 L485.2 336.4 L488.4 337.7 L491.0 337.0 L492.9 335.1 L495.5 333.2 L498.1 332.5 L500.0 333.5 L500.1 333.6 L503.3 336.2 L505.2 336.6 L505.9 337.0 L507.8 339.0 L509.7 341.6 L511.0 344.2 L511.5 344.2 L512.6 344.5 L512.7 344.2 L513.0 344.2 L513.0 343.0 L513.1 342.5 L513.0 342.0 L513.0 341.6 L512.6 340.5 L512.1 338.8 L511.6 335.7 L513.1 334.2 L515.0 334.5 L515.6 335.1 L517.5 337.0 L520.1 339.6 L522.7 342.2 L524.6 344.1 L526.1 347.1 L528.7 349.2 L529.3 349.3 L529.8 350.0 L531.7 352.6 L534.3 355.2 L535.4 355.4 L535.9 355.9 L536.4 355.7 L536.9 355.8 L537.1 355.4 L538.0 354.9 L538.5 352.3 L537.5 349.2 L539.6 348.2 L539.0 346.1 L537.8 345.4 L537.6 344.8 L536.6 344.6 L536.5 344.5 L533.8 343.8 L531.7 342.2 L530.1 340.6 L529.9 340.1 L531.1 338.3 L533.7 337.0 L535.6 335.7 L535.4 333.8 L534.6 334.0 L531.3 332.6 L527.1 332.1 L524.0 333.1 L521.4 332.6 L519.3 329.5 L516.7 326.4 L512.6 325.9 L509.5 327.4 L509.4 327.8 L509.1 328.0 L505.9 327.3 L503.3 326.0 L500.7 322.8 L497.5 319.6 L495.5 316.3 L494.2 312.5 L492.3 309.9 L492.9 306.0 L494.9 302.1 L495.5 298.2 L496.8 295.6 L500.7 293.7 L503.3 291.8 L505.2 289.2 L507.2 286.6 L508.5 284.0 L507.0 293.0 L509.0 288.0 L511.0 282.0 L510.0 276.0 L508.0 272.0 L506.0 268.0 L506.6 263.0 L508.0 258.0 L508.0 253.0 L506.0 251.0 L504.0 254.0 L500.0 255.6 L496.0 255.0 L492.0 253.0 L488.0 251.0 L484.0 250.0 L479.0 251.0 L477.0 256.0 L476.0 262.0 L475.4 268.0 L475.0 274.0ZM503.0 344.5 L503.9 342.0 L502.6 339.9 L502.3 339.9 L502.2 339.7 L500.1 340.1 L500.1 340.2 L499.7 340.3 L499.1 342.5 L500.4 344.8ZM503.3 360.6 L503.5 357.7 L503.3 354.9 L502.4 354.8 L501.6 356.0 L501.8 359.2 L502.4 361.9ZM510.8 360.4 L512.6 359.9 L513.0 359.0 L512.6 358.1 L510.9 358.1 L509.3 358.5 L509.6 359.5ZM525.6 360.6 L527.1 362.2 L529.7 363.7 L532.3 365.8 L534.9 368.4 L537.0 369.9 L537.5 368.9 L535.4 365.8 L532.8 363.2 L530.2 360.6 L528.2 358.5 L526.1 357.0 L523.5 357.5 L523.0 360.1 L521.4 362.7 L521.9 364.8 L523.5 362.7ZM502.5 391.7 L502.7 392.8 L505.3 390.7 L507.0 389.0 L509.0 388.0 L513.0 386.0 L517.0 383.0 L518.3 381.7 L518.8 381.4 L519.2 380.8 L520.0 380.0 L520.8 378.3 L520.9 378.2 L520.9 378.2 L522.0 376.0 L519.0 374.0 L513.0 373.0 L507.0 370.0 L506.8 370.0 L505.9 369.4 L504.8 369.6 L502.0 369.0 L502.6 376.0 L502.0 382.0 L501.0 388.0 L502.0 392.0ZM516.0 412.0 L520.0 415.0 L522.0 410.0 L523.0 404.0 L524.0 398.0 L526.0 392.0 L527.0 387.0 L523.0 385.0 L518.0 386.0 L517.0 392.0 L516.0 398.0 L513.0 401.0 L509.0 403.0 L512.0 408.0ZM498.0 459.0 L500.6 462.0 L504.6 461.0 L504.8 459.7 L505.3 457.9 L503.0 456.4 L501.6 457.2 L501.0 457.0ZM487.0 559.6 L493.0 560.0 L499.0 561.0 L505.0 560.0 L511.0 561.0 L517.0 562.0 L523.0 563.0 L529.0 564.4 L535.0 565.0 L541.0 563.0 L546.0 560.0 L549.0 556.0 L552.0 552.0 L555.0 548.0 L557.0 544.0 L554.0 542.0 L550.0 543.0 L547.0 546.0 L544.0 549.0 L541.0 552.0 L537.0 554.0 L531.0 555.0 L525.0 556.0 L519.0 555.6 L513.0 555.0 L507.0 554.0 L501.0 553.0 L494.0 552.0 L492.0 550.0 L487.0 549.0 L483.0 548.0 L479.0 552.0 L474.0 554.0 L472.0 558.0 L468.0 564.0 L467.0 572.0 L470.0 572.0 L472.0 566.0 L476.0 563.0 L481.0 561.0ZM621.1 83.5 L621.5 81.6 L621.1 79.7 L619.7 79.7 L618.2 80.5 L618.5 82.5 L619.5 84.4ZM539.6 330.5 L537.0 331.6 L537.0 335.7 L538.0 338.3 L540.6 338.3 L542.7 335.7 L542.2 332.6ZM552.0 368.9 L553.6 372.5 L555.1 376.2 L556.7 379.3 L556.7 383.4 L558.2 387.6 L560.3 389.1 L561.6 387.6 L561.1 383.4 L561.9 379.8 L562.4 376.2 L561.4 372.0 L561.9 367.9 L560.8 363.7 L558.8 360.6 L557.2 357.5 L554.1 355.9 L549.9 356.5 L544.8 357.5 L540.6 357.0 L541.6 359.0 L544.2 361.1 L547.3 363.2 L549.9 365.8ZM546.8 392.8 L547.9 398.0 L549.9 399.0 L550.7 397.4 L551.0 398.0 L554.0 399.0 L556.0 395.0 L554.0 390.0 L553.3 388.0 L553.1 385.0 L552.5 380.3 L552.0 377.2 L548.9 378.2 L548.5 378.5 L546.0 376.0 L545.3 375.6 L545.8 374.1 L543.7 372.5 L541.1 374.1 L541.1 377.2 L542.2 380.3 L542.7 385.0 L544.8 388.6ZM527.0 404.0 L530.0 398.0 L533.0 392.0 L536.0 386.0 L538.0 380.0 L536.0 378.0 L534.0 382.0 L531.0 389.0 L528.0 396.0 L526.0 402.0 L525.0 408.0ZM541.0 399.0 L540.8 399.0 L538.4 398.5 L536.3 399.8 L535.0 400.0 L533.0 403.0 L534.0 406.0 L539.0 408.0 L544.0 406.0 L545.0 402.0 L542.6 400.2 L542.1 399.3 L541.1 399.1ZM551.2 418.8 L549.7 422.6 L547.4 424.8 L544.4 424.4 L541.4 425.6 L539.1 428.6 L535.4 431.6 L533.1 430.9 L532.4 427.9 L530.9 424.8 L527.9 423.8 L524.1 424.8 L521.1 426.4 L519.6 428.6 L518.8 431.6 L515.1 432.8 L511.3 433.1 L507.6 434.6 L505.3 437.6 L503.8 441.4 L501.5 445.2 L500.8 449.7 L502.3 452.7 L504.5 451.9 L506.1 448.9 L507.6 445.2 L509.8 441.4 L512.1 439.1 L514.3 441.4 L515.8 444.4 L518.8 442.9 L521.1 440.6 L523.3 441.4 L525.6 439.9 L527.1 436.1 L529.4 433.1 L530.9 436.1 L533.1 438.4 L536.1 440.6 L538.4 442.9 L540.6 445.2 L539.1 448.2 L536.9 451.9 L536.1 455.7 L536.9 459.4 L539.1 463.2 L542.1 466.2 L545.9 468.5 L549.7 470.0 L553.4 471.5 L555.7 470.7 L557.2 473.7 L559.4 476.0 L561.7 472.2 L563.9 468.5 L564.7 464.7 L563.2 462.4 L560.9 460.2 L559.4 457.2 L560.2 454.2 L562.4 451.2 L563.9 448.2 L565.5 445.9 L567.0 448.2 L569.2 451.2 L571.5 454.2 L572.2 458.7 L573.4 462.4 L574.5 460.2 L575.2 455.7 L576.7 452.7 L579.0 449.7 L580.5 445.9 L580.5 441.4 L579.0 437.6 L577.5 434.6 L576.7 430.1 L576.0 425.6 L574.5 421.1 L572.2 416.6 L570.0 412.8 L567.0 410.6 L563.2 407.6 L560.2 404.5 L560.2 407.6 L560.9 411.3 L560.2 415.1 L557.2 417.3 L553.4 417.3ZM582.0 494.0 L582.6 500.0 L582.2 506.0 L584.0 507.0 L585.0 500.0 L584.4 493.0ZM559.4 508.0 L559.0 511.0 L561.0 513.0 L564.0 511.0 L563.0 507.0ZM614.6 528.0 L611.0 526.0 L608.6 528.4 L607.8 532.4 L609.4 536.0 L613.0 535.6 L615.0 532.0ZM597.0 564.0 L598.0 572.0 L601.4 572.0 L602.0 568.0 L604.0 565.0 L609.0 565.0 L615.0 567.0 L621.0 568.0 L617.0 565.0 L613.0 563.0 L609.0 561.0 L605.0 560.4 L607.0 559.0 L611.0 556.0 L615.0 552.0 L616.0 547.0 L614.0 544.0 L611.0 545.0 L608.0 549.0 L605.0 553.0 L601.0 558.0 L598.0 554.4 L600.0 550.0 L602.0 545.0 L604.0 540.0 L603.0 535.0 L600.0 534.0 L598.0 538.0 L596.0 544.0 L595.0 551.0 L595.0 555.0 L596.0 559.0Z" fill="#c0c0c0" fill-rule="evenodd" stroke="#000" stroke-width="1.3" stroke-linejoin="round"/>
<path d="M111.0 168.0 L122.0 168.4 L123.0 172.0 L120.0 175.0 L119.0 180.0 L117.0 185.0 L120.0 187.0 L128.0 188.0 L130.0 193.0 L133.0 197.0 L138.0 198.4 L144.0 196.4 L148.0 193.6 L150.0 196.0 L150.4 200.0 L152.0 203.0 L157.0 203.6 L160.0 202.4 L159.0 198.0 L160.0 193.0 L158.0 190.0 L157.0 185.0 L159.0 180.0 L163.0 180.0 L167.0 182.0 L169.0 179.0 L172.0 175.0 L177.0 176.0 L182.0 180.0 L186.0 175.0 L190.0 178.0 L192.0 175.0 L195.0 177.0 L199.0 180.0 L203.0 175.0 L207.0 174.0 L211.0 170.0 L215.0 167.0 L220.0 163.6 L223.0 166.0 L227.0 169.0 L233.0 171.0 L239.0 172.0 L244.0 174.0 L245.0 177.0 L242.0 179.0 L243.0 184.0 L244.0 188.0 L248.0 190.0 L252.0 193.0 L258.0 195.0 L263.0 197.0M149.6 197.0 L144.0 201.0 L141.0 203.0 L140.0 207.0 L136.0 211.0 L133.0 213.0 L132.6 218.0M132.6 218.0 L130.0 217.4 L127.0 219.0 L122.0 219.6 L120.0 223.0 L115.0 225.0 L111.0 227.0M132.6 218.0 L136.0 220.0 L140.0 223.6 L138.0 229.0 L141.0 232.4 L146.0 233.4 L151.0 233.0 L153.0 237.0 L152.0 241.0 L153.4 244.0 L151.0 248.0 L149.0 253.0 L150.4 258.0 L148.0 263.0 L146.0 268.0 L148.0 270.4 L152.0 268.0 L158.0 263.0 L162.0 259.0 L166.0 257.6 L170.0 259.4 L174.0 264.4 L178.0 262.4 L183.0 259.0 L186.0 254.0 L190.0 253.4 L195.0 256.0 L199.0 256.0 L202.0 260.0 L206.6 264.0 L209.0 268.0 L211.0 272.0 L210.0 277.0 L212.0 282.0 L214.0 288.0 L216.0 293.0 L220.0 294.0 L224.0 299.0 L225.0 305.0 L223.0 310.0 L224.0 316.0 L222.0 322.0 L220.0 326.0 L218.0 327.0M167.0 182.0 L170.0 186.0 L174.0 190.0 L178.0 192.0 L180.0 195.0 L181.0 201.0 L184.0 207.0 L188.0 209.0 L192.0 210.0 L195.0 212.0 L199.0 208.0 L203.0 209.0 L207.0 213.0 L206.0 218.0 L211.0 220.0 L214.0 223.0 L213.0 227.0 L209.0 229.0 L205.0 230.0 L200.0 231.0 L197.0 237.0 L201.0 239.0 L207.0 242.0 L212.0 246.0 L216.0 249.0 L219.0 252.0 L221.0 256.0 L225.0 259.0 L228.0 263.0 L231.0 267.0 L234.0 270.0 L237.0 274.0 L239.0 278.0 L241.0 282.0 L244.0 287.0 L248.0 289.0 L251.0 292.0 L253.0 293.0 L255.0 298.0 L253.0 303.0 L256.0 307.0 L260.0 310.0 L259.0 315.0 L256.0 320.0M218.0 327.0 L215.0 324.4 L209.0 324.0 L202.0 324.4 L195.0 325.0 L188.0 325.0 L182.0 326.0 L178.0 330.0 L174.0 335.0 L170.6 339.0 L171.0 346.0 L173.0 351.0 L174.6 356.0 L176.6 361.0 L178.0 364.4M218.0 327.0 L220.0 328.0 L225.0 329.0 L229.0 328.0 L231.0 326.0 L236.0 324.0 L241.0 321.6 L247.0 323.0 L252.0 322.0 L255.4 320.0M255.4 320.0 L254.0 325.0 L255.0 330.0 L258.0 335.0 L259.4 341.0 L259.0 348.0 L258.0 354.0 L257.0 360.0 L251.0 363.0 L245.0 365.0 L239.0 367.0 L233.0 370.0 L230.0 372.0 L231.0 376.0 L229.0 379.0 L232.0 382.0 L229.0 386.0 L225.0 388.0 L221.0 390.0 L218.0 394.0 L215.4 399.0M111.0 332.0 L116.0 333.0 L117.0 338.0 L119.0 344.0 L118.0 349.0 L120.0 356.0 L122.0 363.0 L124.0 369.0 L124.6 371.6M230.0 316.0 L231.0 324.0 L230.6 332.0 L230.0 342.0 L232.0 356.0M214.0 374.0 L217.0 380.0 L220.0 386.0 L225.0 392.0 L231.0 399.0 L236.0 404.0 L239.0 406.4M219.0 384.0 L224.0 388.0 L230.0 393.0 L236.0 397.0 L242.0 399.0M212.0 367.6 L215.0 369.0 L220.0 367.6 L224.0 363.0M134.6 458.4 L139.0 460.0 L143.0 462.0 L146.0 465.0 L148.0 470.0 L147.0 473.0 L151.0 474.0 L154.0 471.0 L159.0 472.0 L164.0 470.0 L165.0 467.0 L166.6 465.0M372.0 495.0 L376.0 502.0 L379.0 500.0 L381.0 495.0 L382.0 488.0M385.0 487.0 L386.0 494.0 L389.0 497.0 L388.0 490.0 L387.0 487.0M291.0 537.0 L294.0 543.0 L298.0 548.0 L303.0 553.0 L308.0 556.0 L314.0 554.0 L320.0 552.0 L325.0 553.0 L330.0 552.0 L335.0 549.0 L336.0 545.0 L341.0 543.6 L347.0 543.6 L351.0 546.0 L357.0 548.0 L362.0 549.0 L367.0 546.0 L372.0 545.0 L377.0 543.0 L380.0 539.0 L381.0 534.0 L384.0 530.0 L387.0 527.0 L386.0 522.0 L389.0 519.0 L393.0 517.0 L394.0 510.0 L393.6 504.0 L396.0 499.0 L400.0 497.0 L406.0 497.0 L414.0 496.6 L421.0 496.6M448.0 47.4 L449.7 47.9 L451.4 46.6 L452.9 46.1M300.0 163.6 L303.0 161.0 L306.0 160.6 L309.0 162.0 L313.0 163.0 L318.0 162.4 L323.0 161.6" fill="none" stroke="#000" stroke-width="1.25" stroke-linejoin="round"/>
<path d="M130.5 38v5M130.5 570v-4M164.5 38v5M164.5 570v-4M198.5 38v5M198.5 570v-4M231.5 38v5M231.5 570v-4M265.5 38v5M265.5 570v-4M299.5 38v5M299.5 570v-4M333.5 38v5M333.5 570v-4M367.5 38v5M367.5 570v-4M400.5 38v5M400.5 570v-4M434.5 38v5M434.5 570v-4M468.5 38v5M468.5 570v-4M502.5 38v5M502.5 570v-4M536.5 38v5M536.5 570v-4M569.5 38v5M569.5 570v-4M603.5 38v5M603.5 570v-4M637.5 38v5M637.5 570v-4M113 570.5h5M637 570.5h-4M113 536.5h5M637 536.5h-4M113 502.5h5M637 502.5h-4M113 468.5h5M637 468.5h-4M113 434.5h5M637 434.5h-4M113 400.5h5M637 400.5h-4M113 366.5h5M637 366.5h-4M113 331.5h5M637 331.5h-4M113 296.5h5M637 296.5h-4M113 261.5h5M637 261.5h-4M113 225.5h5M637 225.5h-4M113 189.5h5M637 189.5h-4M113 152.5h5M637 152.5h-4M113 115.5h5M637 115.5h-4M113 77.5h5M637 77.5h-4M113 38.5h5M637 38.5h-4" stroke="#000" stroke-width="1" fill="none" shape-rendering="crispEdges"/>
</g>
<rect x="112" y="37" width="526" height="534" fill="none" stroke="#000" stroke-width="2" shape-rendering="crispEdges"/>
<text x="375.8" y="20" font-size="13.05" fill="#000050" text-anchor="middle">Significant Wave Height with Wave Direction</text>
<text x="374.8" y="32" font-size="12" font-style="italic" fill="#000050" text-anchor="middle">Valid For Dec-11-2014 18:00 GMT</text>
<text x="147.4" y="588" font-size="11" font-style="italic" fill="#000050" text-anchor="end">100 E</text>
<text x="231.9" y="588" font-size="11" font-style="italic" fill="#000050" text-anchor="end">105 E</text>
<text x="316.4" y="588" font-size="11" font-style="italic" fill="#000050" text-anchor="end">110 E</text>
<text x="400.9" y="588" font-size="11" font-style="italic" fill="#000050" text-anchor="end">115 E</text>
<text x="485.4" y="588" font-size="11" font-style="italic" fill="#000050" text-anchor="end">120 E</text>
<text x="569.9" y="588" font-size="11" font-style="italic" fill="#000050" text-anchor="end">125 E</text>
<text x="654.4" y="588" font-size="11" font-style="italic" fill="#000050" text-anchor="end">130 E</text>
<text x="645.3" y="574.2" font-size="11" font-style="italic" fill="#000050">0</text>
<text x="645.3" y="489.6" font-size="11" font-style="italic" fill="#000050">5 N</text>
<text x="645.3" y="404.3" font-size="11" font-style="italic" fill="#000050">10 N</text>
<text x="645.3" y="317.8" font-size="11" font-style="italic" fill="#000050">15 N</text>
<text x="645.3" y="229.1" font-size="11" font-style="italic" fill="#000050">20 N</text>
<text x="645.3" y="137.6" font-size="11" font-style="italic" fill="#000050">25 N</text>
<text x="645.3" y="42.3" font-size="11" font-style="italic" fill="#000050">30 N</text>
<text x="113" y="601.5" font-size="11" fill="#000050" letter-spacing="0.13">oceanweather inc.</text>
<text x="522.2" y="598.7" font-size="7.6" font-style="italic" fill="#000050" textLength="115.3" lengthAdjust="spacingAndGlyphs">Plotted at Dec 11, 2014 11:10 GMT</text>
<text x="305.2" y="613.9" font-size="9.3" fill="#000050" textLength="139.8" lengthAdjust="spacing">Significant Wave Height (Meters)</text>
<text x="256.5" y="625.9" font-size="8.6" fill="#000050" text-anchor="middle">0</text>
<text x="276.5" y="625.9" font-size="8.6" fill="#000050" text-anchor="middle">1</text>
<text x="296.5" y="625.9" font-size="8.6" fill="#000050" text-anchor="middle">2</text>
<text x="316.5" y="625.9" font-size="8.6" fill="#000050" text-anchor="middle">3</text>
<text x="336.5" y="625.9" font-size="8.6" fill="#000050" text-anchor="middle">4</text>
<text x="356.5" y="625.9" font-size="8.6" fill="#000050" text-anchor="middle">5</text>
<text x="376.5" y="625.9" font-size="8.6" fill="#000050" text-anchor="middle">6</text>
<text x="396.5" y="625.9" font-size="8.6" fill="#000050" text-anchor="middle">7</text>
<text x="416.5" y="625.9" font-size="8.6" fill="#000050" text-anchor="middle">8</text>
<text x="436.5" y="625.9" font-size="8.6" fill="#000050" text-anchor="middle">9</text>
<text x="457.7" y="625.9" font-size="8.6" fill="#000050" text-anchor="middle">10</text>
<text x="477.1" y="625.9" font-size="8.6" fill="#000050" text-anchor="middle">11</text>
<text x="496.9" y="625.9" font-size="8.6" fill="#000050" text-anchor="middle">12</text>
<rect x="255" y="629" width="241" height="13" fill="url(#cb)"/>
<text x="256.5" y="649.9" font-size="8.6" fill="#000050" text-anchor="middle">0</text>
<text x="286.6" y="649.9" font-size="8.6" fill="#000050" text-anchor="middle">5</text>
<text x="316.7" y="649.9" font-size="8.6" fill="#000050" text-anchor="middle">10</text>
<text x="346.8" y="649.9" font-size="8.6" fill="#000050" text-anchor="middle">15</text>
<text x="376.9" y="649.9" font-size="8.6" fill="#000050" text-anchor="middle">20</text>
<text x="407.0" y="649.9" font-size="8.6" fill="#000050" text-anchor="middle">25</text>
<text x="437.1" y="649.9" font-size="8.6" fill="#000050" text-anchor="middle">30</text>
<text x="467.2" y="649.9" font-size="8.6" fill="#000050" text-anchor="middle">35</text>
<text x="497.3" y="649.9" font-size="8.6" fill="#000050" text-anchor="middle">40</text>
<text x="310.6" y="661.5" font-size="9.3" fill="#000050" textLength="128.8" lengthAdjust="spacing">Significant Wave Height (Feet)</text>
</svg></body></html>
